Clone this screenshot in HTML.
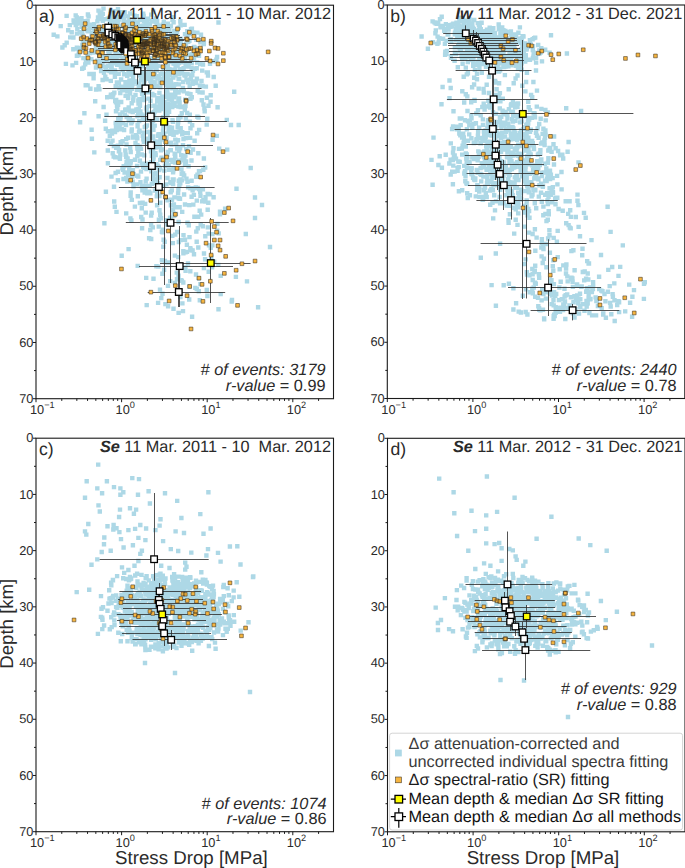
<!DOCTYPE html>
<html><head><meta charset="utf-8"><style>
html,body{margin:0;padding:0;background:#fff;width:685px;height:868px;overflow:hidden}
svg{display:block;font-family:"Liberation Sans",sans-serif;text-rendering:geometricPrecision}
text,tspan{text-rendering:geometricPrecision}
</style></head><body><svg width="685" height="868" viewBox="0 0 685 868" font-family="Liberation Sans, sans-serif" fill="#2a2a2a"><clipPath id="clip-a"><rect x="36.00" y="5.20" width="297.5" height="393.5"/></clipPath>
<g clip-path="url(#clip-a)">
<path d="M243.6 231.8h4.4v4.4h-4.4zM267.8 244.8h4.4v4.4h-4.4zM244.8 279.2h4.4v4.4h-4.4zM229.8 297.8h4.4v4.4h-4.4zM252.8 215.8h4.4v4.4h-4.4zM259.8 202.8h4.4v4.4h-4.4zM228.8 122.8h4.4v4.4h-4.4zM236.5 122.8h4.4v4.4h-4.4zM248.5 165.8h4.4v4.4h-4.4zM252.8 195.3h4.4v4.4h-4.4zM234.3 186.5h4.4v4.4h-4.4zM101.3 6.4h4.4v4.4h-4.4zM115.8 6.9h4.4v4.4h-4.4zM108.6 8.6h4.4v4.4h-4.4zM96.3 8.4h4.4v4.4h-4.4zM111.9 9.0h4.4v4.4h-4.4zM151.1 9.5h4.4v4.4h-4.4zM119.3 10.0h4.4v4.4h-4.4zM99.1 10.2h4.4v4.4h-4.4zM122.5 10.1h4.4v4.4h-4.4zM127.9 11.3h4.4v4.4h-4.4zM100.6 11.7h4.4v4.4h-4.4zM110.5 11.0h4.4v4.4h-4.4zM141.0 11.4h4.4v4.4h-4.4zM85.7 12.3h4.4v4.4h-4.4zM97.6 12.1h4.4v4.4h-4.4zM121.9 11.8h4.4v4.4h-4.4zM149.0 12.4h4.4v4.4h-4.4zM97.7 13.0h4.4v4.4h-4.4zM132.4 13.6h4.4v4.4h-4.4zM73.5 13.2h4.4v4.4h-4.4zM64.4 13.7h4.4v4.4h-4.4zM141.5 13.8h4.4v4.4h-4.4zM109.2 14.2h4.4v4.4h-4.4zM134.7 13.9h4.4v4.4h-4.4zM125.7 14.2h4.4v4.4h-4.4zM99.4 14.7h4.4v4.4h-4.4zM86.4 14.2h4.4v4.4h-4.4zM120.9 14.0h4.4v4.4h-4.4zM170.6 15.1h4.4v4.4h-4.4zM107.5 15.7h4.4v4.4h-4.4zM108.3 15.3h4.4v4.4h-4.4zM95.8 15.2h4.4v4.4h-4.4zM117.0 14.9h4.4v4.4h-4.4zM74.6 15.2h4.4v4.4h-4.4zM112.1 15.3h4.4v4.4h-4.4zM98.0 16.8h4.4v4.4h-4.4zM115.9 16.5h4.4v4.4h-4.4zM105.7 16.5h4.4v4.4h-4.4zM145.9 16.6h4.4v4.4h-4.4zM79.3 16.0h4.4v4.4h-4.4zM153.9 16.3h4.4v4.4h-4.4zM121.6 16.6h4.4v4.4h-4.4zM102.2 17.1h4.4v4.4h-4.4zM113.5 17.0h4.4v4.4h-4.4zM137.5 17.8h4.4v4.4h-4.4zM75.9 16.9h4.4v4.4h-4.4zM127.2 17.0h4.4v4.4h-4.4zM116.5 17.3h4.4v4.4h-4.4zM76.8 17.5h4.4v4.4h-4.4zM170.3 17.6h4.4v4.4h-4.4zM132.2 18.0h4.4v4.4h-4.4zM141.9 18.8h4.4v4.4h-4.4zM85.4 18.7h4.4v4.4h-4.4zM100.6 18.6h4.4v4.4h-4.4zM71.4 18.2h4.4v4.4h-4.4zM149.5 18.7h4.4v4.4h-4.4zM154.9 18.7h4.4v4.4h-4.4zM150.0 18.4h4.4v4.4h-4.4zM121.3 18.0h4.4v4.4h-4.4zM150.1 19.3h4.4v4.4h-4.4zM82.6 19.1h4.4v4.4h-4.4zM161.6 19.4h4.4v4.4h-4.4zM131.8 19.8h4.4v4.4h-4.4zM111.2 19.6h4.4v4.4h-4.4zM107.6 19.4h4.4v4.4h-4.4zM95.2 19.2h4.4v4.4h-4.4zM178.1 19.1h4.4v4.4h-4.4zM125.5 19.4h4.4v4.4h-4.4zM144.8 19.7h4.4v4.4h-4.4zM128.0 20.7h4.4v4.4h-4.4zM71.7 20.3h4.4v4.4h-4.4zM109.2 20.2h4.4v4.4h-4.4zM171.4 20.0h4.4v4.4h-4.4zM154.3 19.9h4.4v4.4h-4.4zM134.6 20.3h4.4v4.4h-4.4zM132.4 20.6h4.4v4.4h-4.4zM75.8 20.7h4.4v4.4h-4.4zM216.3 20.3h4.4v4.4h-4.4zM78.1 20.3h4.4v4.4h-4.4zM153.9 20.0h4.4v4.4h-4.4zM74.2 21.6h4.4v4.4h-4.4zM135.5 21.1h4.4v4.4h-4.4zM129.5 20.8h4.4v4.4h-4.4zM145.5 21.5h4.4v4.4h-4.4zM110.6 21.3h4.4v4.4h-4.4zM115.9 21.1h4.4v4.4h-4.4zM154.8 21.2h4.4v4.4h-4.4zM76.7 21.0h4.4v4.4h-4.4zM115.0 21.1h4.4v4.4h-4.4zM165.7 21.4h4.4v4.4h-4.4zM114.3 20.9h4.4v4.4h-4.4zM143.4 22.7h4.4v4.4h-4.4zM160.6 22.4h4.4v4.4h-4.4zM91.9 21.9h4.4v4.4h-4.4zM111.1 22.5h4.4v4.4h-4.4zM122.6 21.9h4.4v4.4h-4.4zM182.4 22.7h4.4v4.4h-4.4zM84.8 22.6h4.4v4.4h-4.4zM147.7 22.4h4.4v4.4h-4.4zM155.3 22.7h4.4v4.4h-4.4zM88.3 22.5h4.4v4.4h-4.4zM81.7 22.7h4.4v4.4h-4.4zM107.1 23.8h4.4v4.4h-4.4zM67.6 22.9h4.4v4.4h-4.4zM89.0 23.3h4.4v4.4h-4.4zM137.1 23.7h4.4v4.4h-4.4zM125.0 23.7h4.4v4.4h-4.4zM166.3 23.7h4.4v4.4h-4.4zM178.4 23.0h4.4v4.4h-4.4zM73.6 22.8h4.4v4.4h-4.4zM140.8 23.5h4.4v4.4h-4.4zM116.7 23.7h4.4v4.4h-4.4zM89.5 23.6h4.4v4.4h-4.4zM157.1 23.7h4.4v4.4h-4.4zM156.5 24.0h4.4v4.4h-4.4zM58.5 23.9h4.4v4.4h-4.4zM134.3 23.8h4.4v4.4h-4.4zM129.2 24.0h4.4v4.4h-4.4zM127.1 24.5h4.4v4.4h-4.4zM168.7 23.8h4.4v4.4h-4.4zM164.8 24.2h4.4v4.4h-4.4zM99.0 24.6h4.4v4.4h-4.4zM79.6 24.7h4.4v4.4h-4.4zM130.3 24.4h4.4v4.4h-4.4zM121.5 24.1h4.4v4.4h-4.4zM159.2 23.9h4.4v4.4h-4.4zM123.8 25.3h4.4v4.4h-4.4zM144.3 25.4h4.4v4.4h-4.4zM97.8 24.8h4.4v4.4h-4.4zM122.1 25.3h4.4v4.4h-4.4zM90.3 25.8h4.4v4.4h-4.4zM93.4 25.3h4.4v4.4h-4.4zM101.9 25.8h4.4v4.4h-4.4zM109.9 25.1h4.4v4.4h-4.4zM176.6 25.6h4.4v4.4h-4.4zM94.0 25.5h4.4v4.4h-4.4zM92.1 25.0h4.4v4.4h-4.4zM92.5 25.4h4.4v4.4h-4.4zM115.2 25.9h4.4v4.4h-4.4zM75.1 26.7h4.4v4.4h-4.4zM97.4 26.6h4.4v4.4h-4.4zM189.7 26.5h4.4v4.4h-4.4zM175.4 26.3h4.4v4.4h-4.4zM99.2 26.3h4.4v4.4h-4.4zM98.1 26.5h4.4v4.4h-4.4zM116.3 26.6h4.4v4.4h-4.4zM175.7 26.8h4.4v4.4h-4.4zM158.2 26.1h4.4v4.4h-4.4zM88.0 25.8h4.4v4.4h-4.4zM110.8 26.7h4.4v4.4h-4.4zM86.6 27.2h4.4v4.4h-4.4zM94.2 27.7h4.4v4.4h-4.4zM161.4 27.4h4.4v4.4h-4.4zM114.6 27.6h4.4v4.4h-4.4zM188.8 27.1h4.4v4.4h-4.4zM135.7 27.4h4.4v4.4h-4.4zM149.1 27.6h4.4v4.4h-4.4zM81.3 27.0h4.4v4.4h-4.4zM163.3 27.7h4.4v4.4h-4.4zM97.9 27.6h4.4v4.4h-4.4zM158.8 27.4h4.4v4.4h-4.4zM167.1 27.7h4.4v4.4h-4.4zM116.6 28.0h4.4v4.4h-4.4zM86.8 27.8h4.4v4.4h-4.4zM135.9 27.9h4.4v4.4h-4.4zM140.3 28.1h4.4v4.4h-4.4zM164.3 27.9h4.4v4.4h-4.4zM106.9 28.5h4.4v4.4h-4.4zM152.9 28.7h4.4v4.4h-4.4zM102.5 28.1h4.4v4.4h-4.4zM172.1 28.8h4.4v4.4h-4.4zM66.0 28.0h4.4v4.4h-4.4zM123.8 27.9h4.4v4.4h-4.4zM134.1 28.8h4.4v4.4h-4.4zM92.4 28.5h4.4v4.4h-4.4zM185.1 29.1h4.4v4.4h-4.4zM85.4 28.9h4.4v4.4h-4.4zM137.5 29.4h4.4v4.4h-4.4zM104.3 29.5h4.4v4.4h-4.4zM151.6 28.9h4.4v4.4h-4.4zM128.3 29.7h4.4v4.4h-4.4zM142.4 29.7h4.4v4.4h-4.4zM127.2 29.3h4.4v4.4h-4.4zM99.3 29.6h4.4v4.4h-4.4zM85.9 29.0h4.4v4.4h-4.4zM131.0 29.7h4.4v4.4h-4.4zM159.2 29.2h4.4v4.4h-4.4zM86.6 29.1h4.4v4.4h-4.4zM106.0 30.5h4.4v4.4h-4.4zM149.3 30.5h4.4v4.4h-4.4zM120.7 30.0h4.4v4.4h-4.4zM103.5 30.0h4.4v4.4h-4.4zM195.2 30.4h4.4v4.4h-4.4zM191.1 30.3h4.4v4.4h-4.4zM77.5 29.9h4.4v4.4h-4.4zM174.9 30.2h4.4v4.4h-4.4zM156.2 30.5h4.4v4.4h-4.4zM134.4 30.7h4.4v4.4h-4.4zM69.5 30.0h4.4v4.4h-4.4zM89.6 30.7h4.4v4.4h-4.4zM129.6 30.7h4.4v4.4h-4.4zM120.9 31.3h4.4v4.4h-4.4zM116.0 31.5h4.4v4.4h-4.4zM129.8 31.0h4.4v4.4h-4.4zM189.8 31.3h4.4v4.4h-4.4zM163.5 31.3h4.4v4.4h-4.4zM99.1 30.9h4.4v4.4h-4.4zM153.1 31.2h4.4v4.4h-4.4zM93.0 31.0h4.4v4.4h-4.4zM171.6 31.0h4.4v4.4h-4.4zM172.9 31.6h4.4v4.4h-4.4zM79.5 31.0h4.4v4.4h-4.4zM79.7 31.2h4.4v4.4h-4.4zM74.8 31.4h4.4v4.4h-4.4zM150.8 30.9h4.4v4.4h-4.4zM107.8 32.2h4.4v4.4h-4.4zM107.0 32.5h4.4v4.4h-4.4zM108.2 32.5h4.4v4.4h-4.4zM198.8 32.5h4.4v4.4h-4.4zM182.8 31.9h4.4v4.4h-4.4zM169.2 31.9h4.4v4.4h-4.4zM186.0 32.5h4.4v4.4h-4.4zM105.5 32.7h4.4v4.4h-4.4zM151.9 32.1h4.4v4.4h-4.4zM106.9 32.8h4.4v4.4h-4.4zM51.5 32.5h4.4v4.4h-4.4zM152.3 32.4h4.4v4.4h-4.4zM130.3 32.0h4.4v4.4h-4.4zM80.3 32.4h4.4v4.4h-4.4zM95.0 33.7h4.4v4.4h-4.4zM134.5 33.4h4.4v4.4h-4.4zM136.1 33.7h4.4v4.4h-4.4zM162.3 33.3h4.4v4.4h-4.4zM192.1 33.4h4.4v4.4h-4.4zM97.6 33.2h4.4v4.4h-4.4zM162.4 33.3h4.4v4.4h-4.4zM146.2 33.7h4.4v4.4h-4.4zM142.4 32.8h4.4v4.4h-4.4zM120.9 33.4h4.4v4.4h-4.4zM160.2 33.3h4.4v4.4h-4.4zM93.9 33.5h4.4v4.4h-4.4zM110.4 33.3h4.4v4.4h-4.4zM101.5 33.6h4.4v4.4h-4.4zM146.9 34.0h4.4v4.4h-4.4zM175.0 34.8h4.4v4.4h-4.4zM159.1 33.8h4.4v4.4h-4.4zM162.7 33.9h4.4v4.4h-4.4zM127.9 33.9h4.4v4.4h-4.4zM139.6 34.5h4.4v4.4h-4.4zM114.0 34.2h4.4v4.4h-4.4zM173.9 34.8h4.4v4.4h-4.4zM121.2 33.8h4.4v4.4h-4.4zM140.7 33.9h4.4v4.4h-4.4zM98.7 34.6h4.4v4.4h-4.4zM89.3 34.2h4.4v4.4h-4.4zM55.2 34.2h4.4v4.4h-4.4zM154.0 34.2h4.4v4.4h-4.4zM68.0 35.2h4.4v4.4h-4.4zM133.6 34.9h4.4v4.4h-4.4zM98.0 35.6h4.4v4.4h-4.4zM156.4 35.2h4.4v4.4h-4.4zM129.2 35.3h4.4v4.4h-4.4zM114.6 35.1h4.4v4.4h-4.4zM94.7 35.4h4.4v4.4h-4.4zM165.3 35.3h4.4v4.4h-4.4zM93.4 34.8h4.4v4.4h-4.4zM109.2 35.4h4.4v4.4h-4.4zM134.5 35.0h4.4v4.4h-4.4zM142.7 34.9h4.4v4.4h-4.4zM111.7 35.7h4.4v4.4h-4.4zM71.2 35.3h4.4v4.4h-4.4zM148.9 35.9h4.4v4.4h-4.4zM178.2 36.4h4.4v4.4h-4.4zM146.9 35.8h4.4v4.4h-4.4zM155.1 35.8h4.4v4.4h-4.4zM151.1 36.0h4.4v4.4h-4.4zM120.6 36.2h4.4v4.4h-4.4zM169.0 36.7h4.4v4.4h-4.4zM133.1 35.8h4.4v4.4h-4.4zM150.4 36.2h4.4v4.4h-4.4zM167.8 36.1h4.4v4.4h-4.4zM176.1 36.8h4.4v4.4h-4.4zM145.5 36.7h4.4v4.4h-4.4zM173.5 36.7h4.4v4.4h-4.4zM111.1 36.1h4.4v4.4h-4.4zM194.2 37.6h4.4v4.4h-4.4zM115.6 36.8h4.4v4.4h-4.4zM115.2 37.6h4.4v4.4h-4.4zM162.6 37.5h4.4v4.4h-4.4zM117.5 37.3h4.4v4.4h-4.4zM94.2 37.6h4.4v4.4h-4.4zM117.6 37.4h4.4v4.4h-4.4zM86.1 37.0h4.4v4.4h-4.4zM167.7 37.6h4.4v4.4h-4.4zM108.3 37.8h4.4v4.4h-4.4zM178.9 36.9h4.4v4.4h-4.4zM116.7 36.8h4.4v4.4h-4.4zM118.3 37.1h4.4v4.4h-4.4zM158.3 37.6h4.4v4.4h-4.4zM187.2 38.6h4.4v4.4h-4.4zM100.1 38.0h4.4v4.4h-4.4zM117.4 38.8h4.4v4.4h-4.4zM110.8 38.5h4.4v4.4h-4.4zM87.0 38.0h4.4v4.4h-4.4zM170.8 38.4h4.4v4.4h-4.4zM152.1 38.1h4.4v4.4h-4.4zM165.8 38.5h4.4v4.4h-4.4zM97.2 38.3h4.4v4.4h-4.4zM136.0 38.8h4.4v4.4h-4.4zM175.6 37.8h4.4v4.4h-4.4zM85.0 38.2h4.4v4.4h-4.4zM171.9 38.0h4.4v4.4h-4.4zM87.5 38.8h4.4v4.4h-4.4zM96.7 39.6h4.4v4.4h-4.4zM141.0 39.8h4.4v4.4h-4.4zM111.9 39.0h4.4v4.4h-4.4zM186.0 39.6h4.4v4.4h-4.4zM138.0 39.3h4.4v4.4h-4.4zM132.9 38.8h4.4v4.4h-4.4zM103.7 38.8h4.4v4.4h-4.4zM142.7 38.9h4.4v4.4h-4.4zM111.7 39.2h4.4v4.4h-4.4zM167.0 39.0h4.4v4.4h-4.4zM119.6 38.9h4.4v4.4h-4.4zM97.8 38.9h4.4v4.4h-4.4zM118.7 39.8h4.4v4.4h-4.4zM97.8 39.2h4.4v4.4h-4.4zM130.0 39.9h4.4v4.4h-4.4zM118.5 40.1h4.4v4.4h-4.4zM64.5 40.4h4.4v4.4h-4.4zM141.8 39.8h4.4v4.4h-4.4zM80.6 40.1h4.4v4.4h-4.4zM100.0 40.2h4.4v4.4h-4.4zM150.4 40.1h4.4v4.4h-4.4zM130.4 40.5h4.4v4.4h-4.4zM118.7 40.8h4.4v4.4h-4.4zM122.4 40.6h4.4v4.4h-4.4zM161.7 40.7h4.4v4.4h-4.4zM82.0 40.1h4.4v4.4h-4.4zM198.1 40.0h4.4v4.4h-4.4zM120.4 40.8h4.4v4.4h-4.4zM178.7 41.1h4.4v4.4h-4.4zM98.7 41.2h4.4v4.4h-4.4zM171.7 40.9h4.4v4.4h-4.4zM107.2 41.5h4.4v4.4h-4.4zM183.8 41.6h4.4v4.4h-4.4zM154.3 41.7h4.4v4.4h-4.4zM162.6 41.5h4.4v4.4h-4.4zM106.9 41.0h4.4v4.4h-4.4zM111.5 40.9h4.4v4.4h-4.4zM113.0 41.0h4.4v4.4h-4.4zM145.8 41.4h4.4v4.4h-4.4zM201.7 40.9h4.4v4.4h-4.4zM130.7 41.5h4.4v4.4h-4.4zM131.3 41.1h4.4v4.4h-4.4zM143.0 41.8h4.4v4.4h-4.4zM166.1 42.3h4.4v4.4h-4.4zM137.9 42.5h4.4v4.4h-4.4zM114.3 42.0h4.4v4.4h-4.4zM116.5 42.4h4.4v4.4h-4.4zM100.9 42.0h4.4v4.4h-4.4zM122.4 42.7h4.4v4.4h-4.4zM100.9 41.9h4.4v4.4h-4.4zM201.6 41.9h4.4v4.4h-4.4zM143.7 42.3h4.4v4.4h-4.4zM107.8 42.7h4.4v4.4h-4.4zM173.8 41.9h4.4v4.4h-4.4zM95.4 42.1h4.4v4.4h-4.4zM109.2 42.2h4.4v4.4h-4.4zM175.2 43.2h4.4v4.4h-4.4zM99.9 43.7h4.4v4.4h-4.4zM121.0 43.0h4.4v4.4h-4.4zM126.7 43.4h4.4v4.4h-4.4zM80.1 43.1h4.4v4.4h-4.4zM145.0 43.8h4.4v4.4h-4.4zM131.7 43.5h4.4v4.4h-4.4zM62.5 43.1h4.4v4.4h-4.4zM151.3 43.6h4.4v4.4h-4.4zM139.5 43.2h4.4v4.4h-4.4zM142.5 42.8h4.4v4.4h-4.4zM132.0 43.8h4.4v4.4h-4.4zM111.1 43.5h4.4v4.4h-4.4zM130.3 43.4h4.4v4.4h-4.4zM109.4 44.2h4.4v4.4h-4.4zM137.2 43.8h4.4v4.4h-4.4zM173.6 43.9h4.4v4.4h-4.4zM97.4 44.4h4.4v4.4h-4.4zM138.4 44.7h4.4v4.4h-4.4zM158.2 44.5h4.4v4.4h-4.4zM125.6 44.3h4.4v4.4h-4.4zM163.6 44.2h4.4v4.4h-4.4zM113.2 44.3h4.4v4.4h-4.4zM142.5 44.7h4.4v4.4h-4.4zM149.8 44.5h4.4v4.4h-4.4zM103.5 44.8h4.4v4.4h-4.4zM110.8 44.2h4.4v4.4h-4.4zM109.3 44.5h4.4v4.4h-4.4zM183.5 45.1h4.4v4.4h-4.4zM173.0 45.6h4.4v4.4h-4.4zM134.7 45.4h4.4v4.4h-4.4zM191.8 44.8h4.4v4.4h-4.4zM118.2 44.9h4.4v4.4h-4.4zM129.1 45.0h4.4v4.4h-4.4zM121.4 45.1h4.4v4.4h-4.4zM93.7 45.1h4.4v4.4h-4.4zM163.4 45.3h4.4v4.4h-4.4zM192.5 45.5h4.4v4.4h-4.4zM129.8 45.6h4.4v4.4h-4.4zM78.7 45.7h4.4v4.4h-4.4zM60.2 45.3h4.4v4.4h-4.4zM74.7 45.5h4.4v4.4h-4.4zM148.5 46.7h4.4v4.4h-4.4zM81.3 46.0h4.4v4.4h-4.4zM127.8 46.1h4.4v4.4h-4.4zM105.1 46.6h4.4v4.4h-4.4zM74.9 46.4h4.4v4.4h-4.4zM133.6 46.4h4.4v4.4h-4.4zM149.9 46.2h4.4v4.4h-4.4zM195.7 46.1h4.4v4.4h-4.4zM114.8 46.1h4.4v4.4h-4.4zM198.5 46.5h4.4v4.4h-4.4zM174.4 46.8h4.4v4.4h-4.4zM120.7 45.9h4.4v4.4h-4.4zM153.4 46.4h4.4v4.4h-4.4zM99.9 45.9h4.4v4.4h-4.4zM117.2 47.7h4.4v4.4h-4.4zM94.1 47.0h4.4v4.4h-4.4zM157.3 47.2h4.4v4.4h-4.4zM108.1 46.8h4.4v4.4h-4.4zM71.1 47.0h4.4v4.4h-4.4zM146.1 47.7h4.4v4.4h-4.4zM98.3 47.7h4.4v4.4h-4.4zM144.1 47.3h4.4v4.4h-4.4zM153.0 47.6h4.4v4.4h-4.4zM166.1 46.9h4.4v4.4h-4.4zM119.1 47.7h4.4v4.4h-4.4zM93.9 47.1h4.4v4.4h-4.4zM175.8 47.1h4.4v4.4h-4.4zM185.1 47.3h4.4v4.4h-4.4zM80.5 48.1h4.4v4.4h-4.4zM154.1 48.6h4.4v4.4h-4.4zM123.4 47.9h4.4v4.4h-4.4zM91.2 48.7h4.4v4.4h-4.4zM135.9 48.1h4.4v4.4h-4.4zM100.6 48.8h4.4v4.4h-4.4zM152.3 48.2h4.4v4.4h-4.4zM137.9 48.7h4.4v4.4h-4.4zM108.6 48.2h4.4v4.4h-4.4zM106.2 48.7h4.4v4.4h-4.4zM130.7 48.6h4.4v4.4h-4.4zM129.8 48.0h4.4v4.4h-4.4zM115.2 48.4h4.4v4.4h-4.4zM117.0 48.5h4.4v4.4h-4.4zM166.9 49.0h4.4v4.4h-4.4zM118.5 49.1h4.4v4.4h-4.4zM121.7 48.9h4.4v4.4h-4.4zM91.9 49.3h4.4v4.4h-4.4zM96.5 49.8h4.4v4.4h-4.4zM139.9 49.5h4.4v4.4h-4.4zM115.6 49.3h4.4v4.4h-4.4zM138.5 49.3h4.4v4.4h-4.4zM125.0 49.5h4.4v4.4h-4.4zM128.4 49.7h4.4v4.4h-4.4zM90.3 49.1h4.4v4.4h-4.4zM158.2 48.9h4.4v4.4h-4.4zM76.6 49.3h4.4v4.4h-4.4zM153.5 49.2h4.4v4.4h-4.4zM122.2 50.7h4.4v4.4h-4.4zM114.1 50.2h4.4v4.4h-4.4zM143.8 49.8h4.4v4.4h-4.4zM119.2 50.2h4.4v4.4h-4.4zM138.6 50.3h4.4v4.4h-4.4zM92.9 50.1h4.4v4.4h-4.4zM177.4 50.4h4.4v4.4h-4.4zM153.9 50.4h4.4v4.4h-4.4zM106.9 49.9h4.4v4.4h-4.4zM163.8 50.6h4.4v4.4h-4.4zM107.3 49.9h4.4v4.4h-4.4zM137.6 50.8h4.4v4.4h-4.4zM90.2 50.4h4.4v4.4h-4.4zM138.2 50.2h4.4v4.4h-4.4zM113.4 51.7h4.4v4.4h-4.4zM153.9 51.7h4.4v4.4h-4.4zM177.0 51.4h4.4v4.4h-4.4zM183.1 51.0h4.4v4.4h-4.4zM171.6 51.7h4.4v4.4h-4.4zM124.5 51.3h4.4v4.4h-4.4zM127.6 50.9h4.4v4.4h-4.4zM87.8 50.9h4.4v4.4h-4.4zM158.8 51.1h4.4v4.4h-4.4zM173.5 51.5h4.4v4.4h-4.4zM123.4 51.7h4.4v4.4h-4.4zM153.1 51.5h4.4v4.4h-4.4zM131.3 51.0h4.4v4.4h-4.4zM116.2 51.0h4.4v4.4h-4.4zM157.2 52.5h4.4v4.4h-4.4zM136.4 51.8h4.4v4.4h-4.4zM184.5 52.2h4.4v4.4h-4.4zM178.9 51.9h4.4v4.4h-4.4zM124.8 52.6h4.4v4.4h-4.4zM189.6 51.9h4.4v4.4h-4.4zM173.0 52.6h4.4v4.4h-4.4zM139.8 52.8h4.4v4.4h-4.4zM98.1 52.4h4.4v4.4h-4.4zM145.4 51.9h4.4v4.4h-4.4zM128.9 52.7h4.4v4.4h-4.4zM167.7 52.4h4.4v4.4h-4.4zM155.0 52.0h4.4v4.4h-4.4zM185.4 52.7h4.4v4.4h-4.4zM131.7 53.3h4.4v4.4h-4.4zM157.9 53.0h4.4v4.4h-4.4zM76.4 53.1h4.4v4.4h-4.4zM155.1 53.0h4.4v4.4h-4.4zM105.9 53.6h4.4v4.4h-4.4zM139.8 53.4h4.4v4.4h-4.4zM192.2 53.7h4.4v4.4h-4.4zM115.1 53.1h4.4v4.4h-4.4zM74.7 53.6h4.4v4.4h-4.4zM110.9 53.7h4.4v4.4h-4.4zM117.9 53.5h4.4v4.4h-4.4zM196.8 53.6h4.4v4.4h-4.4zM171.6 53.7h4.4v4.4h-4.4zM176.1 54.1h4.4v4.4h-4.4zM164.4 53.8h4.4v4.4h-4.4zM173.2 54.0h4.4v4.4h-4.4zM133.6 54.5h4.4v4.4h-4.4zM176.4 54.5h4.4v4.4h-4.4zM157.0 54.3h4.4v4.4h-4.4zM173.6 54.6h4.4v4.4h-4.4zM167.4 54.0h4.4v4.4h-4.4zM85.2 54.6h4.4v4.4h-4.4zM158.2 53.9h4.4v4.4h-4.4zM169.7 54.1h4.4v4.4h-4.4zM113.6 54.1h4.4v4.4h-4.4zM100.7 54.3h4.4v4.4h-4.4zM117.3 54.0h4.4v4.4h-4.4zM155.6 55.3h4.4v4.4h-4.4zM121.0 55.8h4.4v4.4h-4.4zM108.9 55.3h4.4v4.4h-4.4zM214.9 54.8h4.4v4.4h-4.4zM153.0 55.5h4.4v4.4h-4.4zM171.8 55.0h4.4v4.4h-4.4zM101.5 55.0h4.4v4.4h-4.4zM127.2 54.9h4.4v4.4h-4.4zM169.5 55.1h4.4v4.4h-4.4zM140.5 55.1h4.4v4.4h-4.4zM157.0 55.5h4.4v4.4h-4.4zM114.1 55.4h4.4v4.4h-4.4zM182.8 55.0h4.4v4.4h-4.4zM101.0 56.2h4.4v4.4h-4.4zM161.0 56.3h4.4v4.4h-4.4zM81.2 55.9h4.4v4.4h-4.4zM168.9 56.1h4.4v4.4h-4.4zM114.3 56.0h4.4v4.4h-4.4zM106.1 56.5h4.4v4.4h-4.4zM161.9 56.6h4.4v4.4h-4.4zM149.3 56.1h4.4v4.4h-4.4zM191.8 56.5h4.4v4.4h-4.4zM152.5 56.3h4.4v4.4h-4.4zM142.3 56.4h4.4v4.4h-4.4zM112.4 56.3h4.4v4.4h-4.4zM140.9 56.6h4.4v4.4h-4.4zM172.4 57.4h4.4v4.4h-4.4zM131.5 56.9h4.4v4.4h-4.4zM105.4 57.7h4.4v4.4h-4.4zM123.7 57.1h4.4v4.4h-4.4zM153.8 56.9h4.4v4.4h-4.4zM154.5 57.7h4.4v4.4h-4.4zM214.2 57.6h4.4v4.4h-4.4zM110.9 57.0h4.4v4.4h-4.4zM120.5 57.2h4.4v4.4h-4.4zM141.3 57.1h4.4v4.4h-4.4zM157.9 57.0h4.4v4.4h-4.4zM89.1 56.9h4.4v4.4h-4.4zM155.7 57.4h4.4v4.4h-4.4zM165.5 57.3h4.4v4.4h-4.4zM108.6 57.9h4.4v4.4h-4.4zM188.5 58.4h4.4v4.4h-4.4zM100.9 58.8h4.4v4.4h-4.4zM124.7 58.5h4.4v4.4h-4.4zM109.3 57.9h4.4v4.4h-4.4zM95.8 58.7h4.4v4.4h-4.4zM163.1 58.7h4.4v4.4h-4.4zM140.8 58.7h4.4v4.4h-4.4zM137.5 58.7h4.4v4.4h-4.4zM127.7 58.7h4.4v4.4h-4.4zM159.6 58.2h4.4v4.4h-4.4zM95.1 58.4h4.4v4.4h-4.4zM83.7 58.4h4.4v4.4h-4.4zM169.3 59.5h4.4v4.4h-4.4zM165.5 59.0h4.4v4.4h-4.4zM150.1 59.3h4.4v4.4h-4.4zM149.4 59.3h4.4v4.4h-4.4zM183.1 58.8h4.4v4.4h-4.4zM138.9 58.9h4.4v4.4h-4.4zM101.3 59.1h4.4v4.4h-4.4zM99.8 59.1h4.4v4.4h-4.4zM152.1 59.6h4.4v4.4h-4.4zM171.6 58.9h4.4v4.4h-4.4zM116.2 59.8h4.4v4.4h-4.4zM153.3 59.5h4.4v4.4h-4.4zM212.3 59.1h4.4v4.4h-4.4zM136.3 60.0h4.4v4.4h-4.4zM135.1 60.5h4.4v4.4h-4.4zM179.0 60.0h4.4v4.4h-4.4zM112.2 60.6h4.4v4.4h-4.4zM86.2 60.3h4.4v4.4h-4.4zM189.5 60.5h4.4v4.4h-4.4zM174.4 60.2h4.4v4.4h-4.4zM132.3 60.1h4.4v4.4h-4.4zM138.5 60.2h4.4v4.4h-4.4zM73.9 60.7h4.4v4.4h-4.4zM176.7 60.8h4.4v4.4h-4.4zM174.5 59.8h4.4v4.4h-4.4zM195.0 60.3h4.4v4.4h-4.4zM138.7 61.0h4.4v4.4h-4.4zM63.7 61.7h4.4v4.4h-4.4zM134.4 61.0h4.4v4.4h-4.4zM146.6 61.1h4.4v4.4h-4.4zM185.9 61.4h4.4v4.4h-4.4zM172.6 61.7h4.4v4.4h-4.4zM118.9 60.8h4.4v4.4h-4.4zM114.3 61.4h4.4v4.4h-4.4zM207.8 61.7h4.4v4.4h-4.4zM171.3 61.3h4.4v4.4h-4.4zM108.4 61.2h4.4v4.4h-4.4zM132.2 61.2h4.4v4.4h-4.4zM165.9 61.0h4.4v4.4h-4.4zM120.4 62.7h4.4v4.4h-4.4zM138.1 62.6h4.4v4.4h-4.4zM83.0 62.2h4.4v4.4h-4.4zM200.8 62.3h4.4v4.4h-4.4zM115.0 62.7h4.4v4.4h-4.4zM95.5 62.5h4.4v4.4h-4.4zM123.9 62.3h4.4v4.4h-4.4zM198.0 61.9h4.4v4.4h-4.4zM147.2 62.1h4.4v4.4h-4.4zM153.4 61.8h4.4v4.4h-4.4zM184.1 62.8h4.4v4.4h-4.4zM153.9 62.8h4.4v4.4h-4.4zM108.9 63.1h4.4v4.4h-4.4zM70.3 63.2h4.4v4.4h-4.4zM147.7 63.2h4.4v4.4h-4.4zM130.9 63.7h4.4v4.4h-4.4zM137.4 63.6h4.4v4.4h-4.4zM132.9 63.0h4.4v4.4h-4.4zM165.1 63.0h4.4v4.4h-4.4zM183.4 63.6h4.4v4.4h-4.4zM151.3 63.7h4.4v4.4h-4.4zM175.4 63.2h4.4v4.4h-4.4zM156.3 63.7h4.4v4.4h-4.4zM106.0 63.5h4.4v4.4h-4.4zM100.1 63.3h4.4v4.4h-4.4zM103.3 64.6h4.4v4.4h-4.4zM120.6 64.8h4.4v4.4h-4.4zM118.8 64.8h4.4v4.4h-4.4zM119.4 64.3h4.4v4.4h-4.4zM173.4 63.9h4.4v4.4h-4.4zM135.4 64.2h4.4v4.4h-4.4zM128.0 64.4h4.4v4.4h-4.4zM186.4 64.3h4.4v4.4h-4.4zM140.3 64.2h4.4v4.4h-4.4zM98.7 64.1h4.4v4.4h-4.4zM184.1 64.4h4.4v4.4h-4.4zM165.7 64.5h4.4v4.4h-4.4zM128.8 65.8h4.4v4.4h-4.4zM118.7 65.1h4.4v4.4h-4.4zM153.9 64.9h4.4v4.4h-4.4zM93.8 65.3h4.4v4.4h-4.4zM133.5 65.6h4.4v4.4h-4.4zM189.4 65.4h4.4v4.4h-4.4zM130.1 65.3h4.4v4.4h-4.4zM161.4 65.5h4.4v4.4h-4.4zM151.2 65.4h4.4v4.4h-4.4zM81.5 65.6h4.4v4.4h-4.4zM109.5 64.9h4.4v4.4h-4.4zM145.9 65.1h4.4v4.4h-4.4zM131.4 66.1h4.4v4.4h-4.4zM192.6 66.5h4.4v4.4h-4.4zM181.4 66.1h4.4v4.4h-4.4zM132.7 66.5h4.4v4.4h-4.4zM109.0 66.3h4.4v4.4h-4.4zM147.2 66.1h4.4v4.4h-4.4zM194.5 66.1h4.4v4.4h-4.4zM80.0 66.5h4.4v4.4h-4.4zM123.2 65.9h4.4v4.4h-4.4zM148.2 66.5h4.4v4.4h-4.4zM127.1 66.4h4.4v4.4h-4.4zM169.9 67.6h4.4v4.4h-4.4zM154.0 67.6h4.4v4.4h-4.4zM131.4 66.9h4.4v4.4h-4.4zM179.1 67.1h4.4v4.4h-4.4zM177.9 67.0h4.4v4.4h-4.4zM167.3 67.1h4.4v4.4h-4.4zM172.9 67.8h4.4v4.4h-4.4zM191.0 66.8h4.4v4.4h-4.4zM134.0 67.6h4.4v4.4h-4.4zM126.3 67.1h4.4v4.4h-4.4zM179.3 67.1h4.4v4.4h-4.4zM112.8 68.5h4.4v4.4h-4.4zM120.5 67.9h4.4v4.4h-4.4zM154.5 68.2h4.4v4.4h-4.4zM103.8 68.1h4.4v4.4h-4.4zM166.0 68.6h4.4v4.4h-4.4zM200.0 68.4h4.4v4.4h-4.4zM179.8 68.5h4.4v4.4h-4.4zM167.4 67.9h4.4v4.4h-4.4zM134.4 68.2h4.4v4.4h-4.4zM112.6 68.2h4.4v4.4h-4.4zM190.7 68.5h4.4v4.4h-4.4zM107.3 68.8h4.4v4.4h-4.4zM127.3 69.6h4.4v4.4h-4.4zM109.9 69.4h4.4v4.4h-4.4zM166.1 69.3h4.4v4.4h-4.4zM98.9 68.8h4.4v4.4h-4.4zM135.2 69.6h4.4v4.4h-4.4zM141.0 69.8h4.4v4.4h-4.4zM127.7 69.3h4.4v4.4h-4.4zM126.4 69.5h4.4v4.4h-4.4zM147.0 69.0h4.4v4.4h-4.4zM174.8 69.8h4.4v4.4h-4.4zM205.6 70.2h4.4v4.4h-4.4zM139.7 70.0h4.4v4.4h-4.4zM146.5 70.5h4.4v4.4h-4.4zM127.2 70.2h4.4v4.4h-4.4zM109.0 70.2h4.4v4.4h-4.4zM113.1 70.5h4.4v4.4h-4.4zM178.3 70.1h4.4v4.4h-4.4zM204.6 70.2h4.4v4.4h-4.4zM101.8 70.7h4.4v4.4h-4.4zM167.8 70.2h4.4v4.4h-4.4zM178.1 70.7h4.4v4.4h-4.4zM138.8 70.9h4.4v4.4h-4.4zM130.6 71.0h4.4v4.4h-4.4zM160.0 71.3h4.4v4.4h-4.4zM177.3 71.7h4.4v4.4h-4.4zM158.4 71.7h4.4v4.4h-4.4zM143.2 71.2h4.4v4.4h-4.4zM116.5 71.6h4.4v4.4h-4.4zM163.3 71.4h4.4v4.4h-4.4zM91.5 71.7h4.4v4.4h-4.4zM151.7 71.2h4.4v4.4h-4.4zM148.4 72.3h4.4v4.4h-4.4zM128.4 72.3h4.4v4.4h-4.4zM152.7 72.4h4.4v4.4h-4.4zM87.2 71.8h4.4v4.4h-4.4zM185.4 71.8h4.4v4.4h-4.4zM183.4 72.8h4.4v4.4h-4.4zM121.9 72.0h4.4v4.4h-4.4zM182.6 71.8h4.4v4.4h-4.4zM182.1 72.3h4.4v4.4h-4.4zM146.2 72.3h4.4v4.4h-4.4zM146.8 72.9h4.4v4.4h-4.4zM137.8 73.4h4.4v4.4h-4.4zM205.8 73.4h4.4v4.4h-4.4zM182.6 73.4h4.4v4.4h-4.4zM188.9 73.6h4.4v4.4h-4.4zM190.1 72.8h4.4v4.4h-4.4zM167.5 73.3h4.4v4.4h-4.4zM125.0 73.5h4.4v4.4h-4.4zM173.3 73.0h4.4v4.4h-4.4zM150.7 73.4h4.4v4.4h-4.4zM154.0 74.6h4.4v4.4h-4.4zM103.1 74.5h4.4v4.4h-4.4zM163.1 74.6h4.4v4.4h-4.4zM156.8 74.1h4.4v4.4h-4.4zM150.6 74.7h4.4v4.4h-4.4zM112.7 74.5h4.4v4.4h-4.4zM141.6 74.7h4.4v4.4h-4.4zM146.7 74.5h4.4v4.4h-4.4zM150.2 74.4h4.4v4.4h-4.4zM155.3 74.3h4.4v4.4h-4.4zM162.1 75.0h4.4v4.4h-4.4zM130.9 75.2h4.4v4.4h-4.4zM155.9 75.4h4.4v4.4h-4.4zM165.5 74.9h4.4v4.4h-4.4zM155.1 75.0h4.4v4.4h-4.4zM211.5 74.8h4.4v4.4h-4.4zM142.2 75.5h4.4v4.4h-4.4zM149.0 75.4h4.4v4.4h-4.4zM171.1 75.3h4.4v4.4h-4.4zM140.2 75.7h4.4v4.4h-4.4zM159.2 76.6h4.4v4.4h-4.4zM142.4 76.3h4.4v4.4h-4.4zM91.4 76.0h4.4v4.4h-4.4zM141.5 76.3h4.4v4.4h-4.4zM194.7 76.4h4.4v4.4h-4.4zM188.7 76.5h4.4v4.4h-4.4zM143.6 75.9h4.4v4.4h-4.4zM145.5 76.6h4.4v4.4h-4.4zM155.4 76.2h4.4v4.4h-4.4zM177.0 76.6h4.4v4.4h-4.4zM163.6 77.7h4.4v4.4h-4.4zM164.1 77.1h4.4v4.4h-4.4zM142.3 77.0h4.4v4.4h-4.4zM162.9 77.4h4.4v4.4h-4.4zM104.3 77.1h4.4v4.4h-4.4zM118.9 77.3h4.4v4.4h-4.4zM184.3 77.4h4.4v4.4h-4.4zM141.0 77.0h4.4v4.4h-4.4zM176.4 76.8h4.4v4.4h-4.4zM138.7 77.9h4.4v4.4h-4.4zM142.4 78.1h4.4v4.4h-4.4zM148.2 78.5h4.4v4.4h-4.4zM127.2 78.3h4.4v4.4h-4.4zM108.6 78.7h4.4v4.4h-4.4zM168.7 78.2h4.4v4.4h-4.4zM166.7 78.0h4.4v4.4h-4.4zM161.9 78.8h4.4v4.4h-4.4zM100.4 77.8h4.4v4.4h-4.4zM166.2 79.8h4.4v4.4h-4.4zM128.9 78.9h4.4v4.4h-4.4zM192.0 79.2h4.4v4.4h-4.4zM130.0 79.2h4.4v4.4h-4.4zM199.3 78.8h4.4v4.4h-4.4zM190.6 79.5h4.4v4.4h-4.4zM150.8 79.5h4.4v4.4h-4.4zM132.9 79.2h4.4v4.4h-4.4zM133.7 79.5h4.4v4.4h-4.4zM123.3 80.1h4.4v4.4h-4.4zM157.4 80.4h4.4v4.4h-4.4zM181.0 79.8h4.4v4.4h-4.4zM194.0 80.8h4.4v4.4h-4.4zM152.5 80.3h4.4v4.4h-4.4zM186.0 80.2h4.4v4.4h-4.4zM114.7 80.2h4.4v4.4h-4.4zM149.1 80.7h4.4v4.4h-4.4zM127.8 80.8h4.4v4.4h-4.4zM165.5 81.0h4.4v4.4h-4.4zM137.2 81.4h4.4v4.4h-4.4zM116.7 81.4h4.4v4.4h-4.4zM169.1 81.6h4.4v4.4h-4.4zM135.3 81.6h4.4v4.4h-4.4zM130.5 81.8h4.4v4.4h-4.4zM165.6 81.3h4.4v4.4h-4.4zM190.5 81.7h4.4v4.4h-4.4zM167.1 81.0h4.4v4.4h-4.4zM126.4 82.6h4.4v4.4h-4.4zM176.7 82.2h4.4v4.4h-4.4zM127.7 82.4h4.4v4.4h-4.4zM142.0 82.5h4.4v4.4h-4.4zM127.9 82.6h4.4v4.4h-4.4zM172.1 82.5h4.4v4.4h-4.4zM123.9 82.3h4.4v4.4h-4.4zM173.9 81.9h4.4v4.4h-4.4zM151.8 82.2h4.4v4.4h-4.4zM213.5 83.6h4.4v4.4h-4.4zM166.2 83.2h4.4v4.4h-4.4zM83.5 83.0h4.4v4.4h-4.4zM136.6 83.7h4.4v4.4h-4.4zM85.4 83.2h4.4v4.4h-4.4zM200.4 83.7h4.4v4.4h-4.4zM164.1 82.8h4.4v4.4h-4.4zM197.7 83.4h4.4v4.4h-4.4zM119.5 84.5h4.4v4.4h-4.4zM187.5 84.3h4.4v4.4h-4.4zM96.4 83.9h4.4v4.4h-4.4zM171.7 84.0h4.4v4.4h-4.4zM154.8 84.0h4.4v4.4h-4.4zM113.5 84.1h4.4v4.4h-4.4zM200.0 84.2h4.4v4.4h-4.4zM203.7 84.4h4.4v4.4h-4.4zM151.7 84.9h4.4v4.4h-4.4zM122.1 85.4h4.4v4.4h-4.4zM158.1 85.2h4.4v4.4h-4.4zM118.6 85.4h4.4v4.4h-4.4zM138.9 85.3h4.4v4.4h-4.4zM129.8 85.5h4.4v4.4h-4.4zM165.6 85.1h4.4v4.4h-4.4zM180.7 85.7h4.4v4.4h-4.4zM129.7 86.5h4.4v4.4h-4.4zM122.4 86.3h4.4v4.4h-4.4zM88.2 86.6h4.4v4.4h-4.4zM170.1 86.1h4.4v4.4h-4.4zM147.1 86.8h4.4v4.4h-4.4zM143.3 86.0h4.4v4.4h-4.4zM147.6 86.5h4.4v4.4h-4.4zM117.2 86.1h4.4v4.4h-4.4zM124.6 86.9h4.4v4.4h-4.4zM93.9 87.3h4.4v4.4h-4.4zM141.5 87.3h4.4v4.4h-4.4zM97.2 87.2h4.4v4.4h-4.4zM127.7 87.1h4.4v4.4h-4.4zM119.9 87.7h4.4v4.4h-4.4zM134.8 87.7h4.4v4.4h-4.4zM178.8 88.2h4.4v4.4h-4.4zM173.9 87.9h4.4v4.4h-4.4zM195.5 88.6h4.4v4.4h-4.4zM121.2 88.0h4.4v4.4h-4.4zM173.0 88.6h4.4v4.4h-4.4zM138.8 88.0h4.4v4.4h-4.4zM165.1 88.0h4.4v4.4h-4.4zM164.2 89.1h4.4v4.4h-4.4zM145.3 88.8h4.4v4.4h-4.4zM125.1 89.1h4.4v4.4h-4.4zM175.2 89.7h4.4v4.4h-4.4zM181.6 89.1h4.4v4.4h-4.4zM232.0 89.6h4.4v4.4h-4.4zM146.3 89.3h4.4v4.4h-4.4zM200.4 90.3h4.4v4.4h-4.4zM112.1 90.4h4.4v4.4h-4.4zM197.3 90.2h4.4v4.4h-4.4zM143.0 90.1h4.4v4.4h-4.4zM142.1 89.9h4.4v4.4h-4.4zM176.4 90.4h4.4v4.4h-4.4zM146.6 90.2h4.4v4.4h-4.4zM185.0 91.2h4.4v4.4h-4.4zM165.2 90.8h4.4v4.4h-4.4zM127.9 91.0h4.4v4.4h-4.4zM150.1 91.8h4.4v4.4h-4.4zM186.9 91.7h4.4v4.4h-4.4zM118.1 90.9h4.4v4.4h-4.4zM157.2 90.8h4.4v4.4h-4.4zM164.9 92.0h4.4v4.4h-4.4zM169.6 92.5h4.4v4.4h-4.4zM173.1 92.5h4.4v4.4h-4.4zM188.3 91.9h4.4v4.4h-4.4zM108.7 92.6h4.4v4.4h-4.4zM139.9 91.9h4.4v4.4h-4.4zM111.1 92.0h4.4v4.4h-4.4zM123.4 93.7h4.4v4.4h-4.4zM126.0 93.8h4.4v4.4h-4.4zM169.6 93.4h4.4v4.4h-4.4zM150.4 93.0h4.4v4.4h-4.4zM133.3 92.8h4.4v4.4h-4.4zM152.1 93.0h4.4v4.4h-4.4zM208.5 93.0h4.4v4.4h-4.4zM107.8 94.7h4.4v4.4h-4.4zM110.4 94.8h4.4v4.4h-4.4zM160.1 94.5h4.4v4.4h-4.4zM168.6 93.8h4.4v4.4h-4.4zM162.3 94.6h4.4v4.4h-4.4zM165.1 94.5h4.4v4.4h-4.4zM141.4 94.3h4.4v4.4h-4.4zM171.7 95.1h4.4v4.4h-4.4zM204.7 95.6h4.4v4.4h-4.4zM159.9 95.8h4.4v4.4h-4.4zM105.0 95.1h4.4v4.4h-4.4zM189.6 95.0h4.4v4.4h-4.4zM131.2 95.0h4.4v4.4h-4.4zM168.0 94.8h4.4v4.4h-4.4zM156.5 96.1h4.4v4.4h-4.4zM176.2 96.2h4.4v4.4h-4.4zM176.9 96.2h4.4v4.4h-4.4zM125.9 95.9h4.4v4.4h-4.4zM188.3 96.7h4.4v4.4h-4.4zM166.5 96.7h4.4v4.4h-4.4zM146.3 96.4h4.4v4.4h-4.4zM155.2 97.1h4.4v4.4h-4.4zM159.7 97.2h4.4v4.4h-4.4zM137.2 96.9h4.4v4.4h-4.4zM169.7 97.5h4.4v4.4h-4.4zM114.0 97.7h4.4v4.4h-4.4zM183.0 97.6h4.4v4.4h-4.4zM140.8 97.1h4.4v4.4h-4.4zM199.6 98.1h4.4v4.4h-4.4zM131.0 98.3h4.4v4.4h-4.4zM136.1 98.2h4.4v4.4h-4.4zM148.3 98.6h4.4v4.4h-4.4zM141.9 97.9h4.4v4.4h-4.4zM155.0 98.4h4.4v4.4h-4.4zM155.8 98.6h4.4v4.4h-4.4zM113.0 98.9h4.4v4.4h-4.4zM137.7 99.1h4.4v4.4h-4.4zM162.2 99.8h4.4v4.4h-4.4zM208.3 99.6h4.4v4.4h-4.4zM155.0 99.4h4.4v4.4h-4.4zM93.0 99.1h4.4v4.4h-4.4zM176.3 99.4h4.4v4.4h-4.4zM116.1 99.8h4.4v4.4h-4.4zM119.0 99.8h4.4v4.4h-4.4zM113.8 100.2h4.4v4.4h-4.4zM172.4 100.7h4.4v4.4h-4.4zM177.4 100.3h4.4v4.4h-4.4zM162.0 100.5h4.4v4.4h-4.4zM162.4 101.5h4.4v4.4h-4.4zM136.3 101.4h4.4v4.4h-4.4zM114.9 100.8h4.4v4.4h-4.4zM129.5 101.1h4.4v4.4h-4.4zM157.9 101.6h4.4v4.4h-4.4zM166.0 101.3h4.4v4.4h-4.4zM159.7 102.6h4.4v4.4h-4.4zM166.8 102.6h4.4v4.4h-4.4zM170.6 102.0h4.4v4.4h-4.4zM168.3 102.7h4.4v4.4h-4.4zM201.3 102.3h4.4v4.4h-4.4zM115.9 102.5h4.4v4.4h-4.4zM165.3 102.4h4.4v4.4h-4.4zM152.1 103.6h4.4v4.4h-4.4zM172.1 103.6h4.4v4.4h-4.4zM206.3 103.5h4.4v4.4h-4.4zM137.8 103.6h4.4v4.4h-4.4zM158.6 103.5h4.4v4.4h-4.4zM114.8 103.3h4.4v4.4h-4.4zM154.7 104.2h4.4v4.4h-4.4zM101.4 104.8h4.4v4.4h-4.4zM181.7 104.4h4.4v4.4h-4.4zM147.4 103.8h4.4v4.4h-4.4zM176.2 104.4h4.4v4.4h-4.4zM183.3 103.9h4.4v4.4h-4.4zM178.5 104.8h4.4v4.4h-4.4zM170.1 104.9h4.4v4.4h-4.4zM144.7 105.3h4.4v4.4h-4.4zM156.8 105.3h4.4v4.4h-4.4zM215.4 105.1h4.4v4.4h-4.4zM126.5 105.2h4.4v4.4h-4.4zM144.5 105.0h4.4v4.4h-4.4zM143.9 106.2h4.4v4.4h-4.4zM136.3 106.7h4.4v4.4h-4.4zM166.7 106.2h4.4v4.4h-4.4zM163.5 106.6h4.4v4.4h-4.4zM162.3 106.1h4.4v4.4h-4.4zM202.2 106.2h4.4v4.4h-4.4zM153.3 107.7h4.4v4.4h-4.4zM159.2 106.8h4.4v4.4h-4.4zM115.1 106.8h4.4v4.4h-4.4zM123.0 107.6h4.4v4.4h-4.4zM134.2 107.3h4.4v4.4h-4.4zM123.8 107.3h4.4v4.4h-4.4zM129.7 108.6h4.4v4.4h-4.4zM126.5 108.2h4.4v4.4h-4.4zM136.6 107.9h4.4v4.4h-4.4zM182.6 107.9h4.4v4.4h-4.4zM157.1 108.3h4.4v4.4h-4.4zM134.1 108.6h4.4v4.4h-4.4zM128.2 109.2h4.4v4.4h-4.4zM166.9 109.5h4.4v4.4h-4.4zM152.7 109.2h4.4v4.4h-4.4zM202.5 109.0h4.4v4.4h-4.4zM113.8 109.1h4.4v4.4h-4.4zM138.2 109.3h4.4v4.4h-4.4zM120.3 110.2h4.4v4.4h-4.4zM130.5 109.9h4.4v4.4h-4.4zM148.6 110.7h4.4v4.4h-4.4zM150.4 110.5h4.4v4.4h-4.4zM144.5 110.3h4.4v4.4h-4.4zM152.0 110.0h4.4v4.4h-4.4zM82.2 111.1h4.4v4.4h-4.4zM163.5 111.8h4.4v4.4h-4.4zM179.6 111.0h4.4v4.4h-4.4zM163.1 110.8h4.4v4.4h-4.4zM185.0 110.8h4.4v4.4h-4.4zM136.0 111.7h4.4v4.4h-4.4zM187.6 112.4h4.4v4.4h-4.4zM104.3 112.4h4.4v4.4h-4.4zM139.2 112.2h4.4v4.4h-4.4zM122.8 112.4h4.4v4.4h-4.4zM117.8 112.2h4.4v4.4h-4.4zM141.6 113.5h4.4v4.4h-4.4zM165.3 112.8h4.4v4.4h-4.4zM148.7 113.2h4.4v4.4h-4.4zM148.6 112.9h4.4v4.4h-4.4zM137.7 113.0h4.4v4.4h-4.4zM151.7 113.6h4.4v4.4h-4.4zM177.9 114.4h4.4v4.4h-4.4zM148.1 114.6h4.4v4.4h-4.4zM135.3 114.2h4.4v4.4h-4.4zM195.2 114.5h4.4v4.4h-4.4zM96.4 114.1h4.4v4.4h-4.4zM151.6 114.3h4.4v4.4h-4.4zM118.4 115.4h4.4v4.4h-4.4zM160.9 115.2h4.4v4.4h-4.4zM196.3 115.3h4.4v4.4h-4.4zM150.8 115.6h4.4v4.4h-4.4zM178.3 115.1h4.4v4.4h-4.4zM124.5 114.8h4.4v4.4h-4.4zM127.7 116.0h4.4v4.4h-4.4zM205.1 116.6h4.4v4.4h-4.4zM160.7 116.7h4.4v4.4h-4.4zM183.7 116.3h4.4v4.4h-4.4zM116.0 116.4h4.4v4.4h-4.4zM176.4 116.0h4.4v4.4h-4.4zM176.0 117.6h4.4v4.4h-4.4zM144.1 117.5h4.4v4.4h-4.4zM149.1 117.8h4.4v4.4h-4.4zM224.6 117.7h4.4v4.4h-4.4zM155.0 117.3h4.4v4.4h-4.4zM140.5 117.1h4.4v4.4h-4.4zM150.9 118.7h4.4v4.4h-4.4zM117.1 118.1h4.4v4.4h-4.4zM170.3 118.0h4.4v4.4h-4.4zM130.4 118.2h4.4v4.4h-4.4zM126.5 118.4h4.4v4.4h-4.4zM102.9 118.5h4.4v4.4h-4.4zM163.8 119.0h4.4v4.4h-4.4zM170.7 119.6h4.4v4.4h-4.4zM187.7 119.4h4.4v4.4h-4.4zM129.7 119.6h4.4v4.4h-4.4zM137.0 118.9h4.4v4.4h-4.4zM149.9 120.5h4.4v4.4h-4.4zM118.2 120.3h4.4v4.4h-4.4zM176.0 120.0h4.4v4.4h-4.4zM116.7 120.2h4.4v4.4h-4.4zM77.9 120.1h4.4v4.4h-4.4zM113.5 120.8h4.4v4.4h-4.4zM114.3 121.1h4.4v4.4h-4.4zM175.7 121.1h4.4v4.4h-4.4zM129.1 121.0h4.4v4.4h-4.4zM121.1 121.2h4.4v4.4h-4.4zM162.0 122.2h4.4v4.4h-4.4zM164.8 122.0h4.4v4.4h-4.4zM135.4 122.6h4.4v4.4h-4.4zM117.5 122.1h4.4v4.4h-4.4zM204.5 122.4h4.4v4.4h-4.4zM144.7 123.2h4.4v4.4h-4.4zM152.5 123.4h4.4v4.4h-4.4zM123.8 122.8h4.4v4.4h-4.4zM144.1 123.7h4.4v4.4h-4.4zM190.0 123.0h4.4v4.4h-4.4zM150.3 124.2h4.4v4.4h-4.4zM113.8 124.3h4.4v4.4h-4.4zM143.4 124.5h4.4v4.4h-4.4zM135.4 124.2h4.4v4.4h-4.4zM175.5 124.8h4.4v4.4h-4.4zM142.6 124.9h4.4v4.4h-4.4zM167.2 125.0h4.4v4.4h-4.4zM117.1 125.7h4.4v4.4h-4.4zM169.8 125.6h4.4v4.4h-4.4zM161.2 125.3h4.4v4.4h-4.4zM166.4 126.5h4.4v4.4h-4.4zM150.6 126.6h4.4v4.4h-4.4zM119.7 126.7h4.4v4.4h-4.4zM103.6 126.6h4.4v4.4h-4.4zM188.3 126.1h4.4v4.4h-4.4zM178.5 125.9h4.4v4.4h-4.4zM129.6 127.2h4.4v4.4h-4.4zM151.2 127.5h4.4v4.4h-4.4zM118.3 127.1h4.4v4.4h-4.4zM196.9 127.7h4.4v4.4h-4.4zM89.4 127.5h4.4v4.4h-4.4zM114.5 127.8h4.4v4.4h-4.4zM160.8 128.7h4.4v4.4h-4.4zM110.1 128.5h4.4v4.4h-4.4zM169.5 128.7h4.4v4.4h-4.4zM137.3 128.5h4.4v4.4h-4.4zM121.9 127.9h4.4v4.4h-4.4zM172.4 129.7h4.4v4.4h-4.4zM176.7 129.4h4.4v4.4h-4.4zM112.8 129.8h4.4v4.4h-4.4zM129.4 129.3h4.4v4.4h-4.4zM105.7 129.1h4.4v4.4h-4.4zM166.4 129.4h4.4v4.4h-4.4zM148.2 130.3h4.4v4.4h-4.4zM136.8 129.9h4.4v4.4h-4.4zM141.6 130.6h4.4v4.4h-4.4zM174.2 130.4h4.4v4.4h-4.4zM180.0 130.0h4.4v4.4h-4.4zM145.8 129.8h4.4v4.4h-4.4zM162.0 131.6h4.4v4.4h-4.4zM185.6 130.9h4.4v4.4h-4.4zM184.4 130.9h4.4v4.4h-4.4zM167.7 131.6h4.4v4.4h-4.4zM109.8 131.3h4.4v4.4h-4.4zM195.0 131.1h4.4v4.4h-4.4zM156.4 132.0h4.4v4.4h-4.4zM171.5 132.5h4.4v4.4h-4.4zM159.2 132.1h4.4v4.4h-4.4zM170.9 132.0h4.4v4.4h-4.4zM180.0 132.0h4.4v4.4h-4.4zM214.6 133.7h4.4v4.4h-4.4zM133.9 132.9h4.4v4.4h-4.4zM140.6 133.7h4.4v4.4h-4.4zM107.6 133.7h4.4v4.4h-4.4zM155.9 133.5h4.4v4.4h-4.4zM130.8 134.2h4.4v4.4h-4.4zM148.0 134.7h4.4v4.4h-4.4zM151.1 134.2h4.4v4.4h-4.4zM134.8 134.7h4.4v4.4h-4.4zM158.6 134.7h4.4v4.4h-4.4zM125.9 135.5h4.4v4.4h-4.4zM130.8 135.4h4.4v4.4h-4.4zM187.9 135.7h4.4v4.4h-4.4zM150.9 135.6h4.4v4.4h-4.4zM164.4 135.5h4.4v4.4h-4.4zM183.8 135.9h4.4v4.4h-4.4zM145.9 136.6h4.4v4.4h-4.4zM89.7 136.6h4.4v4.4h-4.4zM159.0 136.3h4.4v4.4h-4.4zM135.1 136.2h4.4v4.4h-4.4zM141.1 137.1h4.4v4.4h-4.4zM173.1 137.4h4.4v4.4h-4.4zM210.4 137.6h4.4v4.4h-4.4zM181.3 136.9h4.4v4.4h-4.4zM124.0 136.9h4.4v4.4h-4.4zM162.5 136.8h4.4v4.4h-4.4zM192.4 138.6h4.4v4.4h-4.4zM175.8 138.0h4.4v4.4h-4.4zM110.3 138.4h4.4v4.4h-4.4zM105.5 138.5h4.4v4.4h-4.4zM158.2 137.9h4.4v4.4h-4.4zM120.4 138.9h4.4v4.4h-4.4zM163.1 139.5h4.4v4.4h-4.4zM146.2 139.5h4.4v4.4h-4.4zM153.1 139.2h4.4v4.4h-4.4zM155.4 139.6h4.4v4.4h-4.4zM155.2 139.9h4.4v4.4h-4.4zM141.7 139.9h4.4v4.4h-4.4zM118.5 140.0h4.4v4.4h-4.4zM168.6 140.6h4.4v4.4h-4.4zM133.3 140.8h4.4v4.4h-4.4zM152.7 139.8h4.4v4.4h-4.4zM166.1 141.7h4.4v4.4h-4.4zM119.2 141.0h4.4v4.4h-4.4zM108.9 141.3h4.4v4.4h-4.4zM157.6 141.8h4.4v4.4h-4.4zM146.2 141.1h4.4v4.4h-4.4zM169.4 142.4h4.4v4.4h-4.4zM174.0 142.2h4.4v4.4h-4.4zM156.9 142.6h4.4v4.4h-4.4zM155.5 141.9h4.4v4.4h-4.4zM124.3 142.3h4.4v4.4h-4.4zM135.3 143.3h4.4v4.4h-4.4zM135.0 143.0h4.4v4.4h-4.4zM152.7 143.3h4.4v4.4h-4.4zM180.8 143.0h4.4v4.4h-4.4zM115.7 143.5h4.4v4.4h-4.4zM111.7 143.9h4.4v4.4h-4.4zM156.1 144.1h4.4v4.4h-4.4zM154.8 144.8h4.4v4.4h-4.4zM137.5 144.5h4.4v4.4h-4.4zM186.8 144.1h4.4v4.4h-4.4zM153.4 145.3h4.4v4.4h-4.4zM152.8 145.3h4.4v4.4h-4.4zM128.0 145.3h4.4v4.4h-4.4zM158.0 144.9h4.4v4.4h-4.4zM114.0 145.7h4.4v4.4h-4.4zM177.9 146.1h4.4v4.4h-4.4zM135.2 146.4h4.4v4.4h-4.4zM217.0 146.4h4.4v4.4h-4.4zM175.0 146.4h4.4v4.4h-4.4zM138.8 146.5h4.4v4.4h-4.4zM116.9 147.8h4.4v4.4h-4.4zM184.0 146.9h4.4v4.4h-4.4zM159.7 147.2h4.4v4.4h-4.4zM190.8 147.3h4.4v4.4h-4.4zM225.0 147.4h4.4v4.4h-4.4zM123.1 148.2h4.4v4.4h-4.4zM105.6 148.3h4.4v4.4h-4.4zM158.7 148.1h4.4v4.4h-4.4zM168.6 148.0h4.4v4.4h-4.4zM168.2 148.1h4.4v4.4h-4.4zM148.8 149.2h4.4v4.4h-4.4zM150.9 149.2h4.4v4.4h-4.4zM176.9 148.8h4.4v4.4h-4.4zM116.7 149.1h4.4v4.4h-4.4zM165.6 149.7h4.4v4.4h-4.4zM92.1 150.2h4.4v4.4h-4.4zM136.1 150.1h4.4v4.4h-4.4zM188.4 150.6h4.4v4.4h-4.4zM188.4 150.1h4.4v4.4h-4.4zM128.5 149.8h4.4v4.4h-4.4zM172.5 151.6h4.4v4.4h-4.4zM196.1 151.0h4.4v4.4h-4.4zM153.2 151.0h4.4v4.4h-4.4zM173.0 151.4h4.4v4.4h-4.4zM110.5 151.1h4.4v4.4h-4.4zM165.1 152.7h4.4v4.4h-4.4zM123.5 152.6h4.4v4.4h-4.4zM153.5 152.8h4.4v4.4h-4.4zM139.4 152.3h4.4v4.4h-4.4zM118.1 152.3h4.4v4.4h-4.4zM179.0 152.9h4.4v4.4h-4.4zM149.7 153.6h4.4v4.4h-4.4zM172.9 153.8h4.4v4.4h-4.4zM183.2 153.4h4.4v4.4h-4.4zM142.2 153.2h4.4v4.4h-4.4zM111.5 154.4h4.4v4.4h-4.4zM173.1 154.5h4.4v4.4h-4.4zM135.1 153.9h4.4v4.4h-4.4zM180.5 153.9h4.4v4.4h-4.4zM151.4 154.7h4.4v4.4h-4.4zM117.3 155.4h4.4v4.4h-4.4zM124.0 154.8h4.4v4.4h-4.4zM113.0 155.0h4.4v4.4h-4.4zM159.3 155.6h4.4v4.4h-4.4zM117.7 156.7h4.4v4.4h-4.4zM151.3 156.4h4.4v4.4h-4.4zM201.7 156.3h4.4v4.4h-4.4zM125.4 156.3h4.4v4.4h-4.4zM132.8 157.6h4.4v4.4h-4.4zM168.7 157.8h4.4v4.4h-4.4zM161.9 157.6h4.4v4.4h-4.4zM158.0 157.7h4.4v4.4h-4.4zM182.2 157.3h4.4v4.4h-4.4zM189.3 158.3h4.4v4.4h-4.4zM176.9 158.4h4.4v4.4h-4.4zM180.2 158.1h4.4v4.4h-4.4zM137.7 158.5h4.4v4.4h-4.4zM183.9 159.2h4.4v4.4h-4.4zM164.7 159.2h4.4v4.4h-4.4zM170.3 159.7h4.4v4.4h-4.4zM128.6 159.1h4.4v4.4h-4.4zM172.2 158.8h4.4v4.4h-4.4zM150.5 160.7h4.4v4.4h-4.4zM148.9 160.0h4.4v4.4h-4.4zM177.5 159.9h4.4v4.4h-4.4zM124.4 160.0h4.4v4.4h-4.4zM172.8 160.3h4.4v4.4h-4.4zM139.7 161.4h4.4v4.4h-4.4zM128.3 161.2h4.4v4.4h-4.4zM105.7 161.0h4.4v4.4h-4.4zM144.0 161.6h4.4v4.4h-4.4zM183.5 161.3h4.4v4.4h-4.4zM152.8 162.5h4.4v4.4h-4.4zM141.2 162.4h4.4v4.4h-4.4zM124.8 162.0h4.4v4.4h-4.4zM182.8 162.6h4.4v4.4h-4.4zM154.1 162.1h4.4v4.4h-4.4zM124.0 163.3h4.4v4.4h-4.4zM162.8 163.6h4.4v4.4h-4.4zM166.5 163.1h4.4v4.4h-4.4zM155.4 163.5h4.4v4.4h-4.4zM186.4 164.0h4.4v4.4h-4.4zM141.0 164.6h4.4v4.4h-4.4zM134.9 163.8h4.4v4.4h-4.4zM121.5 164.0h4.4v4.4h-4.4zM127.0 165.5h4.4v4.4h-4.4zM142.3 165.5h4.4v4.4h-4.4zM156.7 164.9h4.4v4.4h-4.4zM203.0 165.3h4.4v4.4h-4.4zM157.6 166.1h4.4v4.4h-4.4zM171.2 166.5h4.4v4.4h-4.4zM120.3 166.1h4.4v4.4h-4.4zM152.1 166.0h4.4v4.4h-4.4zM166.8 167.7h4.4v4.4h-4.4zM201.1 167.5h4.4v4.4h-4.4zM121.0 167.6h4.4v4.4h-4.4zM179.3 167.2h4.4v4.4h-4.4zM144.2 166.9h4.4v4.4h-4.4zM171.1 168.4h4.4v4.4h-4.4zM162.1 168.4h4.4v4.4h-4.4zM130.7 168.0h4.4v4.4h-4.4zM157.0 167.9h4.4v4.4h-4.4zM138.8 169.4h4.4v4.4h-4.4zM115.8 169.5h4.4v4.4h-4.4zM197.8 168.9h4.4v4.4h-4.4zM149.1 169.2h4.4v4.4h-4.4zM196.8 169.1h4.4v4.4h-4.4zM122.4 170.3h4.4v4.4h-4.4zM126.9 169.8h4.4v4.4h-4.4zM170.9 170.2h4.4v4.4h-4.4zM113.4 170.8h4.4v4.4h-4.4zM153.8 171.1h4.4v4.4h-4.4zM179.5 171.7h4.4v4.4h-4.4zM125.8 171.3h4.4v4.4h-4.4zM180.9 171.3h4.4v4.4h-4.4zM128.9 172.3h4.4v4.4h-4.4zM151.1 172.1h4.4v4.4h-4.4zM131.5 172.1h4.4v4.4h-4.4zM195.3 172.5h4.4v4.4h-4.4zM181.6 173.4h4.4v4.4h-4.4zM126.7 173.0h4.4v4.4h-4.4zM134.9 173.5h4.4v4.4h-4.4zM182.0 173.2h4.4v4.4h-4.4zM109.3 174.4h4.4v4.4h-4.4zM136.1 174.3h4.4v4.4h-4.4zM194.0 174.3h4.4v4.4h-4.4zM194.5 174.7h4.4v4.4h-4.4zM130.0 174.5h4.4v4.4h-4.4zM165.3 175.8h4.4v4.4h-4.4zM157.4 175.0h4.4v4.4h-4.4zM124.0 175.8h4.4v4.4h-4.4zM155.6 175.5h4.4v4.4h-4.4zM184.3 176.4h4.4v4.4h-4.4zM144.4 176.4h4.4v4.4h-4.4zM121.3 176.8h4.4v4.4h-4.4zM150.9 176.3h4.4v4.4h-4.4zM178.2 177.3h4.4v4.4h-4.4zM170.6 177.2h4.4v4.4h-4.4zM171.4 177.3h4.4v4.4h-4.4zM154.2 177.2h4.4v4.4h-4.4zM189.4 178.5h4.4v4.4h-4.4zM176.6 178.6h4.4v4.4h-4.4zM179.7 178.2h4.4v4.4h-4.4zM115.7 178.1h4.4v4.4h-4.4zM125.2 179.3h4.4v4.4h-4.4zM185.3 179.6h4.4v4.4h-4.4zM130.5 179.5h4.4v4.4h-4.4zM143.5 179.3h4.4v4.4h-4.4zM151.2 180.5h4.4v4.4h-4.4zM138.3 180.1h4.4v4.4h-4.4zM155.9 180.7h4.4v4.4h-4.4zM168.2 179.9h4.4v4.4h-4.4zM169.1 180.9h4.4v4.4h-4.4zM178.1 181.0h4.4v4.4h-4.4zM149.6 181.7h4.4v4.4h-4.4zM170.9 181.8h4.4v4.4h-4.4zM134.7 182.2h4.4v4.4h-4.4zM164.2 182.2h4.4v4.4h-4.4zM154.9 182.6h4.4v4.4h-4.4zM161.5 183.5h4.4v4.4h-4.4zM147.4 183.7h4.4v4.4h-4.4zM177.1 183.3h4.4v4.4h-4.4zM140.1 183.7h4.4v4.4h-4.4zM131.3 184.0h4.4v4.4h-4.4zM143.7 183.9h4.4v4.4h-4.4zM139.5 184.2h4.4v4.4h-4.4zM111.8 184.5h4.4v4.4h-4.4zM193.6 185.2h4.4v4.4h-4.4zM195.5 185.8h4.4v4.4h-4.4zM140.6 185.8h4.4v4.4h-4.4zM185.9 185.2h4.4v4.4h-4.4zM143.2 186.7h4.4v4.4h-4.4zM191.8 186.0h4.4v4.4h-4.4zM188.2 186.1h4.4v4.4h-4.4zM140.5 187.8h4.4v4.4h-4.4zM196.9 186.9h4.4v4.4h-4.4zM176.2 187.2h4.4v4.4h-4.4zM200.7 187.2h4.4v4.4h-4.4zM169.6 188.2h4.4v4.4h-4.4zM190.4 188.2h4.4v4.4h-4.4zM140.2 188.0h4.4v4.4h-4.4zM152.7 188.4h4.4v4.4h-4.4zM147.0 189.6h4.4v4.4h-4.4zM146.9 189.5h4.4v4.4h-4.4zM198.0 189.6h4.4v4.4h-4.4zM103.7 189.5h4.4v4.4h-4.4zM142.5 190.3h4.4v4.4h-4.4zM155.0 190.4h4.4v4.4h-4.4zM168.5 190.1h4.4v4.4h-4.4zM128.5 190.2h4.4v4.4h-4.4zM205.5 191.8h4.4v4.4h-4.4zM175.9 191.2h4.4v4.4h-4.4zM148.1 191.2h4.4v4.4h-4.4zM145.1 191.0h4.4v4.4h-4.4zM207.8 192.2h4.4v4.4h-4.4zM191.7 192.7h4.4v4.4h-4.4zM181.9 192.3h4.4v4.4h-4.4zM198.3 193.7h4.4v4.4h-4.4zM128.4 193.6h4.4v4.4h-4.4zM157.2 193.8h4.4v4.4h-4.4zM154.6 194.2h4.4v4.4h-4.4zM189.4 194.5h4.4v4.4h-4.4zM135.6 194.1h4.4v4.4h-4.4zM203.3 195.0h4.4v4.4h-4.4zM172.2 195.2h4.4v4.4h-4.4zM211.4 195.0h4.4v4.4h-4.4zM177.8 196.5h4.4v4.4h-4.4zM176.5 196.1h4.4v4.4h-4.4zM177.5 196.6h4.4v4.4h-4.4zM129.6 197.7h4.4v4.4h-4.4zM169.8 197.6h4.4v4.4h-4.4zM168.6 197.5h4.4v4.4h-4.4zM201.2 198.1h4.4v4.4h-4.4zM165.4 198.0h4.4v4.4h-4.4zM194.6 198.4h4.4v4.4h-4.4zM203.2 199.4h4.4v4.4h-4.4zM112.0 199.3h4.4v4.4h-4.4zM199.9 199.2h4.4v4.4h-4.4zM206.1 200.6h4.4v4.4h-4.4zM140.4 200.6h4.4v4.4h-4.4zM158.1 200.6h4.4v4.4h-4.4zM139.8 201.2h4.4v4.4h-4.4zM137.7 200.8h4.4v4.4h-4.4zM143.0 201.7h4.4v4.4h-4.4zM171.7 202.3h4.4v4.4h-4.4zM182.8 202.3h4.4v4.4h-4.4zM191.1 202.4h4.4v4.4h-4.4zM154.9 203.0h4.4v4.4h-4.4zM168.7 203.0h4.4v4.4h-4.4zM187.1 202.9h4.4v4.4h-4.4zM132.7 204.4h4.4v4.4h-4.4zM112.6 204.6h4.4v4.4h-4.4zM177.4 205.1h4.4v4.4h-4.4zM173.1 205.1h4.4v4.4h-4.4zM222.9 206.5h4.4v4.4h-4.4zM139.6 206.0h4.4v4.4h-4.4zM205.5 207.5h4.4v4.4h-4.4zM170.8 207.7h4.4v4.4h-4.4zM157.3 208.0h4.4v4.4h-4.4zM197.5 208.5h4.4v4.4h-4.4zM217.8 209.5h4.4v4.4h-4.4zM114.3 209.7h4.4v4.4h-4.4zM180.0 209.7h4.4v4.4h-4.4zM149.5 210.5h4.4v4.4h-4.4zM143.5 210.4h4.4v4.4h-4.4zM173.7 211.7h4.4v4.4h-4.4zM171.4 211.2h4.4v4.4h-4.4zM124.0 211.2h4.4v4.4h-4.4zM199.0 212.4h4.4v4.4h-4.4zM158.0 212.5h4.4v4.4h-4.4zM217.8 212.1h4.4v4.4h-4.4zM172.0 213.6h4.4v4.4h-4.4zM148.9 213.4h4.4v4.4h-4.4zM196.0 214.5h4.4v4.4h-4.4zM192.2 214.5h4.4v4.4h-4.4zM168.3 215.5h4.4v4.4h-4.4zM139.0 214.8h4.4v4.4h-4.4zM128.2 216.2h4.4v4.4h-4.4zM167.8 215.8h4.4v4.4h-4.4zM158.8 216.0h4.4v4.4h-4.4zM156.7 217.6h4.4v4.4h-4.4zM140.3 217.3h4.4v4.4h-4.4zM129.2 218.3h4.4v4.4h-4.4zM164.1 217.9h4.4v4.4h-4.4zM168.4 219.4h4.4v4.4h-4.4zM167.3 219.5h4.4v4.4h-4.4zM176.4 219.8h4.4v4.4h-4.4zM185.3 220.5h4.4v4.4h-4.4zM102.2 221.1h4.4v4.4h-4.4zM215.2 221.7h4.4v4.4h-4.4zM165.2 222.3h4.4v4.4h-4.4zM198.5 222.4h4.4v4.4h-4.4zM148.9 222.8h4.4v4.4h-4.4zM186.6 223.1h4.4v4.4h-4.4zM156.6 224.4h4.4v4.4h-4.4zM200.6 224.0h4.4v4.4h-4.4zM150.6 225.2h4.4v4.4h-4.4zM205.6 225.2h4.4v4.4h-4.4zM139.9 226.1h4.4v4.4h-4.4zM195.6 226.1h4.4v4.4h-4.4zM160.8 227.4h4.4v4.4h-4.4zM148.1 227.8h4.4v4.4h-4.4zM215.0 228.5h4.4v4.4h-4.4zM159.7 229.6h4.4v4.4h-4.4zM194.1 229.4h4.4v4.4h-4.4zM160.4 230.0h4.4v4.4h-4.4zM174.9 229.8h4.4v4.4h-4.4zM206.5 231.4h4.4v4.4h-4.4zM216.5 231.2h4.4v4.4h-4.4zM173.0 232.4h4.4v4.4h-4.4zM210.2 231.9h4.4v4.4h-4.4zM181.3 232.9h4.4v4.4h-4.4zM170.1 233.7h4.4v4.4h-4.4zM203.1 234.0h4.4v4.4h-4.4zM187.3 234.9h4.4v4.4h-4.4zM149.0 236.8h4.4v4.4h-4.4zM146.9 236.0h4.4v4.4h-4.4zM161.4 237.5h4.4v4.4h-4.4zM182.8 237.5h4.4v4.4h-4.4zM178.4 237.9h4.4v4.4h-4.4zM162.5 239.5h4.4v4.4h-4.4zM194.5 239.6h4.4v4.4h-4.4zM176.6 239.8h4.4v4.4h-4.4zM170.7 240.9h4.4v4.4h-4.4zM184.7 242.6h4.4v4.4h-4.4zM206.8 243.1h4.4v4.4h-4.4zM210.2 243.2h4.4v4.4h-4.4zM161.1 244.5h4.4v4.4h-4.4zM196.1 245.3h4.4v4.4h-4.4zM208.6 245.6h4.4v4.4h-4.4zM188.1 246.0h4.4v4.4h-4.4zM188.5 247.6h4.4v4.4h-4.4zM126.4 246.9h4.4v4.4h-4.4zM190.4 248.3h4.4v4.4h-4.4zM188.9 248.0h4.4v4.4h-4.4zM181.1 249.0h4.4v4.4h-4.4zM184.8 249.7h4.4v4.4h-4.4zM183.3 250.2h4.4v4.4h-4.4zM201.8 251.3h4.4v4.4h-4.4zM181.2 251.2h4.4v4.4h-4.4zM191.8 252.1h4.4v4.4h-4.4zM172.7 253.4h4.4v4.4h-4.4zM119.5 253.5h4.4v4.4h-4.4zM209.2 254.4h4.4v4.4h-4.4zM176.1 254.9h4.4v4.4h-4.4zM209.0 256.2h4.4v4.4h-4.4zM202.9 257.1h4.4v4.4h-4.4zM162.7 258.8h4.4v4.4h-4.4zM159.7 258.1h4.4v4.4h-4.4zM212.0 259.4h4.4v4.4h-4.4zM165.8 260.3h4.4v4.4h-4.4zM163.6 260.2h4.4v4.4h-4.4zM185.8 261.3h4.4v4.4h-4.4zM216.1 262.7h4.4v4.4h-4.4zM135.5 263.7h4.4v4.4h-4.4zM156.1 264.4h4.4v4.4h-4.4zM154.2 264.1h4.4v4.4h-4.4zM209.9 265.2h4.4v4.4h-4.4zM183.2 265.2h4.4v4.4h-4.4zM201.7 265.9h4.4v4.4h-4.4zM161.9 267.5h4.4v4.4h-4.4zM183.4 268.5h4.4v4.4h-4.4zM206.5 269.6h4.4v4.4h-4.4zM188.1 269.0h4.4v4.4h-4.4zM174.6 270.4h4.4v4.4h-4.4zM160.2 271.5h4.4v4.4h-4.4zM193.8 272.3h4.4v4.4h-4.4zM218.5 273.7h4.4v4.4h-4.4zM176.3 273.5h4.4v4.4h-4.4zM233.7 274.7h4.4v4.4h-4.4zM144.0 275.7h4.4v4.4h-4.4zM151.3 276.6h4.4v4.4h-4.4zM196.7 276.0h4.4v4.4h-4.4zM174.8 277.0h4.4v4.4h-4.4zM179.7 278.7h4.4v4.4h-4.4zM178.9 277.9h4.4v4.4h-4.4zM168.0 278.9h4.4v4.4h-4.4zM181.1 280.3h4.4v4.4h-4.4zM172.8 280.8h4.4v4.4h-4.4zM198.2 281.9h4.4v4.4h-4.4zM165.8 283.7h4.4v4.4h-4.4zM187.2 284.3h4.4v4.4h-4.4zM193.1 285.7h4.4v4.4h-4.4zM194.6 286.8h4.4v4.4h-4.4zM157.8 287.4h4.4v4.4h-4.4zM204.6 287.8h4.4v4.4h-4.4zM196.6 289.0h4.4v4.4h-4.4zM177.4 290.7h4.4v4.4h-4.4zM160.3 291.6h4.4v4.4h-4.4zM218.5 291.9h4.4v4.4h-4.4zM205.2 293.6h4.4v4.4h-4.4zM205.2 293.9h4.4v4.4h-4.4zM178.2 294.9h4.4v4.4h-4.4zM159.1 295.9h4.4v4.4h-4.4zM187.0 297.3h4.4v4.4h-4.4zM197.6 298.0h4.4v4.4h-4.4zM229.5 299.3h4.4v4.4h-4.4zM155.9 300.7h4.4v4.4h-4.4zM180.2 301.2h4.4v4.4h-4.4zM163.2 301.9h4.4v4.4h-4.4zM144.5 302.9h4.4v4.4h-4.4zM165.9 304.0h4.4v4.4h-4.4zM255.9 305.0h4.4v4.4h-4.4zM171.3 306.6h4.4v4.4h-4.4zM216.3 307.1h4.4v4.4h-4.4zM180.8 308.9h4.4v4.4h-4.4zM176.4 310.7h4.4v4.4h-4.4zM189.9 314.5h4.4v4.4h-4.4z" fill="#add8e6"/>
<path d="M92.0 27.5H170.0M108.5 22.0V32.0M93.0 32.5H172.0M108.5 27.0V38.0M95.0 34.5H178.0M112.5 29.0V40.0M95.0 35.5H180.0M115.5 31.0V42.0M96.0 37.5H182.0M118.5 33.0V44.0M97.0 46.5H183.0M119.5 40.0V52.0M98.0 48.5H185.0M123.5 42.0V54.0M98.0 50.5H186.0M126.5 44.0V56.0M97.0 40.5H184.0M121.5 36.0V50.0M99.0 54.5H188.0M130.5 46.0V58.0M101.0 59.5H191.0M131.5 52.0V66.0M102.0 62.5H192.0M135.5 55.0V72.0M102.7 70.5H192.7M137.5 60.0V84.5M102.7 88.5H201.5M145.5 67.0V163.0M104.4 116.5H205.0M150.5 90.0V145.0M107.6 145.5H213.0M151.5 116.0V166.0M109.2 166.5H205.0M151.5 145.0V181.0M118.9 187.5H214.6M158.5 168.0V205.0M125.8 222.5H228.7M170.5 200.0V283.0M139.0 266.5H233.0M179.5 226.0V307.0M147.7 292.5H225.2M178.5 270.0V307.0M95.0 39.5H200.0M137.5 25.0V60.0M110.0 61.5H215.0M144.5 40.0V95.0M114.8 121.5H226.9M164.5 40.0V285.0M160.0 263.5H250.6M210.5 218.0V303.0" stroke="#2a2a2a" stroke-width="0.9" fill="none" opacity="0.9"/>
<path d="M186.9 46.7h3.7v3.7h-3.7zM133.7 52.1h3.7v3.7h-3.7zM142.3 41.5h3.7v3.7h-3.7zM152.7 32.7h3.7v3.7h-3.7zM128.8 35.5h3.7v3.7h-3.7zM207.5 49.2h3.7v3.7h-3.7zM157.7 33.4h3.7v3.7h-3.7zM130.1 43.8h3.7v3.7h-3.7zM173.8 53.2h3.7v3.7h-3.7zM159.8 56.5h3.7v3.7h-3.7zM162.0 32.4h3.7v3.7h-3.7zM154.6 42.7h3.7v3.7h-3.7zM168.7 41.4h3.7v3.7h-3.7zM140.9 32.1h3.7v3.7h-3.7zM121.8 37.6h3.7v3.7h-3.7zM119.1 42.8h3.7v3.7h-3.7zM116.5 36.1h3.7v3.7h-3.7zM161.6 45.5h3.7v3.7h-3.7zM147.8 49.8h3.7v3.7h-3.7zM110.2 31.8h3.7v3.7h-3.7zM147.9 41.8h3.7v3.7h-3.7zM132.4 39.6h3.7v3.7h-3.7zM160.3 41.6h3.7v3.7h-3.7zM158.4 51.0h3.7v3.7h-3.7zM153.6 52.8h3.7v3.7h-3.7zM112.0 28.9h3.7v3.7h-3.7zM114.4 45.0h3.7v3.7h-3.7zM171.3 48.4h3.7v3.7h-3.7zM143.2 40.2h3.7v3.7h-3.7zM173.2 47.1h3.7v3.7h-3.7zM140.9 51.3h3.7v3.7h-3.7zM124.1 52.1h3.7v3.7h-3.7zM155.9 29.3h3.7v3.7h-3.7zM153.1 38.3h3.7v3.7h-3.7zM142.2 42.8h3.7v3.7h-3.7zM95.9 50.2h3.7v3.7h-3.7zM153.2 25.5h3.7v3.7h-3.7zM128.6 34.5h3.7v3.7h-3.7zM168.9 43.4h3.7v3.7h-3.7zM129.1 48.1h3.7v3.7h-3.7zM159.1 44.2h3.7v3.7h-3.7zM130.3 31.0h3.7v3.7h-3.7zM182.0 43.6h3.7v3.7h-3.7zM139.3 45.0h3.7v3.7h-3.7zM137.4 52.0h3.7v3.7h-3.7zM140.7 43.7h3.7v3.7h-3.7zM208.3 59.1h3.7v3.7h-3.7zM96.1 42.7h3.7v3.7h-3.7zM147.5 32.3h3.7v3.7h-3.7zM130.6 21.9h3.7v3.7h-3.7zM93.8 40.5h3.7v3.7h-3.7zM97.8 53.9h3.7v3.7h-3.7zM138.5 42.6h3.7v3.7h-3.7zM160.5 44.4h3.7v3.7h-3.7zM112.8 24.3h3.7v3.7h-3.7zM97.5 53.8h3.7v3.7h-3.7zM194.1 52.6h3.7v3.7h-3.7zM163.0 55.1h3.7v3.7h-3.7zM152.9 40.2h3.7v3.7h-3.7zM209.4 39.3h3.7v3.7h-3.7zM165.3 44.8h3.7v3.7h-3.7zM160.3 42.2h3.7v3.7h-3.7zM152.3 37.5h3.7v3.7h-3.7zM195.2 48.2h3.7v3.7h-3.7zM152.5 41.9h3.7v3.7h-3.7zM142.1 49.3h3.7v3.7h-3.7zM152.5 41.9h3.7v3.7h-3.7zM108.3 44.2h3.7v3.7h-3.7zM96.3 36.1h3.7v3.7h-3.7zM154.1 37.7h3.7v3.7h-3.7zM94.1 41.9h3.7v3.7h-3.7zM118.4 33.5h3.7v3.7h-3.7zM95.7 36.6h3.7v3.7h-3.7zM198.5 46.2h3.7v3.7h-3.7zM154.2 48.7h3.7v3.7h-3.7zM161.4 39.5h3.7v3.7h-3.7zM154.1 51.8h3.7v3.7h-3.7zM192.0 34.5h3.7v3.7h-3.7zM118.2 39.2h3.7v3.7h-3.7zM119.4 41.6h3.7v3.7h-3.7zM111.6 29.8h3.7v3.7h-3.7zM129.1 43.6h3.7v3.7h-3.7zM117.0 36.8h3.7v3.7h-3.7zM181.7 50.9h3.7v3.7h-3.7zM129.0 48.8h3.7v3.7h-3.7zM120.3 34.2h3.7v3.7h-3.7zM96.8 27.4h3.7v3.7h-3.7zM152.7 54.9h3.7v3.7h-3.7zM175.2 38.5h3.7v3.7h-3.7zM123.2 33.1h3.7v3.7h-3.7zM117.5 38.3h3.7v3.7h-3.7zM145.3 50.9h3.7v3.7h-3.7zM167.3 55.1h3.7v3.7h-3.7zM189.0 46.6h3.7v3.7h-3.7zM126.6 36.5h3.7v3.7h-3.7zM142.6 40.2h3.7v3.7h-3.7zM106.4 42.1h3.7v3.7h-3.7zM134.3 26.0h3.7v3.7h-3.7zM146.0 45.3h3.7v3.7h-3.7zM166.4 39.1h3.7v3.7h-3.7zM165.1 47.9h3.7v3.7h-3.7zM164.4 38.8h3.7v3.7h-3.7zM132.9 33.8h3.7v3.7h-3.7zM144.2 41.8h3.7v3.7h-3.7zM135.1 36.8h3.7v3.7h-3.7zM132.3 28.6h3.7v3.7h-3.7zM123.6 32.9h3.7v3.7h-3.7zM101.3 34.6h3.7v3.7h-3.7zM189.3 56.3h3.7v3.7h-3.7zM117.2 32.1h3.7v3.7h-3.7zM166.1 49.2h3.7v3.7h-3.7zM160.7 50.8h3.7v3.7h-3.7zM163.3 50.9h3.7v3.7h-3.7zM103.9 44.8h3.7v3.7h-3.7zM159.2 39.2h3.7v3.7h-3.7zM104.7 56.4h3.7v3.7h-3.7zM141.3 42.8h3.7v3.7h-3.7zM100.5 51.0h3.7v3.7h-3.7zM154.3 35.5h3.7v3.7h-3.7zM120.4 38.0h3.7v3.7h-3.7zM123.7 41.6h3.7v3.7h-3.7zM139.3 48.6h3.7v3.7h-3.7zM180.6 46.1h3.7v3.7h-3.7zM103.0 33.6h3.7v3.7h-3.7zM93.3 40.6h3.7v3.7h-3.7zM157.1 46.1h3.7v3.7h-3.7zM146.6 58.3h3.7v3.7h-3.7zM127.9 39.1h3.7v3.7h-3.7zM139.3 57.3h3.7v3.7h-3.7zM155.3 47.8h3.7v3.7h-3.7zM129.9 37.7h3.7v3.7h-3.7zM155.2 42.6h3.7v3.7h-3.7zM92.8 39.7h3.7v3.7h-3.7zM144.6 42.1h3.7v3.7h-3.7zM101.6 33.4h3.7v3.7h-3.7zM111.8 33.8h3.7v3.7h-3.7zM123.8 25.8h3.7v3.7h-3.7zM108.1 28.5h3.7v3.7h-3.7zM105.2 30.6h3.7v3.7h-3.7zM155.0 47.3h3.7v3.7h-3.7zM125.4 57.1h3.7v3.7h-3.7zM122.7 44.1h3.7v3.7h-3.7zM196.2 51.7h3.7v3.7h-3.7zM113.8 42.5h3.7v3.7h-3.7zM102.2 24.6h3.7v3.7h-3.7zM172.8 39.9h3.7v3.7h-3.7zM121.7 23.1h3.7v3.7h-3.7zM159.8 38.4h3.7v3.7h-3.7zM105.1 38.5h3.7v3.7h-3.7zM148.0 39.2h3.7v3.7h-3.7zM159.6 44.7h3.7v3.7h-3.7zM216.2 46.6h3.7v3.7h-3.7zM149.1 43.2h3.7v3.7h-3.7zM82.2 26.7h3.7v3.7h-3.7zM162.4 43.4h3.7v3.7h-3.7zM83.8 50.6h3.7v3.7h-3.7zM137.9 41.6h3.7v3.7h-3.7zM144.5 31.6h3.7v3.7h-3.7zM142.1 31.6h3.7v3.7h-3.7zM123.4 33.3h3.7v3.7h-3.7zM171.8 35.3h3.7v3.7h-3.7zM120.6 31.4h3.7v3.7h-3.7zM90.7 34.6h3.7v3.7h-3.7zM123.3 28.1h3.7v3.7h-3.7zM133.4 32.5h3.7v3.7h-3.7zM96.7 37.4h3.7v3.7h-3.7zM121.7 34.9h3.7v3.7h-3.7zM162.2 40.5h3.7v3.7h-3.7zM154.8 39.0h3.7v3.7h-3.7zM136.0 33.8h3.7v3.7h-3.7zM136.1 39.0h3.7v3.7h-3.7zM129.8 40.8h3.7v3.7h-3.7zM89.9 48.6h3.7v3.7h-3.7zM82.0 45.6h3.7v3.7h-3.7zM164.5 46.2h3.7v3.7h-3.7zM122.7 34.9h3.7v3.7h-3.7zM153.4 46.0h3.7v3.7h-3.7zM114.4 31.2h3.7v3.7h-3.7zM128.2 45.9h3.7v3.7h-3.7zM103.4 40.0h3.7v3.7h-3.7zM158.1 31.3h3.7v3.7h-3.7zM125.3 37.8h3.7v3.7h-3.7zM155.9 39.0h3.7v3.7h-3.7zM131.6 53.9h3.7v3.7h-3.7zM151.8 46.2h3.7v3.7h-3.7zM83.3 21.8h3.7v3.7h-3.7zM126.8 38.0h3.7v3.7h-3.7zM131.7 35.3h3.7v3.7h-3.7zM147.2 42.5h3.7v3.7h-3.7zM87.4 41.7h3.7v3.7h-3.7zM97.3 39.3h3.7v3.7h-3.7zM137.6 30.4h3.7v3.7h-3.7zM106.2 37.7h3.7v3.7h-3.7zM115.6 38.5h3.7v3.7h-3.7zM171.0 51.1h3.7v3.7h-3.7zM132.3 50.5h3.7v3.7h-3.7zM174.6 35.2h3.7v3.7h-3.7zM153.1 52.6h3.7v3.7h-3.7zM130.9 47.6h3.7v3.7h-3.7zM127.2 33.5h3.7v3.7h-3.7zM118.7 41.8h3.7v3.7h-3.7zM178.9 49.2h3.7v3.7h-3.7zM150.5 48.7h3.7v3.7h-3.7zM135.1 35.8h3.7v3.7h-3.7zM151.9 49.0h3.7v3.7h-3.7zM140.8 42.3h3.7v3.7h-3.7zM169.5 43.3h3.7v3.7h-3.7zM113.5 33.0h3.7v3.7h-3.7zM198.7 49.2h3.7v3.7h-3.7zM116.6 39.1h3.7v3.7h-3.7zM88.1 38.4h3.7v3.7h-3.7zM150.3 29.5h3.7v3.7h-3.7zM159.2 53.3h3.7v3.7h-3.7zM192.0 48.9h3.7v3.7h-3.7zM183.6 52.0h3.7v3.7h-3.7zM84.9 36.7h3.7v3.7h-3.7zM116.5 44.5h3.7v3.7h-3.7zM162.6 47.1h3.7v3.7h-3.7zM157.5 36.6h3.7v3.7h-3.7zM143.3 33.4h3.7v3.7h-3.7zM184.6 47.7h3.7v3.7h-3.7zM163.2 38.1h3.7v3.7h-3.7zM108.9 33.4h3.7v3.7h-3.7zM153.1 33.7h3.7v3.7h-3.7zM185.5 37.7h3.7v3.7h-3.7zM97.2 25.2h3.7v3.7h-3.7zM179.3 47.0h3.7v3.7h-3.7zM136.1 40.1h3.7v3.7h-3.7zM169.7 36.6h3.7v3.7h-3.7zM145.4 41.4h3.7v3.7h-3.7zM142.1 54.5h3.7v3.7h-3.7zM143.3 42.0h3.7v3.7h-3.7zM180.4 56.5h3.7v3.7h-3.7zM178.2 54.1h3.7v3.7h-3.7zM120.4 30.7h3.7v3.7h-3.7zM155.3 53.6h3.7v3.7h-3.7zM143.2 43.5h3.7v3.7h-3.7zM97.5 34.1h3.7v3.7h-3.7zM118.6 33.4h3.7v3.7h-3.7zM145.6 40.9h3.7v3.7h-3.7zM129.3 40.7h3.7v3.7h-3.7zM115.9 41.4h3.7v3.7h-3.7zM140.5 50.0h3.7v3.7h-3.7zM163.5 60.3h3.7v3.7h-3.7zM106.4 44.2h3.7v3.7h-3.7zM113.5 48.0h3.7v3.7h-3.7zM184.6 36.9h3.7v3.7h-3.7zM114.5 27.1h3.7v3.7h-3.7zM140.2 51.1h3.7v3.7h-3.7zM136.6 45.0h3.7v3.7h-3.7zM124.0 42.5h3.7v3.7h-3.7zM84.1 46.4h3.7v3.7h-3.7zM133.3 48.8h3.7v3.7h-3.7zM120.2 47.4h3.7v3.7h-3.7zM163.9 45.6h3.7v3.7h-3.7zM161.8 24.6h3.7v3.7h-3.7zM94.9 30.3h3.7v3.7h-3.7zM103.1 35.9h3.7v3.7h-3.7zM160.0 32.7h3.7v3.7h-3.7zM172.7 37.3h3.7v3.7h-3.7zM137.4 47.5h3.7v3.7h-3.7zM163.7 55.8h3.7v3.7h-3.7zM89.9 38.0h3.7v3.7h-3.7zM138.0 34.6h3.7v3.7h-3.7zM151.3 49.0h3.7v3.7h-3.7zM126.8 34.2h3.7v3.7h-3.7zM196.5 37.9h3.7v3.7h-3.7zM151.2 34.0h3.7v3.7h-3.7zM79.4 36.8h3.7v3.7h-3.7zM167.0 55.1h3.7v3.7h-3.7zM171.6 36.7h3.7v3.7h-3.7zM152.8 35.4h3.7v3.7h-3.7zM165.3 43.6h3.7v3.7h-3.7zM144.1 29.6h3.7v3.7h-3.7zM149.9 27.5h3.7v3.7h-3.7zM149.1 37.9h3.7v3.7h-3.7zM81.8 35.2h3.7v3.7h-3.7zM134.3 40.5h3.7v3.7h-3.7zM115.6 41.1h3.7v3.7h-3.7zM127.5 45.5h3.7v3.7h-3.7zM152.0 43.2h3.7v3.7h-3.7zM140.6 34.3h3.7v3.7h-3.7zM116.5 27.1h3.7v3.7h-3.7zM174.1 44.1h3.7v3.7h-3.7zM175.3 37.5h3.7v3.7h-3.7zM145.6 53.8h3.7v3.7h-3.7zM121.2 31.1h3.7v3.7h-3.7zM94.4 28.8h3.7v3.7h-3.7zM151.0 36.7h3.7v3.7h-3.7zM152.5 40.3h3.7v3.7h-3.7zM138.5 35.4h3.7v3.7h-3.7zM146.0 47.6h3.7v3.7h-3.7zM121.1 45.4h3.7v3.7h-3.7zM139.6 52.7h3.7v3.7h-3.7zM173.6 43.0h3.7v3.7h-3.7zM156.7 41.1h3.7v3.7h-3.7zM135.3 37.2h3.7v3.7h-3.7zM102.4 35.4h3.7v3.7h-3.7zM142.8 33.3h3.7v3.7h-3.7zM114.6 24.6h3.7v3.7h-3.7zM184.3 99.5h3.7v3.7h-3.7zM211.2 133.2h3.7v3.7h-3.7zM221.2 149.8h3.7v3.7h-3.7zM162.5 135.8h3.7v3.7h-3.7zM164.2 140.2h3.7v3.7h-3.7zM164.7 155.2h3.7v3.7h-3.7zM161.2 158.2h3.7v3.7h-3.7zM185.8 149.8h3.7v3.7h-3.7zM176.6 160.8h3.7v3.7h-3.7zM175.2 166.5h3.7v3.7h-3.7zM130.6 171.8h3.7v3.7h-3.7zM128.8 178.3h3.7v3.7h-3.7zM198.8 175.2h3.7v3.7h-3.7zM160.8 190.2h3.7v3.7h-3.7zM163.8 195.3h3.7v3.7h-3.7zM125.2 61.6h3.7v3.7h-3.7zM161.1 64.9h3.7v3.7h-3.7zM151.5 72.2h3.7v3.7h-3.7zM171.6 70.5h3.7v3.7h-3.7zM160.2 81.0h3.7v3.7h-3.7zM149.3 84.8h3.7v3.7h-3.7zM184.3 98.5h3.7v3.7h-3.7zM266.3 50.0h3.7v3.7h-3.7zM221.5 51.4h3.7v3.7h-3.7zM221.5 58.8h3.7v3.7h-3.7zM209.3 41.6h3.7v3.7h-3.7zM205.0 56.5h3.7v3.7h-3.7zM201.5 37.4h3.7v3.7h-3.7zM187.5 30.4h3.7v3.7h-3.7zM175.7 27.2h3.7v3.7h-3.7zM213.2 46.1h3.7v3.7h-3.7zM216.2 62.1h3.7v3.7h-3.7zM78.2 50.1h3.7v3.7h-3.7zM82.2 43.1h3.7v3.7h-3.7zM86.2 56.1h3.7v3.7h-3.7zM90.2 38.1h3.7v3.7h-3.7zM93.2 60.1h3.7v3.7h-3.7zM98.2 64.2h3.7v3.7h-3.7zM149.0 198.5h3.7v3.7h-3.7zM163.8 195.0h3.7v3.7h-3.7zM173.5 212.5h3.7v3.7h-3.7zM222.5 210.7h3.7v3.7h-3.7zM226.8 206.2h3.7v3.7h-3.7zM209.8 219.5h3.7v3.7h-3.7zM231.2 219.0h3.7v3.7h-3.7zM212.5 224.7h3.7v3.7h-3.7zM166.5 229.1h3.7v3.7h-3.7zM214.7 230.3h3.7v3.7h-3.7zM212.5 238.2h3.7v3.7h-3.7zM218.2 238.2h3.7v3.7h-3.7zM204.2 241.3h3.7v3.7h-3.7zM216.3 244.0h3.7v3.7h-3.7zM218.2 248.3h3.7v3.7h-3.7zM223.8 254.5h3.7v3.7h-3.7zM209.3 253.2h3.7v3.7h-3.7zM240.1 261.9h3.7v3.7h-3.7zM253.2 259.2h3.7v3.7h-3.7zM119.6 267.1h3.7v3.7h-3.7zM222.5 271.5h3.7v3.7h-3.7zM234.3 268.4h3.7v3.7h-3.7zM197.1 276.3h3.7v3.7h-3.7zM200.2 282.5h3.7v3.7h-3.7zM208.5 279.4h3.7v3.7h-3.7zM173.5 283.8h3.7v3.7h-3.7zM187.8 284.6h3.7v3.7h-3.7zM149.0 290.3h3.7v3.7h-3.7zM185.2 293.8h3.7v3.7h-3.7zM167.3 299.1h3.7v3.7h-3.7zM201.1 299.5h3.7v3.7h-3.7zM235.7 303.5h3.7v3.7h-3.7zM189.2 327.1h3.7v3.7h-3.7z" fill="#f6b540" stroke="#3a3020" stroke-width="0.55"/>
<rect x="104.9" y="24.3" width="6.6" height="6.6" fill="#ffffff" stroke="#000" stroke-width="1.3"/>
<rect x="105.2" y="29.3" width="6.6" height="6.6" fill="#ffffff" stroke="#000" stroke-width="1.3"/>
<rect x="109.0" y="31.1" width="6.6" height="6.6" fill="#ffffff" stroke="#000" stroke-width="1.3"/>
<rect x="112.0" y="32.5" width="6.6" height="6.6" fill="#ffffff" stroke="#000" stroke-width="1.3"/>
<rect x="115.0" y="34.0" width="6.6" height="6.6" fill="#ffffff" stroke="#000" stroke-width="1.3"/>
<polygon points="115.5,33.8 123.5,34.5 128.5,40.0 129.5,48.0 128.0,53.0 121.0,53.5 116.5,48.0 116.0,40.0" fill="#0a0a0a"/>
<rect x="117.8" y="41.8" width="2.4" height="6.2" fill="#fff"/>
<rect x="124.4" y="48.4" width="2.8" height="5.8" fill="#fff"/>
<rect x="127.6" y="50.9" width="6.6" height="6.6" fill="#ffffff" stroke="#000" stroke-width="1.3"/>
<rect x="128.3" y="55.7" width="6.6" height="6.6" fill="#ffffff" stroke="#000" stroke-width="1.3"/>
<rect x="131.7" y="59.3" width="6.6" height="6.6" fill="#ffffff" stroke="#000" stroke-width="1.3"/>
<rect x="134.2" y="67.6" width="6.6" height="6.6" fill="#ffffff" stroke="#000" stroke-width="1.3"/>
<rect x="142.1" y="85.1" width="6.6" height="6.6" fill="#ffffff" stroke="#000" stroke-width="1.3"/>
<rect x="147.5" y="113.1" width="6.6" height="6.6" fill="#ffffff" stroke="#000" stroke-width="1.3"/>
<rect x="147.9" y="142.0" width="6.6" height="6.6" fill="#ffffff" stroke="#000" stroke-width="1.3"/>
<rect x="148.6" y="162.7" width="6.6" height="6.6" fill="#ffffff" stroke="#000" stroke-width="1.3"/>
<rect x="155.6" y="183.7" width="6.6" height="6.6" fill="#ffffff" stroke="#000" stroke-width="1.3"/>
<rect x="167.2" y="219.5" width="6.6" height="6.6" fill="#ffffff" stroke="#000" stroke-width="1.3"/>
<rect x="176.4" y="262.8" width="6.6" height="6.6" fill="#ffffff" stroke="#000" stroke-width="1.3"/>
<rect x="175.5" y="288.7" width="6.6" height="6.6" fill="#ffffff" stroke="#000" stroke-width="1.3"/>
<rect x="133.8" y="36.6" width="6.6" height="6.6" fill="#ffff00" stroke="#000" stroke-width="1.3"/>
<rect x="141.6" y="58.2" width="6.6" height="6.6" fill="#ffff00" stroke="#000" stroke-width="1.3"/>
<rect x="160.8" y="118.4" width="6.6" height="6.6" fill="#ffff00" stroke="#000" stroke-width="1.3"/>
<rect x="207.5" y="259.8" width="6.6" height="6.6" fill="#ffff00" stroke="#000" stroke-width="1.3"/>
</g>
<clipPath id="clip-b"><rect x="387.30" y="5.00" width="297.5" height="393.5"/></clipPath>
<g clip-path="url(#clip-b)">
<path d="M439.5 14.5h4.4v4.4h-4.4zM457.0 15.4h4.4v4.4h-4.4zM466.7 16.8h4.4v4.4h-4.4zM459.1 16.1h4.4v4.4h-4.4zM460.9 17.6h4.4v4.4h-4.4zM437.8 16.9h4.4v4.4h-4.4zM467.4 17.3h4.4v4.4h-4.4zM464.9 18.6h4.4v4.4h-4.4zM472.0 17.8h4.4v4.4h-4.4zM467.5 18.5h4.4v4.4h-4.4zM457.7 18.8h4.4v4.4h-4.4zM457.3 18.9h4.4v4.4h-4.4zM461.1 19.0h4.4v4.4h-4.4zM430.4 19.2h4.4v4.4h-4.4zM479.4 20.5h4.4v4.4h-4.4zM454.3 20.6h4.4v4.4h-4.4zM432.3 20.2h4.4v4.4h-4.4zM436.0 20.4h4.4v4.4h-4.4zM436.0 21.2h4.4v4.4h-4.4zM470.1 21.6h4.4v4.4h-4.4zM475.6 20.9h4.4v4.4h-4.4zM451.1 21.6h4.4v4.4h-4.4zM434.7 21.5h4.4v4.4h-4.4zM433.4 21.2h4.4v4.4h-4.4zM470.0 22.5h4.4v4.4h-4.4zM443.7 21.9h4.4v4.4h-4.4zM496.5 22.2h4.4v4.4h-4.4zM449.6 22.4h4.4v4.4h-4.4zM456.2 22.1h4.4v4.4h-4.4zM461.5 22.2h4.4v4.4h-4.4zM469.9 23.4h4.4v4.4h-4.4zM439.5 23.7h4.4v4.4h-4.4zM447.2 23.1h4.4v4.4h-4.4zM456.6 23.7h4.4v4.4h-4.4zM466.3 23.0h4.4v4.4h-4.4zM476.7 23.1h4.4v4.4h-4.4zM461.8 22.8h4.4v4.4h-4.4zM449.6 23.6h4.4v4.4h-4.4zM463.6 24.2h4.4v4.4h-4.4zM450.0 24.2h4.4v4.4h-4.4zM455.6 24.3h4.4v4.4h-4.4zM448.3 24.6h4.4v4.4h-4.4zM477.5 23.8h4.4v4.4h-4.4zM460.0 24.3h4.4v4.4h-4.4zM455.4 24.1h4.4v4.4h-4.4zM449.2 23.8h4.4v4.4h-4.4zM454.5 24.3h4.4v4.4h-4.4zM470.4 25.5h4.4v4.4h-4.4zM465.9 25.5h4.4v4.4h-4.4zM517.7 25.2h4.4v4.4h-4.4zM440.6 25.0h4.4v4.4h-4.4zM456.8 25.5h4.4v4.4h-4.4zM438.3 25.1h4.4v4.4h-4.4zM487.5 25.6h4.4v4.4h-4.4zM466.3 25.1h4.4v4.4h-4.4zM500.0 25.2h4.4v4.4h-4.4zM446.0 25.6h4.4v4.4h-4.4zM497.7 26.0h4.4v4.4h-4.4zM477.6 26.0h4.4v4.4h-4.4zM462.7 26.7h4.4v4.4h-4.4zM490.9 26.2h4.4v4.4h-4.4zM471.0 26.3h4.4v4.4h-4.4zM491.1 26.1h4.4v4.4h-4.4zM467.4 25.9h4.4v4.4h-4.4zM469.6 26.2h4.4v4.4h-4.4zM462.9 26.6h4.4v4.4h-4.4zM458.2 26.3h4.4v4.4h-4.4zM443.1 26.8h4.4v4.4h-4.4zM496.7 26.6h4.4v4.4h-4.4zM466.3 27.1h4.4v4.4h-4.4zM484.8 27.4h4.4v4.4h-4.4zM471.6 27.1h4.4v4.4h-4.4zM471.6 27.2h4.4v4.4h-4.4zM478.6 26.9h4.4v4.4h-4.4zM453.5 26.8h4.4v4.4h-4.4zM443.0 27.5h4.4v4.4h-4.4zM446.3 27.3h4.4v4.4h-4.4zM478.4 27.0h4.4v4.4h-4.4zM446.4 26.9h4.4v4.4h-4.4zM487.4 27.1h4.4v4.4h-4.4zM496.7 27.1h4.4v4.4h-4.4zM503.1 28.7h4.4v4.4h-4.4zM501.2 27.9h4.4v4.4h-4.4zM469.5 28.5h4.4v4.4h-4.4zM486.1 28.6h4.4v4.4h-4.4zM442.0 28.5h4.4v4.4h-4.4zM500.0 28.5h4.4v4.4h-4.4zM476.7 27.9h4.4v4.4h-4.4zM433.6 28.2h4.4v4.4h-4.4zM454.1 28.8h4.4v4.4h-4.4zM468.7 28.2h4.4v4.4h-4.4zM462.9 28.7h4.4v4.4h-4.4zM470.3 28.2h4.4v4.4h-4.4zM474.9 28.5h4.4v4.4h-4.4zM458.1 28.9h4.4v4.4h-4.4zM464.8 29.7h4.4v4.4h-4.4zM490.0 28.9h4.4v4.4h-4.4zM502.4 29.1h4.4v4.4h-4.4zM475.3 29.0h4.4v4.4h-4.4zM498.5 29.2h4.4v4.4h-4.4zM464.5 29.5h4.4v4.4h-4.4zM456.9 28.8h4.4v4.4h-4.4zM483.1 29.0h4.4v4.4h-4.4zM459.7 29.4h4.4v4.4h-4.4zM474.2 29.6h4.4v4.4h-4.4zM508.7 29.2h4.4v4.4h-4.4zM465.8 29.3h4.4v4.4h-4.4zM504.7 29.8h4.4v4.4h-4.4zM516.2 30.5h4.4v4.4h-4.4zM468.4 30.3h4.4v4.4h-4.4zM504.5 30.3h4.4v4.4h-4.4zM452.8 30.4h4.4v4.4h-4.4zM475.2 30.5h4.4v4.4h-4.4zM489.4 29.8h4.4v4.4h-4.4zM476.4 30.5h4.4v4.4h-4.4zM483.9 30.0h4.4v4.4h-4.4zM500.5 29.9h4.4v4.4h-4.4zM480.8 30.3h4.4v4.4h-4.4zM502.4 30.1h4.4v4.4h-4.4zM465.5 30.3h4.4v4.4h-4.4zM433.2 31.1h4.4v4.4h-4.4zM469.4 30.8h4.4v4.4h-4.4zM466.0 31.4h4.4v4.4h-4.4zM469.2 31.5h4.4v4.4h-4.4zM459.0 31.5h4.4v4.4h-4.4zM470.7 31.1h4.4v4.4h-4.4zM482.0 31.3h4.4v4.4h-4.4zM502.4 31.4h4.4v4.4h-4.4zM484.9 31.0h4.4v4.4h-4.4zM492.6 30.8h4.4v4.4h-4.4zM465.9 31.7h4.4v4.4h-4.4zM484.7 31.7h4.4v4.4h-4.4zM479.2 31.5h4.4v4.4h-4.4zM472.6 30.9h4.4v4.4h-4.4zM491.8 32.4h4.4v4.4h-4.4zM482.3 32.7h4.4v4.4h-4.4zM500.8 32.1h4.4v4.4h-4.4zM509.1 32.3h4.4v4.4h-4.4zM512.5 32.3h4.4v4.4h-4.4zM473.5 32.7h4.4v4.4h-4.4zM498.2 31.9h4.4v4.4h-4.4zM446.2 32.2h4.4v4.4h-4.4zM476.8 32.1h4.4v4.4h-4.4zM455.2 32.3h4.4v4.4h-4.4zM492.6 32.2h4.4v4.4h-4.4zM445.5 32.4h4.4v4.4h-4.4zM482.3 31.9h4.4v4.4h-4.4zM452.6 32.2h4.4v4.4h-4.4zM477.9 33.5h4.4v4.4h-4.4zM470.6 32.9h4.4v4.4h-4.4zM475.4 33.3h4.4v4.4h-4.4zM474.6 33.3h4.4v4.4h-4.4zM457.8 33.4h4.4v4.4h-4.4zM510.2 33.2h4.4v4.4h-4.4zM513.9 33.7h4.4v4.4h-4.4zM548.8 33.1h4.4v4.4h-4.4zM486.5 33.8h4.4v4.4h-4.4zM511.0 33.6h4.4v4.4h-4.4zM492.7 33.3h4.4v4.4h-4.4zM509.4 33.2h4.4v4.4h-4.4zM458.9 33.6h4.4v4.4h-4.4zM465.3 33.5h4.4v4.4h-4.4zM500.9 33.8h4.4v4.4h-4.4zM419.4 34.3h4.4v4.4h-4.4zM470.3 34.2h4.4v4.4h-4.4zM502.8 34.6h4.4v4.4h-4.4zM492.7 34.0h4.4v4.4h-4.4zM466.0 33.9h4.4v4.4h-4.4zM487.2 34.3h4.4v4.4h-4.4zM435.4 34.4h4.4v4.4h-4.4zM471.2 34.8h4.4v4.4h-4.4zM460.7 33.8h4.4v4.4h-4.4zM520.6 34.1h4.4v4.4h-4.4zM479.8 34.5h4.4v4.4h-4.4zM521.3 34.3h4.4v4.4h-4.4zM455.3 34.8h4.4v4.4h-4.4zM498.3 34.7h4.4v4.4h-4.4zM464.0 34.2h4.4v4.4h-4.4zM456.0 35.3h4.4v4.4h-4.4zM490.0 35.6h4.4v4.4h-4.4zM496.4 35.7h4.4v4.4h-4.4zM510.7 35.5h4.4v4.4h-4.4zM471.0 35.5h4.4v4.4h-4.4zM492.2 35.5h4.4v4.4h-4.4zM465.5 35.2h4.4v4.4h-4.4zM475.5 35.8h4.4v4.4h-4.4zM501.5 35.3h4.4v4.4h-4.4zM519.7 35.7h4.4v4.4h-4.4zM494.0 35.5h4.4v4.4h-4.4zM494.9 35.3h4.4v4.4h-4.4zM533.0 35.4h4.4v4.4h-4.4zM465.5 35.4h4.4v4.4h-4.4zM509.9 35.1h4.4v4.4h-4.4zM501.4 35.3h4.4v4.4h-4.4zM436.9 35.9h4.4v4.4h-4.4zM531.9 35.9h4.4v4.4h-4.4zM491.3 36.4h4.4v4.4h-4.4zM476.7 36.1h4.4v4.4h-4.4zM485.2 36.6h4.4v4.4h-4.4zM440.9 36.5h4.4v4.4h-4.4zM475.2 35.8h4.4v4.4h-4.4zM516.5 36.4h4.4v4.4h-4.4zM458.7 36.0h4.4v4.4h-4.4zM479.0 36.5h4.4v4.4h-4.4zM504.4 36.3h4.4v4.4h-4.4zM437.5 36.2h4.4v4.4h-4.4zM511.6 36.6h4.4v4.4h-4.4zM480.7 35.9h4.4v4.4h-4.4zM455.1 35.9h4.4v4.4h-4.4zM466.0 36.6h4.4v4.4h-4.4zM493.7 37.5h4.4v4.4h-4.4zM516.3 37.8h4.4v4.4h-4.4zM511.4 37.5h4.4v4.4h-4.4zM497.5 37.6h4.4v4.4h-4.4zM513.8 36.8h4.4v4.4h-4.4zM507.4 37.5h4.4v4.4h-4.4zM463.9 37.1h4.4v4.4h-4.4zM530.4 37.0h4.4v4.4h-4.4zM517.0 37.6h4.4v4.4h-4.4zM488.5 37.2h4.4v4.4h-4.4zM502.6 37.1h4.4v4.4h-4.4zM513.5 36.9h4.4v4.4h-4.4zM519.6 36.9h4.4v4.4h-4.4zM514.9 37.2h4.4v4.4h-4.4zM448.5 37.0h4.4v4.4h-4.4zM516.6 37.8h4.4v4.4h-4.4zM488.4 38.5h4.4v4.4h-4.4zM505.8 38.3h4.4v4.4h-4.4zM460.1 38.1h4.4v4.4h-4.4zM444.3 38.7h4.4v4.4h-4.4zM527.7 38.0h4.4v4.4h-4.4zM454.7 38.2h4.4v4.4h-4.4zM453.8 38.1h4.4v4.4h-4.4zM500.8 38.8h4.4v4.4h-4.4zM480.8 38.4h4.4v4.4h-4.4zM480.0 37.9h4.4v4.4h-4.4zM482.4 38.4h4.4v4.4h-4.4zM480.9 38.2h4.4v4.4h-4.4zM496.8 38.0h4.4v4.4h-4.4zM480.2 38.2h4.4v4.4h-4.4zM459.6 38.5h4.4v4.4h-4.4zM468.3 38.6h4.4v4.4h-4.4zM465.3 38.3h4.4v4.4h-4.4zM497.7 39.6h4.4v4.4h-4.4zM513.1 39.0h4.4v4.4h-4.4zM500.4 39.8h4.4v4.4h-4.4zM484.5 39.4h4.4v4.4h-4.4zM487.5 39.8h4.4v4.4h-4.4zM491.3 39.1h4.4v4.4h-4.4zM476.2 39.8h4.4v4.4h-4.4zM449.2 39.2h4.4v4.4h-4.4zM493.2 39.7h4.4v4.4h-4.4zM509.4 39.3h4.4v4.4h-4.4zM466.8 39.6h4.4v4.4h-4.4zM459.6 39.4h4.4v4.4h-4.4zM500.6 39.2h4.4v4.4h-4.4zM457.1 39.0h4.4v4.4h-4.4zM501.5 39.8h4.4v4.4h-4.4zM473.3 39.1h4.4v4.4h-4.4zM505.2 40.2h4.4v4.4h-4.4zM459.5 40.1h4.4v4.4h-4.4zM517.9 39.8h4.4v4.4h-4.4zM518.6 40.8h4.4v4.4h-4.4zM508.8 40.1h4.4v4.4h-4.4zM513.4 40.2h4.4v4.4h-4.4zM481.4 40.5h4.4v4.4h-4.4zM460.4 40.6h4.4v4.4h-4.4zM430.8 40.0h4.4v4.4h-4.4zM508.9 40.2h4.4v4.4h-4.4zM477.9 40.5h4.4v4.4h-4.4zM492.3 40.3h4.4v4.4h-4.4zM479.9 40.0h4.4v4.4h-4.4zM513.9 40.1h4.4v4.4h-4.4zM475.9 40.5h4.4v4.4h-4.4zM436.4 40.3h4.4v4.4h-4.4zM495.7 40.0h4.4v4.4h-4.4zM435.2 41.7h4.4v4.4h-4.4zM498.5 41.6h4.4v4.4h-4.4zM521.9 41.6h4.4v4.4h-4.4zM486.4 40.9h4.4v4.4h-4.4zM460.9 41.5h4.4v4.4h-4.4zM476.9 40.8h4.4v4.4h-4.4zM462.9 41.7h4.4v4.4h-4.4zM503.8 41.1h4.4v4.4h-4.4zM520.0 40.8h4.4v4.4h-4.4zM495.3 41.0h4.4v4.4h-4.4zM442.7 41.6h4.4v4.4h-4.4zM522.7 41.3h4.4v4.4h-4.4zM508.1 41.0h4.4v4.4h-4.4zM500.0 41.2h4.4v4.4h-4.4zM502.5 40.8h4.4v4.4h-4.4zM488.7 41.8h4.4v4.4h-4.4zM506.6 41.8h4.4v4.4h-4.4zM487.5 42.7h4.4v4.4h-4.4zM524.1 42.6h4.4v4.4h-4.4zM509.6 41.9h4.4v4.4h-4.4zM486.9 42.4h4.4v4.4h-4.4zM496.3 41.9h4.4v4.4h-4.4zM498.1 42.6h4.4v4.4h-4.4zM475.3 42.5h4.4v4.4h-4.4zM528.5 42.2h4.4v4.4h-4.4zM492.7 42.2h4.4v4.4h-4.4zM465.9 42.7h4.4v4.4h-4.4zM468.8 42.8h4.4v4.4h-4.4zM499.6 42.4h4.4v4.4h-4.4zM466.8 42.6h4.4v4.4h-4.4zM495.8 42.0h4.4v4.4h-4.4zM475.0 42.2h4.4v4.4h-4.4zM482.6 42.3h4.4v4.4h-4.4zM491.5 41.8h4.4v4.4h-4.4zM471.3 43.4h4.4v4.4h-4.4zM498.0 42.9h4.4v4.4h-4.4zM475.8 43.7h4.4v4.4h-4.4zM457.3 43.7h4.4v4.4h-4.4zM526.1 43.5h4.4v4.4h-4.4zM462.6 43.1h4.4v4.4h-4.4zM484.5 42.9h4.4v4.4h-4.4zM508.7 43.6h4.4v4.4h-4.4zM473.7 43.7h4.4v4.4h-4.4zM472.5 43.1h4.4v4.4h-4.4zM456.0 43.7h4.4v4.4h-4.4zM522.4 43.2h4.4v4.4h-4.4zM492.7 43.4h4.4v4.4h-4.4zM493.4 43.1h4.4v4.4h-4.4zM536.0 42.8h4.4v4.4h-4.4zM491.1 43.0h4.4v4.4h-4.4zM467.7 44.7h4.4v4.4h-4.4zM479.4 44.2h4.4v4.4h-4.4zM482.9 43.9h4.4v4.4h-4.4zM523.4 43.9h4.4v4.4h-4.4zM490.6 44.1h4.4v4.4h-4.4zM463.9 44.2h4.4v4.4h-4.4zM473.3 44.0h4.4v4.4h-4.4zM508.6 43.9h4.4v4.4h-4.4zM467.0 44.4h4.4v4.4h-4.4zM511.7 44.1h4.4v4.4h-4.4zM525.6 44.4h4.4v4.4h-4.4zM475.3 44.7h4.4v4.4h-4.4zM512.1 43.9h4.4v4.4h-4.4zM468.3 44.7h4.4v4.4h-4.4zM466.6 44.1h4.4v4.4h-4.4zM530.8 43.9h4.4v4.4h-4.4zM520.3 45.2h4.4v4.4h-4.4zM511.3 45.2h4.4v4.4h-4.4zM479.4 44.8h4.4v4.4h-4.4zM472.7 45.5h4.4v4.4h-4.4zM452.7 45.0h4.4v4.4h-4.4zM484.2 45.5h4.4v4.4h-4.4zM497.2 45.5h4.4v4.4h-4.4zM476.0 45.5h4.4v4.4h-4.4zM462.2 45.2h4.4v4.4h-4.4zM473.6 45.1h4.4v4.4h-4.4zM455.3 45.0h4.4v4.4h-4.4zM481.0 45.5h4.4v4.4h-4.4zM507.3 45.7h4.4v4.4h-4.4zM501.9 44.9h4.4v4.4h-4.4zM467.1 45.1h4.4v4.4h-4.4zM458.3 44.8h4.4v4.4h-4.4zM482.9 46.3h4.4v4.4h-4.4zM490.4 46.0h4.4v4.4h-4.4zM508.7 46.0h4.4v4.4h-4.4zM488.5 46.6h4.4v4.4h-4.4zM498.5 46.4h4.4v4.4h-4.4zM425.7 46.6h4.4v4.4h-4.4zM539.1 46.0h4.4v4.4h-4.4zM476.0 46.8h4.4v4.4h-4.4zM502.6 46.1h4.4v4.4h-4.4zM472.5 46.2h4.4v4.4h-4.4zM505.3 46.6h4.4v4.4h-4.4zM478.4 46.5h4.4v4.4h-4.4zM472.2 46.3h4.4v4.4h-4.4zM510.9 46.1h4.4v4.4h-4.4zM524.6 46.1h4.4v4.4h-4.4zM481.1 45.9h4.4v4.4h-4.4zM509.3 46.2h4.4v4.4h-4.4zM497.0 47.1h4.4v4.4h-4.4zM499.8 47.7h4.4v4.4h-4.4zM492.0 47.0h4.4v4.4h-4.4zM485.8 47.2h4.4v4.4h-4.4zM519.3 47.0h4.4v4.4h-4.4zM490.3 47.3h4.4v4.4h-4.4zM512.5 47.5h4.4v4.4h-4.4zM524.3 47.4h4.4v4.4h-4.4zM500.9 47.6h4.4v4.4h-4.4zM485.5 47.7h4.4v4.4h-4.4zM479.6 46.9h4.4v4.4h-4.4zM466.6 47.5h4.4v4.4h-4.4zM495.4 47.2h4.4v4.4h-4.4zM464.7 46.9h4.4v4.4h-4.4zM457.5 47.2h4.4v4.4h-4.4zM541.2 47.8h4.4v4.4h-4.4zM543.0 47.5h4.4v4.4h-4.4zM537.1 48.2h4.4v4.4h-4.4zM487.5 48.0h4.4v4.4h-4.4zM483.7 48.4h4.4v4.4h-4.4zM500.5 47.8h4.4v4.4h-4.4zM491.4 48.8h4.4v4.4h-4.4zM498.0 48.5h4.4v4.4h-4.4zM515.2 48.1h4.4v4.4h-4.4zM444.8 48.7h4.4v4.4h-4.4zM519.2 48.7h4.4v4.4h-4.4zM489.7 48.3h4.4v4.4h-4.4zM501.8 48.3h4.4v4.4h-4.4zM479.0 48.4h4.4v4.4h-4.4zM530.6 47.9h4.4v4.4h-4.4zM494.2 47.8h4.4v4.4h-4.4zM514.5 47.9h4.4v4.4h-4.4zM497.9 48.4h4.4v4.4h-4.4zM483.1 48.0h4.4v4.4h-4.4zM474.3 49.4h4.4v4.4h-4.4zM443.1 49.4h4.4v4.4h-4.4zM471.0 49.6h4.4v4.4h-4.4zM458.9 49.2h4.4v4.4h-4.4zM457.7 48.9h4.4v4.4h-4.4zM513.7 49.3h4.4v4.4h-4.4zM515.4 49.0h4.4v4.4h-4.4zM479.6 49.6h4.4v4.4h-4.4zM487.6 49.3h4.4v4.4h-4.4zM518.9 49.8h4.4v4.4h-4.4zM474.9 48.9h4.4v4.4h-4.4zM480.2 49.7h4.4v4.4h-4.4zM490.3 49.3h4.4v4.4h-4.4zM520.3 49.7h4.4v4.4h-4.4zM514.6 49.4h4.4v4.4h-4.4zM479.5 49.4h4.4v4.4h-4.4zM483.2 48.8h4.4v4.4h-4.4zM493.2 49.9h4.4v4.4h-4.4zM531.5 50.5h4.4v4.4h-4.4zM547.4 50.5h4.4v4.4h-4.4zM476.2 50.0h4.4v4.4h-4.4zM493.6 50.6h4.4v4.4h-4.4zM521.7 50.7h4.4v4.4h-4.4zM468.8 50.3h4.4v4.4h-4.4zM481.3 50.6h4.4v4.4h-4.4zM479.4 50.3h4.4v4.4h-4.4zM538.2 50.7h4.4v4.4h-4.4zM443.6 50.3h4.4v4.4h-4.4zM452.7 50.5h4.4v4.4h-4.4zM476.4 50.1h4.4v4.4h-4.4zM491.6 50.8h4.4v4.4h-4.4zM508.4 50.4h4.4v4.4h-4.4zM477.0 50.1h4.4v4.4h-4.4zM509.6 50.8h4.4v4.4h-4.4zM473.7 50.9h4.4v4.4h-4.4zM508.9 51.4h4.4v4.4h-4.4zM497.3 51.3h4.4v4.4h-4.4zM444.1 51.5h4.4v4.4h-4.4zM496.2 50.9h4.4v4.4h-4.4zM564.7 51.3h4.4v4.4h-4.4zM498.2 51.0h4.4v4.4h-4.4zM491.7 51.3h4.4v4.4h-4.4zM507.3 51.7h4.4v4.4h-4.4zM513.3 50.9h4.4v4.4h-4.4zM508.5 51.1h4.4v4.4h-4.4zM537.2 51.4h4.4v4.4h-4.4zM462.8 51.3h4.4v4.4h-4.4zM480.0 51.6h4.4v4.4h-4.4zM452.8 51.5h4.4v4.4h-4.4zM485.1 52.8h4.4v4.4h-4.4zM475.8 52.1h4.4v4.4h-4.4zM454.0 51.9h4.4v4.4h-4.4zM500.9 52.2h4.4v4.4h-4.4zM475.6 52.6h4.4v4.4h-4.4zM508.0 52.7h4.4v4.4h-4.4zM442.9 52.6h4.4v4.4h-4.4zM474.2 51.9h4.4v4.4h-4.4zM476.9 52.4h4.4v4.4h-4.4zM498.4 52.7h4.4v4.4h-4.4zM490.2 52.7h4.4v4.4h-4.4zM477.1 52.8h4.4v4.4h-4.4zM460.4 52.1h4.4v4.4h-4.4zM465.4 51.8h4.4v4.4h-4.4zM514.2 52.4h4.4v4.4h-4.4zM459.6 52.1h4.4v4.4h-4.4zM493.4 52.9h4.4v4.4h-4.4zM512.4 53.2h4.4v4.4h-4.4zM479.1 53.3h4.4v4.4h-4.4zM491.9 53.4h4.4v4.4h-4.4zM479.8 53.6h4.4v4.4h-4.4zM482.8 53.3h4.4v4.4h-4.4zM521.0 53.5h4.4v4.4h-4.4zM497.3 52.9h4.4v4.4h-4.4zM479.0 53.6h4.4v4.4h-4.4zM465.1 53.2h4.4v4.4h-4.4zM520.2 53.8h4.4v4.4h-4.4zM498.8 53.6h4.4v4.4h-4.4zM523.6 53.0h4.4v4.4h-4.4zM491.7 53.0h4.4v4.4h-4.4zM482.0 53.7h4.4v4.4h-4.4zM501.8 53.6h4.4v4.4h-4.4zM503.2 54.7h4.4v4.4h-4.4zM482.5 54.2h4.4v4.4h-4.4zM494.5 54.5h4.4v4.4h-4.4zM465.5 54.1h4.4v4.4h-4.4zM448.7 54.0h4.4v4.4h-4.4zM531.2 54.4h4.4v4.4h-4.4zM494.7 54.0h4.4v4.4h-4.4zM481.4 54.0h4.4v4.4h-4.4zM502.1 54.7h4.4v4.4h-4.4zM518.8 54.6h4.4v4.4h-4.4zM517.8 54.1h4.4v4.4h-4.4zM464.0 53.8h4.4v4.4h-4.4zM505.6 54.0h4.4v4.4h-4.4zM468.2 54.5h4.4v4.4h-4.4zM459.3 54.0h4.4v4.4h-4.4zM533.9 55.7h4.4v4.4h-4.4zM484.2 55.4h4.4v4.4h-4.4zM490.6 55.5h4.4v4.4h-4.4zM463.2 55.6h4.4v4.4h-4.4zM493.5 55.4h4.4v4.4h-4.4zM477.1 55.7h4.4v4.4h-4.4zM448.8 55.6h4.4v4.4h-4.4zM520.3 55.2h4.4v4.4h-4.4zM467.6 54.9h4.4v4.4h-4.4zM503.2 55.1h4.4v4.4h-4.4zM516.8 55.8h4.4v4.4h-4.4zM471.2 54.9h4.4v4.4h-4.4zM509.3 54.9h4.4v4.4h-4.4zM506.4 55.1h4.4v4.4h-4.4zM484.8 56.4h4.4v4.4h-4.4zM470.8 56.0h4.4v4.4h-4.4zM468.7 56.2h4.4v4.4h-4.4zM501.3 56.2h4.4v4.4h-4.4zM480.0 56.5h4.4v4.4h-4.4zM519.3 56.2h4.4v4.4h-4.4zM460.0 56.6h4.4v4.4h-4.4zM492.5 56.3h4.4v4.4h-4.4zM530.7 56.1h4.4v4.4h-4.4zM471.1 56.6h4.4v4.4h-4.4zM504.5 55.9h4.4v4.4h-4.4zM503.2 56.3h4.4v4.4h-4.4zM508.6 56.7h4.4v4.4h-4.4zM480.3 56.8h4.4v4.4h-4.4zM515.0 57.5h4.4v4.4h-4.4zM527.6 57.7h4.4v4.4h-4.4zM523.8 57.6h4.4v4.4h-4.4zM496.0 57.0h4.4v4.4h-4.4zM479.3 57.0h4.4v4.4h-4.4zM478.4 56.9h4.4v4.4h-4.4zM484.0 57.7h4.4v4.4h-4.4zM501.7 57.7h4.4v4.4h-4.4zM502.6 57.5h4.4v4.4h-4.4zM478.8 57.2h4.4v4.4h-4.4zM527.8 57.4h4.4v4.4h-4.4zM484.3 58.4h4.4v4.4h-4.4zM483.8 58.2h4.4v4.4h-4.4zM477.3 58.3h4.4v4.4h-4.4zM452.4 58.5h4.4v4.4h-4.4zM499.0 58.1h4.4v4.4h-4.4zM515.1 58.7h4.4v4.4h-4.4zM489.8 58.6h4.4v4.4h-4.4zM507.6 58.7h4.4v4.4h-4.4zM468.9 57.8h4.4v4.4h-4.4zM519.3 57.9h4.4v4.4h-4.4zM496.6 57.9h4.4v4.4h-4.4zM475.6 59.5h4.4v4.4h-4.4zM494.0 59.0h4.4v4.4h-4.4zM539.8 59.2h4.4v4.4h-4.4zM483.4 59.3h4.4v4.4h-4.4zM485.8 59.3h4.4v4.4h-4.4zM523.0 59.3h4.4v4.4h-4.4zM481.2 59.1h4.4v4.4h-4.4zM505.7 58.8h4.4v4.4h-4.4zM505.9 59.6h4.4v4.4h-4.4zM496.1 59.6h4.4v4.4h-4.4zM488.5 60.3h4.4v4.4h-4.4zM494.6 60.2h4.4v4.4h-4.4zM533.9 60.4h4.4v4.4h-4.4zM502.5 60.2h4.4v4.4h-4.4zM471.0 60.7h4.4v4.4h-4.4zM505.5 60.6h4.4v4.4h-4.4zM465.6 59.9h4.4v4.4h-4.4zM518.6 60.0h4.4v4.4h-4.4zM493.5 60.7h4.4v4.4h-4.4zM495.5 61.0h4.4v4.4h-4.4zM460.4 61.5h4.4v4.4h-4.4zM498.4 61.1h4.4v4.4h-4.4zM507.6 61.7h4.4v4.4h-4.4zM519.5 61.1h4.4v4.4h-4.4zM476.0 61.8h4.4v4.4h-4.4zM496.1 61.4h4.4v4.4h-4.4zM471.7 61.6h4.4v4.4h-4.4zM485.5 62.4h4.4v4.4h-4.4zM475.3 62.3h4.4v4.4h-4.4zM503.8 62.0h4.4v4.4h-4.4zM473.0 62.6h4.4v4.4h-4.4zM517.5 62.1h4.4v4.4h-4.4zM480.3 61.9h4.4v4.4h-4.4zM487.5 62.7h4.4v4.4h-4.4zM471.0 63.5h4.4v4.4h-4.4zM494.4 62.9h4.4v4.4h-4.4zM513.6 63.6h4.4v4.4h-4.4zM509.0 63.1h4.4v4.4h-4.4zM495.4 63.4h4.4v4.4h-4.4zM508.4 63.2h4.4v4.4h-4.4zM503.7 64.3h4.4v4.4h-4.4zM518.9 64.5h4.4v4.4h-4.4zM506.2 64.2h4.4v4.4h-4.4zM483.8 64.6h4.4v4.4h-4.4zM501.3 63.9h4.4v4.4h-4.4zM463.6 65.4h4.4v4.4h-4.4zM455.6 65.0h4.4v4.4h-4.4zM502.0 64.8h4.4v4.4h-4.4zM477.2 65.6h4.4v4.4h-4.4zM488.5 66.6h4.4v4.4h-4.4zM497.3 66.4h4.4v4.4h-4.4zM515.8 66.1h4.4v4.4h-4.4zM519.5 67.5h4.4v4.4h-4.4zM472.7 67.7h4.4v4.4h-4.4zM493.4 67.0h4.4v4.4h-4.4zM497.9 68.1h4.4v4.4h-4.4zM533.8 68.3h4.4v4.4h-4.4zM496.8 69.4h4.4v4.4h-4.4zM496.2 69.3h4.4v4.4h-4.4zM524.7 70.6h4.4v4.4h-4.4zM479.6 70.5h4.4v4.4h-4.4zM465.7 71.0h4.4v4.4h-4.4zM474.8 71.6h4.4v4.4h-4.4zM464.6 72.2h4.4v4.4h-4.4zM515.3 73.3h4.4v4.4h-4.4zM502.7 72.9h4.4v4.4h-4.4zM461.5 74.6h4.4v4.4h-4.4zM486.8 74.5h4.4v4.4h-4.4zM472.0 75.5h4.4v4.4h-4.4zM513.4 76.3h4.4v4.4h-4.4zM474.8 77.1h4.4v4.4h-4.4zM492.9 78.7h4.4v4.4h-4.4zM447.3 78.3h4.4v4.4h-4.4zM523.9 79.8h4.4v4.4h-4.4zM531.2 79.8h4.4v4.4h-4.4zM493.6 80.4h4.4v4.4h-4.4zM511.5 81.1h4.4v4.4h-4.4zM496.9 81.1h4.4v4.4h-4.4zM471.9 82.3h4.4v4.4h-4.4zM484.5 82.6h4.4v4.4h-4.4zM520.1 83.6h4.4v4.4h-4.4zM440.4 84.8h4.4v4.4h-4.4zM469.9 85.0h4.4v4.4h-4.4zM448.5 85.8h4.4v4.4h-4.4zM476.5 86.4h4.4v4.4h-4.4zM481.3 86.7h4.4v4.4h-4.4zM494.4 87.1h4.4v4.4h-4.4zM506.5 87.1h4.4v4.4h-4.4zM534.8 88.4h4.4v4.4h-4.4zM523.2 89.2h4.4v4.4h-4.4zM460.1 89.0h4.4v4.4h-4.4zM481.6 90.4h4.4v4.4h-4.4zM486.7 90.8h4.4v4.4h-4.4zM497.7 90.9h4.4v4.4h-4.4zM463.6 92.0h4.4v4.4h-4.4zM528.9 92.7h4.4v4.4h-4.4zM493.8 92.8h4.4v4.4h-4.4zM496.1 93.6h4.4v4.4h-4.4zM465.1 94.2h4.4v4.4h-4.4zM496.8 94.8h4.4v4.4h-4.4zM495.3 95.1h4.4v4.4h-4.4zM530.0 95.0h4.4v4.4h-4.4zM500.6 96.6h4.4v4.4h-4.4zM447.3 95.9h4.4v4.4h-4.4zM496.0 97.1h4.4v4.4h-4.4zM472.3 97.7h4.4v4.4h-4.4zM486.1 98.6h4.4v4.4h-4.4zM472.4 98.5h4.4v4.4h-4.4zM526.0 99.6h4.4v4.4h-4.4zM493.6 99.2h4.4v4.4h-4.4zM498.2 99.0h4.4v4.4h-4.4zM510.7 99.9h4.4v4.4h-4.4zM469.0 100.0h4.4v4.4h-4.4zM462.0 100.3h4.4v4.4h-4.4zM481.5 101.5h4.4v4.4h-4.4zM511.6 101.6h4.4v4.4h-4.4zM515.9 101.3h4.4v4.4h-4.4zM488.8 101.8h4.4v4.4h-4.4zM509.2 102.1h4.4v4.4h-4.4zM439.3 102.1h4.4v4.4h-4.4zM508.7 103.3h4.4v4.4h-4.4zM514.3 103.4h4.4v4.4h-4.4zM487.2 102.8h4.4v4.4h-4.4zM515.3 104.5h4.4v4.4h-4.4zM483.5 104.3h4.4v4.4h-4.4zM534.6 104.4h4.4v4.4h-4.4zM480.1 104.8h4.4v4.4h-4.4zM526.5 104.9h4.4v4.4h-4.4zM513.0 105.0h4.4v4.4h-4.4zM487.9 105.4h4.4v4.4h-4.4zM497.6 106.2h4.4v4.4h-4.4zM564.0 106.1h4.4v4.4h-4.4zM539.2 106.7h4.4v4.4h-4.4zM543.2 107.7h4.4v4.4h-4.4zM482.4 107.3h4.4v4.4h-4.4zM506.7 106.9h4.4v4.4h-4.4zM578.9 108.7h4.4v4.4h-4.4zM527.8 107.9h4.4v4.4h-4.4zM500.4 108.6h4.4v4.4h-4.4zM475.7 108.0h4.4v4.4h-4.4zM508.9 109.6h4.4v4.4h-4.4zM451.3 109.0h4.4v4.4h-4.4zM510.7 109.7h4.4v4.4h-4.4zM465.3 108.8h4.4v4.4h-4.4zM502.9 109.9h4.4v4.4h-4.4zM545.7 110.2h4.4v4.4h-4.4zM490.8 110.1h4.4v4.4h-4.4zM503.4 109.8h4.4v4.4h-4.4zM474.1 111.3h4.4v4.4h-4.4zM532.4 111.2h4.4v4.4h-4.4zM531.5 111.1h4.4v4.4h-4.4zM493.9 111.7h4.4v4.4h-4.4zM520.7 112.8h4.4v4.4h-4.4zM505.1 112.5h4.4v4.4h-4.4zM512.3 112.7h4.4v4.4h-4.4zM501.5 112.2h4.4v4.4h-4.4zM511.0 113.7h4.4v4.4h-4.4zM478.5 113.2h4.4v4.4h-4.4zM521.0 113.8h4.4v4.4h-4.4zM469.1 113.2h4.4v4.4h-4.4zM516.2 113.4h4.4v4.4h-4.4zM521.8 113.9h4.4v4.4h-4.4zM519.0 114.3h4.4v4.4h-4.4zM521.9 114.2h4.4v4.4h-4.4zM499.0 114.5h4.4v4.4h-4.4zM515.0 113.8h4.4v4.4h-4.4zM529.7 115.7h4.4v4.4h-4.4zM532.8 115.2h4.4v4.4h-4.4zM526.3 115.7h4.4v4.4h-4.4zM515.5 115.2h4.4v4.4h-4.4zM497.7 114.9h4.4v4.4h-4.4zM538.5 116.5h4.4v4.4h-4.4zM457.6 116.3h4.4v4.4h-4.4zM459.3 116.2h4.4v4.4h-4.4zM469.3 116.0h4.4v4.4h-4.4zM505.3 116.3h4.4v4.4h-4.4zM497.7 116.9h4.4v4.4h-4.4zM527.0 117.4h4.4v4.4h-4.4zM510.0 116.9h4.4v4.4h-4.4zM526.1 117.5h4.4v4.4h-4.4zM480.7 117.2h4.4v4.4h-4.4zM467.7 118.4h4.4v4.4h-4.4zM543.5 118.2h4.4v4.4h-4.4zM485.9 118.0h4.4v4.4h-4.4zM462.8 118.0h4.4v4.4h-4.4zM513.1 118.7h4.4v4.4h-4.4zM492.1 119.5h4.4v4.4h-4.4zM465.8 119.0h4.4v4.4h-4.4zM525.7 119.4h4.4v4.4h-4.4zM510.8 119.4h4.4v4.4h-4.4zM519.8 119.2h4.4v4.4h-4.4zM497.8 119.5h4.4v4.4h-4.4zM517.8 120.2h4.4v4.4h-4.4zM502.5 120.7h4.4v4.4h-4.4zM503.1 120.4h4.4v4.4h-4.4zM495.0 119.9h4.4v4.4h-4.4zM485.7 120.6h4.4v4.4h-4.4zM500.7 120.5h4.4v4.4h-4.4zM487.1 121.1h4.4v4.4h-4.4zM526.0 121.3h4.4v4.4h-4.4zM473.7 121.0h4.4v4.4h-4.4zM471.4 121.7h4.4v4.4h-4.4zM486.2 121.7h4.4v4.4h-4.4zM506.1 121.6h4.4v4.4h-4.4zM480.8 122.7h4.4v4.4h-4.4zM499.6 122.1h4.4v4.4h-4.4zM524.8 122.2h4.4v4.4h-4.4zM486.5 122.0h4.4v4.4h-4.4zM504.8 122.0h4.4v4.4h-4.4zM537.0 121.8h4.4v4.4h-4.4zM525.3 123.4h4.4v4.4h-4.4zM494.3 123.0h4.4v4.4h-4.4zM467.1 123.0h4.4v4.4h-4.4zM499.1 123.1h4.4v4.4h-4.4zM502.0 123.3h4.4v4.4h-4.4zM458.5 122.9h4.4v4.4h-4.4zM524.2 123.0h4.4v4.4h-4.4zM487.9 124.5h4.4v4.4h-4.4zM456.0 124.6h4.4v4.4h-4.4zM453.6 124.4h4.4v4.4h-4.4zM499.3 124.0h4.4v4.4h-4.4zM450.9 124.2h4.4v4.4h-4.4zM499.2 124.8h4.4v4.4h-4.4zM510.3 124.7h4.4v4.4h-4.4zM521.8 125.0h4.4v4.4h-4.4zM485.2 125.4h4.4v4.4h-4.4zM493.3 124.8h4.4v4.4h-4.4zM470.1 125.7h4.4v4.4h-4.4zM509.8 125.4h4.4v4.4h-4.4zM488.0 124.8h4.4v4.4h-4.4zM477.0 125.4h4.4v4.4h-4.4zM449.9 126.8h4.4v4.4h-4.4zM535.5 126.2h4.4v4.4h-4.4zM511.2 126.2h4.4v4.4h-4.4zM507.1 126.0h4.4v4.4h-4.4zM456.4 126.7h4.4v4.4h-4.4zM541.2 126.6h4.4v4.4h-4.4zM504.0 126.7h4.4v4.4h-4.4zM505.8 127.0h4.4v4.4h-4.4zM456.5 127.0h4.4v4.4h-4.4zM464.7 127.1h4.4v4.4h-4.4zM528.6 127.5h4.4v4.4h-4.4zM505.2 126.9h4.4v4.4h-4.4zM454.7 127.2h4.4v4.4h-4.4zM520.9 126.9h4.4v4.4h-4.4zM488.1 128.2h4.4v4.4h-4.4zM494.0 128.7h4.4v4.4h-4.4zM506.5 128.0h4.4v4.4h-4.4zM518.8 128.3h4.4v4.4h-4.4zM485.6 128.8h4.4v4.4h-4.4zM543.2 128.2h4.4v4.4h-4.4zM483.3 128.2h4.4v4.4h-4.4zM492.2 128.6h4.4v4.4h-4.4zM512.2 129.0h4.4v4.4h-4.4zM481.7 129.4h4.4v4.4h-4.4zM475.9 129.0h4.4v4.4h-4.4zM488.9 128.9h4.4v4.4h-4.4zM489.1 129.8h4.4v4.4h-4.4zM527.6 129.3h4.4v4.4h-4.4zM527.8 129.5h4.4v4.4h-4.4zM503.7 129.7h4.4v4.4h-4.4zM512.9 130.7h4.4v4.4h-4.4zM492.1 130.1h4.4v4.4h-4.4zM533.8 130.7h4.4v4.4h-4.4zM533.9 130.2h4.4v4.4h-4.4zM494.3 130.7h4.4v4.4h-4.4zM499.9 130.6h4.4v4.4h-4.4zM524.8 129.8h4.4v4.4h-4.4zM457.1 131.4h4.4v4.4h-4.4zM517.7 130.9h4.4v4.4h-4.4zM461.0 131.4h4.4v4.4h-4.4zM508.6 131.2h4.4v4.4h-4.4zM541.5 131.5h4.4v4.4h-4.4zM497.6 131.5h4.4v4.4h-4.4zM540.4 131.7h4.4v4.4h-4.4zM485.4 131.7h4.4v4.4h-4.4zM491.4 132.5h4.4v4.4h-4.4zM467.0 132.2h4.4v4.4h-4.4zM482.5 132.7h4.4v4.4h-4.4zM521.9 131.9h4.4v4.4h-4.4zM543.4 132.4h4.4v4.4h-4.4zM482.0 131.9h4.4v4.4h-4.4zM492.7 132.7h4.4v4.4h-4.4zM491.8 131.9h4.4v4.4h-4.4zM522.9 133.3h4.4v4.4h-4.4zM458.1 133.2h4.4v4.4h-4.4zM515.7 133.0h4.4v4.4h-4.4zM518.9 133.8h4.4v4.4h-4.4zM534.8 133.5h4.4v4.4h-4.4zM486.8 132.9h4.4v4.4h-4.4zM489.3 133.4h4.4v4.4h-4.4zM475.7 133.5h4.4v4.4h-4.4zM500.1 134.8h4.4v4.4h-4.4zM508.8 134.4h4.4v4.4h-4.4zM496.9 133.9h4.4v4.4h-4.4zM551.9 134.3h4.4v4.4h-4.4zM483.5 134.5h4.4v4.4h-4.4zM524.4 134.0h4.4v4.4h-4.4zM502.8 134.3h4.4v4.4h-4.4zM512.4 134.0h4.4v4.4h-4.4zM459.9 135.4h4.4v4.4h-4.4zM461.6 135.3h4.4v4.4h-4.4zM431.3 135.4h4.4v4.4h-4.4zM536.4 135.5h4.4v4.4h-4.4zM542.8 135.5h4.4v4.4h-4.4zM526.2 135.6h4.4v4.4h-4.4zM518.2 135.4h4.4v4.4h-4.4zM498.6 135.9h4.4v4.4h-4.4zM480.4 135.8h4.4v4.4h-4.4zM513.1 136.7h4.4v4.4h-4.4zM523.9 136.3h4.4v4.4h-4.4zM469.2 136.0h4.4v4.4h-4.4zM518.2 136.4h4.4v4.4h-4.4zM478.8 136.0h4.4v4.4h-4.4zM516.5 135.9h4.4v4.4h-4.4zM475.0 137.1h4.4v4.4h-4.4zM493.2 136.9h4.4v4.4h-4.4zM474.2 137.2h4.4v4.4h-4.4zM483.0 137.7h4.4v4.4h-4.4zM524.0 137.1h4.4v4.4h-4.4zM509.1 137.2h4.4v4.4h-4.4zM506.5 137.5h4.4v4.4h-4.4zM514.8 137.5h4.4v4.4h-4.4zM522.5 137.9h4.4v4.4h-4.4zM522.5 138.4h4.4v4.4h-4.4zM529.9 138.8h4.4v4.4h-4.4zM480.2 138.3h4.4v4.4h-4.4zM521.0 138.4h4.4v4.4h-4.4zM465.8 138.5h4.4v4.4h-4.4zM481.7 138.5h4.4v4.4h-4.4zM542.2 138.3h4.4v4.4h-4.4zM485.3 139.4h4.4v4.4h-4.4zM487.3 139.7h4.4v4.4h-4.4zM542.3 139.2h4.4v4.4h-4.4zM524.2 139.3h4.4v4.4h-4.4zM526.3 139.3h4.4v4.4h-4.4zM462.1 139.3h4.4v4.4h-4.4zM488.6 139.7h4.4v4.4h-4.4zM502.4 139.7h4.4v4.4h-4.4zM497.9 140.7h4.4v4.4h-4.4zM473.4 140.6h4.4v4.4h-4.4zM502.0 140.2h4.4v4.4h-4.4zM539.9 140.3h4.4v4.4h-4.4zM502.7 140.2h4.4v4.4h-4.4zM504.5 140.5h4.4v4.4h-4.4zM566.4 139.8h4.4v4.4h-4.4zM461.4 140.6h4.4v4.4h-4.4zM471.6 140.8h4.4v4.4h-4.4zM530.6 141.1h4.4v4.4h-4.4zM527.8 140.8h4.4v4.4h-4.4zM448.6 141.2h4.4v4.4h-4.4zM478.2 141.2h4.4v4.4h-4.4zM478.7 141.1h4.4v4.4h-4.4zM538.9 141.4h4.4v4.4h-4.4zM495.4 140.8h4.4v4.4h-4.4zM501.2 142.4h4.4v4.4h-4.4zM551.3 142.1h4.4v4.4h-4.4zM497.0 142.5h4.4v4.4h-4.4zM490.6 142.2h4.4v4.4h-4.4zM488.5 142.0h4.4v4.4h-4.4zM516.0 142.4h4.4v4.4h-4.4zM499.4 142.8h4.4v4.4h-4.4zM504.6 141.9h4.4v4.4h-4.4zM542.4 142.9h4.4v4.4h-4.4zM460.4 143.6h4.4v4.4h-4.4zM492.1 143.3h4.4v4.4h-4.4zM499.4 143.4h4.4v4.4h-4.4zM484.0 143.7h4.4v4.4h-4.4zM505.2 143.4h4.4v4.4h-4.4zM529.8 143.0h4.4v4.4h-4.4zM502.6 143.2h4.4v4.4h-4.4zM519.8 143.8h4.4v4.4h-4.4zM497.8 144.6h4.4v4.4h-4.4zM508.7 144.5h4.4v4.4h-4.4zM498.3 143.9h4.4v4.4h-4.4zM488.4 144.2h4.4v4.4h-4.4zM505.1 144.0h4.4v4.4h-4.4zM463.6 144.4h4.4v4.4h-4.4zM531.6 144.8h4.4v4.4h-4.4zM515.3 144.9h4.4v4.4h-4.4zM501.1 145.5h4.4v4.4h-4.4zM547.3 145.7h4.4v4.4h-4.4zM514.4 145.2h4.4v4.4h-4.4zM524.8 145.2h4.4v4.4h-4.4zM485.0 145.8h4.4v4.4h-4.4zM514.7 145.4h4.4v4.4h-4.4zM499.8 145.6h4.4v4.4h-4.4zM531.8 146.8h4.4v4.4h-4.4zM459.7 146.3h4.4v4.4h-4.4zM512.6 146.4h4.4v4.4h-4.4zM547.9 146.4h4.4v4.4h-4.4zM456.8 146.7h4.4v4.4h-4.4zM451.3 146.0h4.4v4.4h-4.4zM526.3 146.0h4.4v4.4h-4.4zM553.4 146.1h4.4v4.4h-4.4zM490.6 147.5h4.4v4.4h-4.4zM497.8 147.6h4.4v4.4h-4.4zM522.0 146.9h4.4v4.4h-4.4zM495.0 147.5h4.4v4.4h-4.4zM502.7 147.4h4.4v4.4h-4.4zM494.5 147.6h4.4v4.4h-4.4zM484.3 147.7h4.4v4.4h-4.4zM497.7 147.0h4.4v4.4h-4.4zM493.9 147.9h4.4v4.4h-4.4zM506.2 148.0h4.4v4.4h-4.4zM489.9 148.6h4.4v4.4h-4.4zM546.1 148.3h4.4v4.4h-4.4zM514.4 148.1h4.4v4.4h-4.4zM538.2 147.9h4.4v4.4h-4.4zM555.9 148.8h4.4v4.4h-4.4zM522.0 148.3h4.4v4.4h-4.4zM494.4 149.7h4.4v4.4h-4.4zM549.4 149.7h4.4v4.4h-4.4zM482.2 149.2h4.4v4.4h-4.4zM498.8 149.6h4.4v4.4h-4.4zM485.7 149.8h4.4v4.4h-4.4zM485.3 149.3h4.4v4.4h-4.4zM476.1 149.2h4.4v4.4h-4.4zM491.7 149.2h4.4v4.4h-4.4zM565.4 149.6h4.4v4.4h-4.4zM450.8 150.4h4.4v4.4h-4.4zM526.3 150.0h4.4v4.4h-4.4zM510.9 150.4h4.4v4.4h-4.4zM509.6 150.4h4.4v4.4h-4.4zM477.1 150.3h4.4v4.4h-4.4zM481.9 150.5h4.4v4.4h-4.4zM527.2 150.2h4.4v4.4h-4.4zM506.1 150.2h4.4v4.4h-4.4zM505.2 150.4h4.4v4.4h-4.4zM481.8 151.2h4.4v4.4h-4.4zM488.6 151.7h4.4v4.4h-4.4zM538.1 151.1h4.4v4.4h-4.4zM518.2 151.7h4.4v4.4h-4.4zM463.6 151.2h4.4v4.4h-4.4zM516.4 151.6h4.4v4.4h-4.4zM536.5 151.6h4.4v4.4h-4.4zM487.4 151.3h4.4v4.4h-4.4zM464.6 152.2h4.4v4.4h-4.4zM443.5 152.5h4.4v4.4h-4.4zM487.8 152.0h4.4v4.4h-4.4zM492.3 151.8h4.4v4.4h-4.4zM535.7 152.4h4.4v4.4h-4.4zM460.0 152.4h4.4v4.4h-4.4zM560.1 152.6h4.4v4.4h-4.4zM483.3 152.3h4.4v4.4h-4.4zM528.5 152.2h4.4v4.4h-4.4zM481.1 153.1h4.4v4.4h-4.4zM495.2 153.1h4.4v4.4h-4.4zM557.9 153.1h4.4v4.4h-4.4zM519.7 152.8h4.4v4.4h-4.4zM452.5 153.2h4.4v4.4h-4.4zM514.8 152.8h4.4v4.4h-4.4zM515.8 153.7h4.4v4.4h-4.4zM510.8 153.4h4.4v4.4h-4.4zM493.7 153.2h4.4v4.4h-4.4zM525.6 154.2h4.4v4.4h-4.4zM451.7 154.4h4.4v4.4h-4.4zM526.5 154.5h4.4v4.4h-4.4zM437.5 154.0h4.4v4.4h-4.4zM481.9 154.8h4.4v4.4h-4.4zM508.9 154.2h4.4v4.4h-4.4zM476.4 154.5h4.4v4.4h-4.4zM495.8 154.3h4.4v4.4h-4.4zM524.9 154.3h4.4v4.4h-4.4zM497.2 155.2h4.4v4.4h-4.4zM519.2 154.9h4.4v4.4h-4.4zM504.8 155.2h4.4v4.4h-4.4zM470.6 155.3h4.4v4.4h-4.4zM473.2 155.3h4.4v4.4h-4.4zM483.4 155.3h4.4v4.4h-4.4zM465.2 155.4h4.4v4.4h-4.4zM464.8 155.3h4.4v4.4h-4.4zM470.1 155.4h4.4v4.4h-4.4zM492.8 156.5h4.4v4.4h-4.4zM507.8 156.7h4.4v4.4h-4.4zM492.3 155.8h4.4v4.4h-4.4zM561.0 156.3h4.4v4.4h-4.4zM482.6 156.4h4.4v4.4h-4.4zM453.8 156.4h4.4v4.4h-4.4zM464.1 156.4h4.4v4.4h-4.4zM546.2 156.0h4.4v4.4h-4.4zM491.6 156.1h4.4v4.4h-4.4zM539.1 157.3h4.4v4.4h-4.4zM490.1 156.9h4.4v4.4h-4.4zM472.0 156.9h4.4v4.4h-4.4zM486.1 157.6h4.4v4.4h-4.4zM450.8 157.2h4.4v4.4h-4.4zM448.4 157.5h4.4v4.4h-4.4zM429.3 157.7h4.4v4.4h-4.4zM492.1 157.4h4.4v4.4h-4.4zM524.6 157.8h4.4v4.4h-4.4zM450.6 157.8h4.4v4.4h-4.4zM538.4 158.4h4.4v4.4h-4.4zM517.7 158.0h4.4v4.4h-4.4zM520.9 158.3h4.4v4.4h-4.4zM492.9 158.3h4.4v4.4h-4.4zM518.4 158.3h4.4v4.4h-4.4zM475.5 158.1h4.4v4.4h-4.4zM486.2 158.8h4.4v4.4h-4.4zM490.3 158.0h4.4v4.4h-4.4zM509.3 159.0h4.4v4.4h-4.4zM486.3 159.1h4.4v4.4h-4.4zM535.0 159.1h4.4v4.4h-4.4zM457.5 159.7h4.4v4.4h-4.4zM519.1 159.0h4.4v4.4h-4.4zM499.3 158.9h4.4v4.4h-4.4zM456.1 159.3h4.4v4.4h-4.4zM489.8 159.6h4.4v4.4h-4.4zM507.3 159.6h4.4v4.4h-4.4zM545.7 160.5h4.4v4.4h-4.4zM486.8 160.7h4.4v4.4h-4.4zM522.6 160.8h4.4v4.4h-4.4zM515.0 159.9h4.4v4.4h-4.4zM482.9 160.3h4.4v4.4h-4.4zM576.3 160.2h4.4v4.4h-4.4zM467.4 160.0h4.4v4.4h-4.4zM501.8 160.3h4.4v4.4h-4.4zM525.7 160.1h4.4v4.4h-4.4zM464.5 160.8h4.4v4.4h-4.4zM521.3 160.9h4.4v4.4h-4.4zM512.3 161.5h4.4v4.4h-4.4zM542.5 161.6h4.4v4.4h-4.4zM479.6 161.1h4.4v4.4h-4.4zM492.9 161.8h4.4v4.4h-4.4zM447.2 161.3h4.4v4.4h-4.4zM535.4 161.8h4.4v4.4h-4.4zM486.8 161.0h4.4v4.4h-4.4zM436.2 162.8h4.4v4.4h-4.4zM520.1 162.3h4.4v4.4h-4.4zM537.6 162.8h4.4v4.4h-4.4zM513.6 161.8h4.4v4.4h-4.4zM526.4 162.2h4.4v4.4h-4.4zM551.8 162.3h4.4v4.4h-4.4zM522.0 161.9h4.4v4.4h-4.4zM489.2 162.3h4.4v4.4h-4.4zM500.7 162.4h4.4v4.4h-4.4zM530.3 163.3h4.4v4.4h-4.4zM486.9 163.6h4.4v4.4h-4.4zM451.1 163.4h4.4v4.4h-4.4zM490.4 162.8h4.4v4.4h-4.4zM489.0 163.6h4.4v4.4h-4.4zM533.0 163.4h4.4v4.4h-4.4zM521.7 163.6h4.4v4.4h-4.4zM501.1 163.5h4.4v4.4h-4.4zM462.0 163.7h4.4v4.4h-4.4zM517.2 164.6h4.4v4.4h-4.4zM496.7 164.7h4.4v4.4h-4.4zM509.8 164.4h4.4v4.4h-4.4zM503.6 163.8h4.4v4.4h-4.4zM489.6 164.1h4.4v4.4h-4.4zM499.2 164.0h4.4v4.4h-4.4zM500.3 164.6h4.4v4.4h-4.4zM523.4 164.6h4.4v4.4h-4.4zM481.0 164.2h4.4v4.4h-4.4zM482.1 164.9h4.4v4.4h-4.4zM439.7 165.5h4.4v4.4h-4.4zM510.6 165.1h4.4v4.4h-4.4zM512.7 164.8h4.4v4.4h-4.4zM481.0 165.2h4.4v4.4h-4.4zM511.4 165.4h4.4v4.4h-4.4zM503.3 165.4h4.4v4.4h-4.4zM456.5 164.9h4.4v4.4h-4.4zM464.7 165.6h4.4v4.4h-4.4zM531.8 166.0h4.4v4.4h-4.4zM520.8 166.3h4.4v4.4h-4.4zM544.1 166.2h4.4v4.4h-4.4zM455.4 165.9h4.4v4.4h-4.4zM465.9 165.8h4.4v4.4h-4.4zM469.5 166.0h4.4v4.4h-4.4zM536.1 165.8h4.4v4.4h-4.4zM478.4 165.9h4.4v4.4h-4.4zM507.8 167.5h4.4v4.4h-4.4zM523.2 167.2h4.4v4.4h-4.4zM509.8 166.9h4.4v4.4h-4.4zM535.9 166.9h4.4v4.4h-4.4zM521.2 167.7h4.4v4.4h-4.4zM484.4 167.7h4.4v4.4h-4.4zM474.6 167.7h4.4v4.4h-4.4zM490.4 167.7h4.4v4.4h-4.4zM486.0 166.9h4.4v4.4h-4.4zM506.9 167.9h4.4v4.4h-4.4zM547.8 168.6h4.4v4.4h-4.4zM498.3 167.8h4.4v4.4h-4.4zM494.7 168.6h4.4v4.4h-4.4zM530.9 168.0h4.4v4.4h-4.4zM522.7 168.7h4.4v4.4h-4.4zM493.7 168.3h4.4v4.4h-4.4zM455.4 168.7h4.4v4.4h-4.4zM502.6 169.3h4.4v4.4h-4.4zM462.6 169.5h4.4v4.4h-4.4zM544.6 169.3h4.4v4.4h-4.4zM559.3 169.8h4.4v4.4h-4.4zM450.0 169.5h4.4v4.4h-4.4zM518.5 168.8h4.4v4.4h-4.4zM463.0 168.9h4.4v4.4h-4.4zM452.4 169.4h4.4v4.4h-4.4zM496.8 169.9h4.4v4.4h-4.4zM490.6 170.2h4.4v4.4h-4.4zM521.2 170.0h4.4v4.4h-4.4zM469.0 170.3h4.4v4.4h-4.4zM541.4 170.3h4.4v4.4h-4.4zM539.6 170.7h4.4v4.4h-4.4zM541.4 170.3h4.4v4.4h-4.4zM475.4 170.6h4.4v4.4h-4.4zM523.4 171.3h4.4v4.4h-4.4zM462.1 171.3h4.4v4.4h-4.4zM506.2 171.1h4.4v4.4h-4.4zM497.4 171.1h4.4v4.4h-4.4zM463.0 170.9h4.4v4.4h-4.4zM488.2 171.6h4.4v4.4h-4.4zM527.5 171.5h4.4v4.4h-4.4zM531.3 170.9h4.4v4.4h-4.4zM534.1 172.5h4.4v4.4h-4.4zM479.1 172.6h4.4v4.4h-4.4zM548.7 172.4h4.4v4.4h-4.4zM507.6 172.7h4.4v4.4h-4.4zM470.1 172.1h4.4v4.4h-4.4zM478.2 171.8h4.4v4.4h-4.4zM448.5 172.3h4.4v4.4h-4.4zM469.3 171.8h4.4v4.4h-4.4zM545.4 173.1h4.4v4.4h-4.4zM554.9 173.7h4.4v4.4h-4.4zM514.9 173.7h4.4v4.4h-4.4zM514.2 173.7h4.4v4.4h-4.4zM501.2 173.5h4.4v4.4h-4.4zM506.7 173.3h4.4v4.4h-4.4zM522.3 173.6h4.4v4.4h-4.4zM521.6 173.0h4.4v4.4h-4.4zM519.9 174.2h4.4v4.4h-4.4zM539.7 173.8h4.4v4.4h-4.4zM463.3 174.0h4.4v4.4h-4.4zM532.8 173.9h4.4v4.4h-4.4zM481.2 174.4h4.4v4.4h-4.4zM485.2 173.9h4.4v4.4h-4.4zM490.8 174.7h4.4v4.4h-4.4zM490.1 174.9h4.4v4.4h-4.4zM491.7 175.7h4.4v4.4h-4.4zM522.8 175.5h4.4v4.4h-4.4zM470.9 175.6h4.4v4.4h-4.4zM500.5 174.9h4.4v4.4h-4.4zM512.6 175.2h4.4v4.4h-4.4zM495.1 175.4h4.4v4.4h-4.4zM524.3 175.0h4.4v4.4h-4.4zM550.4 175.9h4.4v4.4h-4.4zM536.0 176.3h4.4v4.4h-4.4zM524.5 176.1h4.4v4.4h-4.4zM473.1 176.2h4.4v4.4h-4.4zM532.1 176.3h4.4v4.4h-4.4zM497.4 176.3h4.4v4.4h-4.4zM485.1 176.5h4.4v4.4h-4.4zM506.1 177.1h4.4v4.4h-4.4zM513.9 177.4h4.4v4.4h-4.4zM499.8 177.0h4.4v4.4h-4.4zM544.9 176.8h4.4v4.4h-4.4zM536.2 177.2h4.4v4.4h-4.4zM471.9 177.3h4.4v4.4h-4.4zM547.9 176.8h4.4v4.4h-4.4zM522.7 178.7h4.4v4.4h-4.4zM516.3 177.8h4.4v4.4h-4.4zM473.0 177.8h4.4v4.4h-4.4zM542.9 178.6h4.4v4.4h-4.4zM500.5 178.0h4.4v4.4h-4.4zM505.8 178.0h4.4v4.4h-4.4zM489.3 178.8h4.4v4.4h-4.4zM522.6 179.0h4.4v4.4h-4.4zM523.5 179.1h4.4v4.4h-4.4zM496.9 179.5h4.4v4.4h-4.4zM479.0 179.2h4.4v4.4h-4.4zM544.4 178.8h4.4v4.4h-4.4zM487.4 179.7h4.4v4.4h-4.4zM463.1 179.1h4.4v4.4h-4.4zM529.1 180.0h4.4v4.4h-4.4zM527.1 180.6h4.4v4.4h-4.4zM511.3 180.2h4.4v4.4h-4.4zM507.1 179.9h4.4v4.4h-4.4zM512.4 180.5h4.4v4.4h-4.4zM500.7 180.6h4.4v4.4h-4.4zM504.5 180.4h4.4v4.4h-4.4zM464.2 181.1h4.4v4.4h-4.4zM484.8 181.0h4.4v4.4h-4.4zM493.1 181.0h4.4v4.4h-4.4zM523.6 181.4h4.4v4.4h-4.4zM485.8 181.3h4.4v4.4h-4.4zM511.8 181.8h4.4v4.4h-4.4zM538.9 181.6h4.4v4.4h-4.4zM464.9 181.5h4.4v4.4h-4.4zM430.4 182.5h4.4v4.4h-4.4zM493.9 182.3h4.4v4.4h-4.4zM555.2 182.2h4.4v4.4h-4.4zM525.7 182.2h4.4v4.4h-4.4zM508.7 182.2h4.4v4.4h-4.4zM490.7 182.1h4.4v4.4h-4.4zM450.7 182.1h4.4v4.4h-4.4zM475.3 183.4h4.4v4.4h-4.4zM498.0 182.9h4.4v4.4h-4.4zM504.4 183.0h4.4v4.4h-4.4zM492.1 183.1h4.4v4.4h-4.4zM475.1 183.0h4.4v4.4h-4.4zM537.2 183.1h4.4v4.4h-4.4zM540.8 183.4h4.4v4.4h-4.4zM540.6 184.5h4.4v4.4h-4.4zM482.8 184.5h4.4v4.4h-4.4zM504.3 184.2h4.4v4.4h-4.4zM525.1 184.0h4.4v4.4h-4.4zM506.4 184.8h4.4v4.4h-4.4zM506.0 184.5h4.4v4.4h-4.4zM514.3 185.6h4.4v4.4h-4.4zM514.7 185.6h4.4v4.4h-4.4zM504.6 185.6h4.4v4.4h-4.4zM477.1 185.1h4.4v4.4h-4.4zM512.8 185.7h4.4v4.4h-4.4zM476.4 185.7h4.4v4.4h-4.4zM550.6 185.1h4.4v4.4h-4.4zM489.1 186.8h4.4v4.4h-4.4zM497.8 186.7h4.4v4.4h-4.4zM482.5 185.9h4.4v4.4h-4.4zM506.5 185.9h4.4v4.4h-4.4zM547.4 186.1h4.4v4.4h-4.4zM548.0 186.0h4.4v4.4h-4.4zM519.1 187.5h4.4v4.4h-4.4zM498.0 187.6h4.4v4.4h-4.4zM559.4 187.2h4.4v4.4h-4.4zM532.4 187.5h4.4v4.4h-4.4zM531.2 187.5h4.4v4.4h-4.4zM526.3 187.3h4.4v4.4h-4.4zM474.9 187.7h4.4v4.4h-4.4zM487.7 188.4h4.4v4.4h-4.4zM533.1 188.1h4.4v4.4h-4.4zM481.7 188.1h4.4v4.4h-4.4zM505.3 188.2h4.4v4.4h-4.4zM460.0 188.1h4.4v4.4h-4.4zM490.7 188.0h4.4v4.4h-4.4zM456.7 189.1h4.4v4.4h-4.4zM506.1 189.7h4.4v4.4h-4.4zM549.4 189.0h4.4v4.4h-4.4zM523.2 188.9h4.4v4.4h-4.4zM509.7 189.1h4.4v4.4h-4.4zM477.0 189.4h4.4v4.4h-4.4zM526.6 190.2h4.4v4.4h-4.4zM550.7 190.0h4.4v4.4h-4.4zM550.8 190.5h4.4v4.4h-4.4zM516.0 190.6h4.4v4.4h-4.4zM538.8 190.5h4.4v4.4h-4.4zM506.9 191.3h4.4v4.4h-4.4zM518.8 191.3h4.4v4.4h-4.4zM545.0 191.0h4.4v4.4h-4.4zM483.6 191.1h4.4v4.4h-4.4zM465.0 191.1h4.4v4.4h-4.4zM546.8 192.6h4.4v4.4h-4.4zM530.3 192.3h4.4v4.4h-4.4zM543.0 192.6h4.4v4.4h-4.4zM575.3 192.4h4.4v4.4h-4.4zM548.7 192.6h4.4v4.4h-4.4zM467.7 193.1h4.4v4.4h-4.4zM492.0 193.1h4.4v4.4h-4.4zM510.4 193.0h4.4v4.4h-4.4zM504.2 193.0h4.4v4.4h-4.4zM516.7 193.3h4.4v4.4h-4.4zM546.3 194.5h4.4v4.4h-4.4zM473.6 194.2h4.4v4.4h-4.4zM536.6 194.4h4.4v4.4h-4.4zM477.2 194.7h4.4v4.4h-4.4zM529.4 194.2h4.4v4.4h-4.4zM497.4 194.7h4.4v4.4h-4.4zM465.6 195.8h4.4v4.4h-4.4zM481.1 194.8h4.4v4.4h-4.4zM555.1 195.5h4.4v4.4h-4.4zM484.5 194.8h4.4v4.4h-4.4zM553.4 195.6h4.4v4.4h-4.4zM518.3 196.6h4.4v4.4h-4.4zM512.5 196.3h4.4v4.4h-4.4zM517.4 195.9h4.4v4.4h-4.4zM518.8 196.5h4.4v4.4h-4.4zM517.8 196.0h4.4v4.4h-4.4zM519.0 197.3h4.4v4.4h-4.4zM517.2 196.9h4.4v4.4h-4.4zM480.5 197.6h4.4v4.4h-4.4zM481.0 196.9h4.4v4.4h-4.4zM553.0 196.9h4.4v4.4h-4.4zM506.9 198.4h4.4v4.4h-4.4zM575.3 198.6h4.4v4.4h-4.4zM545.3 198.3h4.4v4.4h-4.4zM524.5 198.3h4.4v4.4h-4.4zM567.4 199.0h4.4v4.4h-4.4zM563.5 199.1h4.4v4.4h-4.4zM539.6 199.6h4.4v4.4h-4.4zM493.8 199.2h4.4v4.4h-4.4zM513.5 200.6h4.4v4.4h-4.4zM550.0 200.0h4.4v4.4h-4.4zM490.3 200.5h4.4v4.4h-4.4zM515.5 200.1h4.4v4.4h-4.4zM501.4 201.1h4.4v4.4h-4.4zM497.9 201.1h4.4v4.4h-4.4zM545.7 201.8h4.4v4.4h-4.4zM532.6 201.0h4.4v4.4h-4.4zM516.2 202.6h4.4v4.4h-4.4zM553.3 202.1h4.4v4.4h-4.4zM524.4 202.7h4.4v4.4h-4.4zM488.0 202.5h4.4v4.4h-4.4zM576.2 202.9h4.4v4.4h-4.4zM504.5 203.3h4.4v4.4h-4.4zM506.8 203.7h4.4v4.4h-4.4zM605.4 204.6h4.4v4.4h-4.4zM522.5 203.8h4.4v4.4h-4.4zM541.2 204.4h4.4v4.4h-4.4zM514.8 204.9h4.4v4.4h-4.4zM512.1 205.5h4.4v4.4h-4.4zM515.9 205.0h4.4v4.4h-4.4zM523.3 206.2h4.4v4.4h-4.4zM534.0 206.0h4.4v4.4h-4.4zM526.1 206.7h4.4v4.4h-4.4zM556.4 206.8h4.4v4.4h-4.4zM522.7 207.8h4.4v4.4h-4.4zM513.5 207.0h4.4v4.4h-4.4zM492.8 208.2h4.4v4.4h-4.4zM560.5 208.6h4.4v4.4h-4.4zM568.0 208.0h4.4v4.4h-4.4zM546.5 209.0h4.4v4.4h-4.4zM526.9 208.9h4.4v4.4h-4.4zM522.1 210.4h4.4v4.4h-4.4zM581.8 210.7h4.4v4.4h-4.4zM566.0 211.7h4.4v4.4h-4.4zM543.2 211.7h4.4v4.4h-4.4zM516.0 211.2h4.4v4.4h-4.4zM546.6 212.0h4.4v4.4h-4.4zM507.7 212.1h4.4v4.4h-4.4zM541.1 213.0h4.4v4.4h-4.4zM525.4 213.2h4.4v4.4h-4.4zM568.7 214.7h4.4v4.4h-4.4zM573.6 214.8h4.4v4.4h-4.4zM527.3 215.6h4.4v4.4h-4.4zM583.5 215.5h4.4v4.4h-4.4zM491.0 216.2h4.4v4.4h-4.4zM513.5 217.5h4.4v4.4h-4.4zM545.6 217.6h4.4v4.4h-4.4zM506.3 218.0h4.4v4.4h-4.4zM544.3 218.9h4.4v4.4h-4.4zM506.4 220.7h4.4v4.4h-4.4zM564.0 221.0h4.4v4.4h-4.4zM515.3 222.7h4.4v4.4h-4.4zM566.4 222.9h4.4v4.4h-4.4zM522.6 224.4h4.4v4.4h-4.4zM576.4 224.7h4.4v4.4h-4.4zM567.6 225.4h4.4v4.4h-4.4zM568.5 226.2h4.4v4.4h-4.4zM532.7 227.0h4.4v4.4h-4.4zM555.5 228.7h4.4v4.4h-4.4zM547.2 228.0h4.4v4.4h-4.4zM608.4 229.7h4.4v4.4h-4.4zM526.9 230.4h4.4v4.4h-4.4zM512.0 231.4h4.4v4.4h-4.4zM530.4 231.8h4.4v4.4h-4.4zM547.3 233.1h4.4v4.4h-4.4zM577.8 234.0h4.4v4.4h-4.4zM534.4 235.4h4.4v4.4h-4.4zM551.5 235.7h4.4v4.4h-4.4zM545.9 236.3h4.4v4.4h-4.4zM539.7 237.0h4.4v4.4h-4.4zM589.3 237.9h4.4v4.4h-4.4zM554.7 239.5h4.4v4.4h-4.4zM539.6 240.6h4.4v4.4h-4.4zM497.9 241.5h4.4v4.4h-4.4zM543.9 241.8h4.4v4.4h-4.4zM620.6 243.2h4.4v4.4h-4.4zM541.1 244.3h4.4v4.4h-4.4zM539.1 245.3h4.4v4.4h-4.4zM580.3 246.6h4.4v4.4h-4.4zM541.3 246.9h4.4v4.4h-4.4zM571.2 248.0h4.4v4.4h-4.4zM533.1 248.5h4.4v4.4h-4.4zM569.2 248.9h4.4v4.4h-4.4zM547.7 250.5h4.4v4.4h-4.4zM493.6 251.3h4.4v4.4h-4.4zM598.8 252.8h4.4v4.4h-4.4zM580.0 253.0h4.4v4.4h-4.4zM539.4 254.2h4.4v4.4h-4.4zM478.6 255.5h4.4v4.4h-4.4zM555.5 254.9h4.4v4.4h-4.4zM541.7 256.5h4.4v4.4h-4.4zM523.5 257.2h4.4v4.4h-4.4zM551.1 258.0h4.4v4.4h-4.4zM585.0 258.9h4.4v4.4h-4.4zM540.5 260.8h4.4v4.4h-4.4zM586.4 261.3h4.4v4.4h-4.4zM586.8 261.3h4.4v4.4h-4.4zM522.1 261.9h4.4v4.4h-4.4zM564.2 262.3h4.4v4.4h-4.4zM561.1 263.2h4.4v4.4h-4.4zM533.0 263.6h4.4v4.4h-4.4zM618.0 264.7h4.4v4.4h-4.4zM550.6 263.9h4.4v4.4h-4.4zM610.0 264.8h4.4v4.4h-4.4zM544.2 265.1h4.4v4.4h-4.4zM530.1 266.8h4.4v4.4h-4.4zM563.9 266.3h4.4v4.4h-4.4zM557.5 267.1h4.4v4.4h-4.4zM606.1 267.7h4.4v4.4h-4.4zM551.1 268.6h4.4v4.4h-4.4zM532.6 268.5h4.4v4.4h-4.4zM572.4 268.1h4.4v4.4h-4.4zM580.6 269.8h4.4v4.4h-4.4zM582.5 269.3h4.4v4.4h-4.4zM524.6 270.1h4.4v4.4h-4.4zM532.2 269.9h4.4v4.4h-4.4zM563.8 271.3h4.4v4.4h-4.4zM585.5 271.3h4.4v4.4h-4.4zM524.8 272.3h4.4v4.4h-4.4zM536.7 272.0h4.4v4.4h-4.4zM530.4 272.0h4.4v4.4h-4.4zM616.3 273.7h4.4v4.4h-4.4zM527.2 273.0h4.4v4.4h-4.4zM596.9 274.5h4.4v4.4h-4.4zM565.1 274.2h4.4v4.4h-4.4zM569.3 275.4h4.4v4.4h-4.4zM537.0 275.6h4.4v4.4h-4.4zM570.2 276.3h4.4v4.4h-4.4zM583.9 276.4h4.4v4.4h-4.4zM568.7 276.4h4.4v4.4h-4.4zM586.1 277.3h4.4v4.4h-4.4zM569.6 277.0h4.4v4.4h-4.4zM530.5 277.8h4.4v4.4h-4.4zM549.3 277.9h4.4v4.4h-4.4zM582.0 278.2h4.4v4.4h-4.4zM548.2 278.6h4.4v4.4h-4.4zM570.4 279.5h4.4v4.4h-4.4zM558.5 279.5h4.4v4.4h-4.4zM565.5 279.2h4.4v4.4h-4.4zM548.7 279.4h4.4v4.4h-4.4zM590.9 279.9h4.4v4.4h-4.4zM642.6 280.1h4.4v4.4h-4.4zM532.8 280.5h4.4v4.4h-4.4zM533.6 281.5h4.4v4.4h-4.4zM641.8 281.7h4.4v4.4h-4.4zM506.7 281.6h4.4v4.4h-4.4zM612.1 281.2h4.4v4.4h-4.4zM627.0 282.4h4.4v4.4h-4.4zM574.9 282.2h4.4v4.4h-4.4zM551.7 281.9h4.4v4.4h-4.4zM489.4 282.9h4.4v4.4h-4.4zM501.5 283.0h4.4v4.4h-4.4zM574.7 283.5h4.4v4.4h-4.4zM591.0 283.4h4.4v4.4h-4.4zM607.5 283.9h4.4v4.4h-4.4zM570.7 284.7h4.4v4.4h-4.4zM579.1 284.6h4.4v4.4h-4.4zM579.5 284.2h4.4v4.4h-4.4zM531.5 285.3h4.4v4.4h-4.4zM531.6 285.3h4.4v4.4h-4.4zM557.2 285.3h4.4v4.4h-4.4zM587.9 285.2h4.4v4.4h-4.4zM562.3 286.6h4.4v4.4h-4.4zM530.1 286.5h4.4v4.4h-4.4zM584.6 286.1h4.4v4.4h-4.4zM511.2 286.1h4.4v4.4h-4.4zM523.7 287.2h4.4v4.4h-4.4zM597.0 286.9h4.4v4.4h-4.4zM590.7 286.8h4.4v4.4h-4.4zM540.0 287.1h4.4v4.4h-4.4zM545.2 288.0h4.4v4.4h-4.4zM599.1 288.4h4.4v4.4h-4.4zM542.6 288.5h4.4v4.4h-4.4zM631.8 287.9h4.4v4.4h-4.4zM584.0 289.6h4.4v4.4h-4.4zM586.4 289.7h4.4v4.4h-4.4zM605.7 289.6h4.4v4.4h-4.4zM600.3 289.0h4.4v4.4h-4.4zM545.4 289.8h4.4v4.4h-4.4zM546.4 290.1h4.4v4.4h-4.4zM551.9 290.1h4.4v4.4h-4.4zM589.7 289.9h4.4v4.4h-4.4zM527.5 290.1h4.4v4.4h-4.4zM554.0 291.7h4.4v4.4h-4.4zM530.6 291.0h4.4v4.4h-4.4zM577.8 291.5h4.4v4.4h-4.4zM586.5 291.3h4.4v4.4h-4.4zM547.9 291.6h4.4v4.4h-4.4zM541.2 291.9h4.4v4.4h-4.4zM610.4 291.9h4.4v4.4h-4.4zM602.3 291.8h4.4v4.4h-4.4zM565.0 292.3h4.4v4.4h-4.4zM575.0 293.2h4.4v4.4h-4.4zM553.1 293.7h4.4v4.4h-4.4zM563.5 293.1h4.4v4.4h-4.4zM549.7 293.3h4.4v4.4h-4.4zM520.7 293.5h4.4v4.4h-4.4zM610.7 294.5h4.4v4.4h-4.4zM533.0 294.5h4.4v4.4h-4.4zM630.2 294.6h4.4v4.4h-4.4zM572.2 294.0h4.4v4.4h-4.4zM562.4 294.3h4.4v4.4h-4.4zM573.4 295.4h4.4v4.4h-4.4zM593.4 295.2h4.4v4.4h-4.4zM568.7 295.0h4.4v4.4h-4.4zM535.8 295.7h4.4v4.4h-4.4zM576.5 296.4h4.4v4.4h-4.4zM586.4 295.8h4.4v4.4h-4.4zM543.7 296.4h4.4v4.4h-4.4zM588.3 296.8h4.4v4.4h-4.4zM641.7 296.7h4.4v4.4h-4.4zM559.6 296.9h4.4v4.4h-4.4zM560.4 297.0h4.4v4.4h-4.4zM573.8 297.6h4.4v4.4h-4.4zM587.5 297.0h4.4v4.4h-4.4zM578.1 297.0h4.4v4.4h-4.4zM551.3 298.1h4.4v4.4h-4.4zM594.6 298.2h4.4v4.4h-4.4zM539.4 298.2h4.4v4.4h-4.4zM612.3 298.0h4.4v4.4h-4.4zM556.8 297.9h4.4v4.4h-4.4zM584.3 298.8h4.4v4.4h-4.4zM562.8 299.3h4.4v4.4h-4.4zM603.2 299.0h4.4v4.4h-4.4zM616.3 298.9h4.4v4.4h-4.4zM594.2 298.8h4.4v4.4h-4.4zM571.3 300.0h4.4v4.4h-4.4zM607.9 300.7h4.4v4.4h-4.4zM571.3 299.9h4.4v4.4h-4.4zM627.9 300.5h4.4v4.4h-4.4zM616.9 300.1h4.4v4.4h-4.4zM585.0 301.4h4.4v4.4h-4.4zM513.9 301.0h4.4v4.4h-4.4zM575.9 301.0h4.4v4.4h-4.4zM585.5 301.2h4.4v4.4h-4.4zM561.1 302.2h4.4v4.4h-4.4zM580.6 301.9h4.4v4.4h-4.4zM549.5 301.9h4.4v4.4h-4.4zM615.0 302.8h4.4v4.4h-4.4zM561.6 302.6h4.4v4.4h-4.4zM567.3 303.2h4.4v4.4h-4.4zM493.7 303.6h4.4v4.4h-4.4zM562.1 303.8h4.4v4.4h-4.4zM551.5 303.2h4.4v4.4h-4.4zM595.7 303.8h4.4v4.4h-4.4zM536.1 304.0h4.4v4.4h-4.4zM577.8 304.0h4.4v4.4h-4.4zM608.5 304.3h4.4v4.4h-4.4zM584.5 304.3h4.4v4.4h-4.4zM558.4 305.4h4.4v4.4h-4.4zM578.1 305.1h4.4v4.4h-4.4zM553.5 305.1h4.4v4.4h-4.4zM555.5 305.7h4.4v4.4h-4.4zM536.9 306.0h4.4v4.4h-4.4zM565.4 305.9h4.4v4.4h-4.4zM599.5 305.9h4.4v4.4h-4.4zM558.9 305.9h4.4v4.4h-4.4zM511.2 307.3h4.4v4.4h-4.4zM560.9 307.8h4.4v4.4h-4.4zM537.1 307.5h4.4v4.4h-4.4zM540.8 307.5h4.4v4.4h-4.4zM573.2 306.9h4.4v4.4h-4.4zM538.2 308.2h4.4v4.4h-4.4zM582.3 308.6h4.4v4.4h-4.4zM570.2 308.1h4.4v4.4h-4.4zM553.8 308.3h4.4v4.4h-4.4zM623.0 309.2h4.4v4.4h-4.4zM557.8 309.6h4.4v4.4h-4.4zM523.5 309.8h4.4v4.4h-4.4zM516.5 309.4h4.4v4.4h-4.4zM573.6 309.8h4.4v4.4h-4.4zM553.4 310.7h4.4v4.4h-4.4zM616.9 309.9h4.4v4.4h-4.4zM518.7 310.3h4.4v4.4h-4.4zM570.7 311.0h4.4v4.4h-4.4zM601.1 311.2h4.4v4.4h-4.4zM576.8 311.4h4.4v4.4h-4.4zM587.2 310.8h4.4v4.4h-4.4zM609.1 312.0h4.4v4.4h-4.4zM601.0 312.3h4.4v4.4h-4.4zM525.2 312.3h4.4v4.4h-4.4zM551.9 312.4h4.4v4.4h-4.4zM593.9 313.2h4.4v4.4h-4.4zM589.9 313.2h4.4v4.4h-4.4zM552.5 313.8h4.4v4.4h-4.4zM629.9 314.5h4.4v4.4h-4.4zM551.5 314.0h4.4v4.4h-4.4zM572.3 315.3h4.4v4.4h-4.4zM603.7 315.6h4.4v4.4h-4.4zM551.4 316.6h4.4v4.4h-4.4zM541.9 316.2h4.4v4.4h-4.4zM542.0 317.2h4.4v4.4h-4.4zM563.1 316.8h4.4v4.4h-4.4zM612.5 318.8h4.4v4.4h-4.4z" fill="#add8e6"/>
<path d="M455.6 70.5H531.5M492.5 62.0V130.0M446.9 99.5H537.4M493.5 72.0V130.0M454.5 129.5H538.5M492.5 100.0V160.0M466.6 144.5H538.5M495.5 120.0V170.0M464.7 155.5H542.1M495.5 130.0V180.0M466.6 164.5H544.0M497.5 140.0V190.0M466.6 173.5H543.2M499.5 150.0V200.0M468.0 185.5H544.7M503.5 160.0V210.0M476.4 200.5H557.8M511.5 186.6V219.5M480.6 243.5H586.5M526.5 205.0V298.5M508.0 287.5H601.0M548.5 239.4V316.0M530.6 310.5H619.3M572.5 304.0V320.4M470.2 113.5H633.4M522.5 40.0V299.0" stroke="#2a2a2a" stroke-width="0.9" fill="none" opacity="0.9"/>
<path d="M428.9 41.1h3.7v3.7h-3.7zM503.9 33.9h3.7v3.7h-3.7zM510.6 37.6h3.7v3.7h-3.7zM506.3 39.6h3.7v3.7h-3.7zM499.0 44.0h3.7v3.7h-3.7zM501.3 46.9h3.7v3.7h-3.7zM513.6 48.4h3.7v3.7h-3.7zM526.8 43.4h3.7v3.7h-3.7zM529.6 44.0h3.7v3.7h-3.7zM536.4 51.4h3.7v3.7h-3.7zM539.9 49.2h3.7v3.7h-3.7zM549.2 52.8h3.7v3.7h-3.7zM550.9 57.8h3.7v3.7h-3.7zM556.9 52.1h3.7v3.7h-3.7zM581.4 47.9h3.7v3.7h-3.7zM510.1 60.9h3.7v3.7h-3.7zM514.4 59.1h3.7v3.7h-3.7zM499.0 55.1h3.7v3.7h-3.7zM501.9 58.6h3.7v3.7h-3.7zM493.1 60.6h3.7v3.7h-3.7zM466.3 37.6h3.7v3.7h-3.7zM468.9 41.1h3.7v3.7h-3.7zM488.8 117.1h3.7v3.7h-3.7zM623.6 56.6h3.7v3.7h-3.7zM636.1 53.1h3.7v3.7h-3.7zM653.6 54.1h3.7v3.7h-3.7zM544.6 112.6h3.7v3.7h-3.7zM489.1 118.4h3.7v3.7h-3.7zM525.6 126.3h3.7v3.7h-3.7zM548.6 134.5h3.7v3.7h-3.7zM506.3 140.0h3.7v3.7h-3.7zM520.9 140.2h3.7v3.7h-3.7zM524.5 144.0h3.7v3.7h-3.7zM481.5 152.3h3.7v3.7h-3.7zM484.4 155.6h3.7v3.7h-3.7zM519.1 156.7h3.7v3.7h-3.7zM529.6 158.6h3.7v3.7h-3.7zM551.9 156.7h3.7v3.7h-3.7zM534.8 170.6h3.7v3.7h-3.7zM578.5 163.7h3.7v3.7h-3.7zM573.9 167.7h3.7v3.7h-3.7zM530.4 183.3h3.7v3.7h-3.7zM521.2 206.0h3.7v3.7h-3.7zM527.1 250.0h3.7v3.7h-3.7zM552.9 257.6h3.7v3.7h-3.7zM548.4 273.3h3.7v3.7h-3.7zM537.9 291.1h3.7v3.7h-3.7zM598.1 296.6h3.7v3.7h-3.7zM598.1 303.1h3.7v3.7h-3.7zM622.9 295.9h3.7v3.7h-3.7zM638.6 277.3h3.7v3.7h-3.7zM632.4 311.1h3.7v3.7h-3.7z" fill="#f6b540" stroke="#3a3020" stroke-width="0.55"/>
<path d="M443.2 33.5H492.3M465.5 25.4V40.0" stroke="#2a2a2a" stroke-width="0.9" fill="none" opacity="0.9"/>
<rect x="462.5" y="30.0" width="6.6" height="6.6" fill="#ffffff" stroke="#000" stroke-width="1.3"/>
<path d="M447.9 38.5H516.8M473.5 30.0V46.0" stroke="#2a2a2a" stroke-width="0.9" fill="none" opacity="0.9"/>
<rect x="470.4" y="35.3" width="6.6" height="6.6" fill="#ffffff" stroke="#000" stroke-width="1.3"/>
<polygon points="473.0,36.0 478.0,36.5 486.0,47.0 489.0,56.0 486.0,58.0 481.0,52.0 476.0,44.0" fill="#0a0a0a"/>
<path d="M448.0 40.5H517.0M476.5 32.0V48.0" stroke="#2a2a2a" stroke-width="0.9" fill="none" opacity="0.9"/>
<rect x="472.7" y="37.3" width="6.6" height="6.6" fill="#ffffff" stroke="#000" stroke-width="1.3"/>
<path d="M448.0 43.5H518.0M478.5 34.0V50.0" stroke="#2a2a2a" stroke-width="0.9" fill="none" opacity="0.9"/>
<rect x="474.8" y="39.7" width="6.6" height="6.6" fill="#ffffff" stroke="#000" stroke-width="1.3"/>
<path d="M448.0 45.5H519.0M479.5 37.0V53.0" stroke="#2a2a2a" stroke-width="0.9" fill="none" opacity="0.9"/>
<rect x="476.5" y="42.6" width="6.6" height="6.6" fill="#ffffff" stroke="#000" stroke-width="1.3"/>
<path d="M449.0 48.5H520.0M481.5 40.0V56.0" stroke="#2a2a2a" stroke-width="0.9" fill="none" opacity="0.9"/>
<rect x="478.6" y="45.5" width="6.6" height="6.6" fill="#ffffff" stroke="#000" stroke-width="1.3"/>
<path d="M449.0 51.5H521.0M483.5 43.0V59.0" stroke="#2a2a2a" stroke-width="0.9" fill="none" opacity="0.9"/>
<rect x="480.1" y="48.4" width="6.6" height="6.6" fill="#ffffff" stroke="#000" stroke-width="1.3"/>
<path d="M450.0 54.5H522.0M484.5 46.0V62.0" stroke="#2a2a2a" stroke-width="0.9" fill="none" opacity="0.9"/>
<rect x="481.5" y="51.3" width="6.6" height="6.6" fill="#ffffff" stroke="#000" stroke-width="1.3"/>
<path d="M450.0 57.5H523.0M486.5 49.0V65.0" stroke="#2a2a2a" stroke-width="0.9" fill="none" opacity="0.9"/>
<rect x="483.0" y="54.3" width="6.6" height="6.6" fill="#ffffff" stroke="#000" stroke-width="1.3"/>
<path d="M451.0 60.5H524.0M489.5 52.0V68.0" stroke="#2a2a2a" stroke-width="0.9" fill="none" opacity="0.9"/>
<rect x="485.9" y="57.2" width="6.6" height="6.6" fill="#ffffff" stroke="#000" stroke-width="1.3"/>
<rect x="488.8" y="67.4" width="6.6" height="6.6" fill="#ffffff" stroke="#000" stroke-width="1.3"/>
<rect x="490.3" y="96.0" width="6.6" height="6.6" fill="#ffffff" stroke="#000" stroke-width="1.3"/>
<rect x="489.5" y="125.7" width="6.6" height="6.6" fill="#ffffff" stroke="#000" stroke-width="1.3"/>
<rect x="492.5" y="141.4" width="6.6" height="6.6" fill="#ffffff" stroke="#000" stroke-width="1.3"/>
<rect x="492.1" y="152.3" width="6.6" height="6.6" fill="#ffffff" stroke="#000" stroke-width="1.3"/>
<rect x="494.3" y="161.4" width="6.6" height="6.6" fill="#ffffff" stroke="#000" stroke-width="1.3"/>
<rect x="496.5" y="170.6" width="6.6" height="6.6" fill="#ffffff" stroke="#000" stroke-width="1.3"/>
<rect x="500.5" y="181.9" width="6.6" height="6.6" fill="#ffffff" stroke="#000" stroke-width="1.3"/>
<rect x="507.8" y="196.8" width="6.6" height="6.6" fill="#ffffff" stroke="#000" stroke-width="1.3"/>
<rect x="523.3" y="240.5" width="6.6" height="6.6" fill="#ffffff" stroke="#000" stroke-width="1.3"/>
<rect x="544.8" y="284.3" width="6.6" height="6.6" fill="#ffffff" stroke="#000" stroke-width="1.3"/>
<rect x="569.3" y="306.9" width="6.6" height="6.6" fill="#ffffff" stroke="#000" stroke-width="1.3"/>
<rect x="519.5" y="110.6" width="6.6" height="6.6" fill="#ffff00" stroke="#000" stroke-width="1.3"/>
</g>
<clipPath id="clip-c"><rect x="36.00" y="438.20" width="297.5" height="393.5"/></clipPath>
<g clip-path="url(#clip-c)">
<path d="M96.0 462.4h4.4v4.4h-4.4zM84.5 479.1h4.4v4.4h-4.4zM104.7 479.1h4.4v4.4h-4.4zM130.1 475.9h4.4v4.4h-4.4zM136.8 476.9h4.4v4.4h-4.4zM95.1 486.2h4.4v4.4h-4.4zM99.9 491.0h4.4v4.4h-4.4zM111.8 484.9h4.4v4.4h-4.4zM118.2 486.2h4.4v4.4h-4.4zM121.1 490.1h4.4v4.4h-4.4zM118.2 492.6h4.4v4.4h-4.4zM135.8 492.6h4.4v4.4h-4.4zM146.4 489.1h4.4v4.4h-4.4zM162.8 491.0h4.4v4.4h-4.4zM206.2 490.1h4.4v4.4h-4.4zM82.8 495.5h4.4v4.4h-4.4zM96.3 503.2h4.4v4.4h-4.4zM97.6 509.3h4.4v4.4h-4.4zM117.8 507.4h4.4v4.4h-4.4zM127.8 506.1h4.4v4.4h-4.4zM133.9 507.4h4.4v4.4h-4.4zM131.7 511.6h4.4v4.4h-4.4zM147.7 501.3h4.4v4.4h-4.4zM175.0 498.7h4.4v4.4h-4.4zM116.9 514.8h4.4v4.4h-4.4zM158.3 517.0h4.4v4.4h-4.4zM179.2 515.8h4.4v4.4h-4.4zM198.1 511.9h4.4v4.4h-4.4zM86.1 521.8h4.4v4.4h-4.4zM105.3 524.1h4.4v4.4h-4.4zM111.4 522.8h4.4v4.4h-4.4zM114.3 526.0h4.4v4.4h-4.4zM111.1 527.3h4.4v4.4h-4.4zM117.2 529.9h4.4v4.4h-4.4zM126.2 527.9h4.4v4.4h-4.4zM132.9 526.7h4.4v4.4h-4.4zM138.1 522.8h4.4v4.4h-4.4zM143.9 526.3h4.4v4.4h-4.4zM153.2 527.9h4.4v4.4h-4.4zM157.4 523.4h4.4v4.4h-4.4zM173.4 529.2h4.4v4.4h-4.4zM181.8 530.8h4.4v4.4h-4.4zM201.3 531.5h4.4v4.4h-4.4zM208.4 526.3h4.4v4.4h-4.4zM82.8 529.2h4.4v4.4h-4.4zM84.1 532.4h4.4v4.4h-4.4zM102.1 535.3h4.4v4.4h-4.4zM118.8 536.9h4.4v4.4h-4.4zM136.2 535.7h4.4v4.4h-4.4zM143.2 537.9h4.4v4.4h-4.4zM160.9 538.9h4.4v4.4h-4.4zM101.8 542.1h4.4v4.4h-4.4zM121.4 545.3h4.4v4.4h-4.4zM130.7 543.0h4.4v4.4h-4.4zM139.7 548.5h4.4v4.4h-4.4zM99.5 549.8h4.4v4.4h-4.4zM108.5 548.5h4.4v4.4h-4.4zM138.1 551.7h4.4v4.4h-4.4zM168.6 546.9h4.4v4.4h-4.4zM176.0 548.8h4.4v4.4h-4.4zM189.1 550.4h4.4v4.4h-4.4zM205.8 546.9h4.4v4.4h-4.4zM204.2 553.3h4.4v4.4h-4.4zM215.8 550.7h4.4v4.4h-4.4zM227.7 544.3h4.4v4.4h-4.4zM235.1 544.0h4.4v4.4h-4.4zM95.1 557.2h4.4v4.4h-4.4zM89.3 562.6h4.4v4.4h-4.4zM119.8 565.2h4.4v4.4h-4.4zM126.2 567.8h4.4v4.4h-4.4zM132.3 563.6h4.4v4.4h-4.4zM136.2 558.8h4.4v4.4h-4.4zM159.0 563.6h4.4v4.4h-4.4zM167.3 565.8h4.4v4.4h-4.4zM183.0 560.4h4.4v4.4h-4.4zM184.3 564.6h4.4v4.4h-4.4zM183.0 567.4h4.4v4.4h-4.4zM218.4 559.4h4.4v4.4h-4.4zM238.3 562.3h4.4v4.4h-4.4zM251.1 574.2h4.4v4.4h-4.4zM199.1 570.0h4.4v4.4h-4.4zM188.2 575.5h4.4v4.4h-4.4zM158.3 571.6h4.4v4.4h-4.4zM134.9 571.6h4.4v4.4h-4.4zM122.0 570.7h4.4v4.4h-4.4zM127.8 574.8h4.4v4.4h-4.4zM110.8 578.0h4.4v4.4h-4.4zM142.8 660.8h4.4v4.4h-4.4zM172.8 670.8h4.4v4.4h-4.4zM247.8 689.8h4.4v4.4h-4.4zM250.8 574.8h4.4v4.4h-4.4zM157.3 572.5h4.4v4.4h-4.4zM171.9 572.0h4.4v4.4h-4.4zM139.3 572.7h4.4v4.4h-4.4zM133.0 573.3h4.4v4.4h-4.4zM154.0 572.9h4.4v4.4h-4.4zM160.6 573.4h4.4v4.4h-4.4zM176.3 574.4h4.4v4.4h-4.4zM114.9 573.9h4.4v4.4h-4.4zM144.4 574.1h4.4v4.4h-4.4zM179.9 574.7h4.4v4.4h-4.4zM150.9 574.0h4.4v4.4h-4.4zM151.9 575.0h4.4v4.4h-4.4zM184.3 575.6h4.4v4.4h-4.4zM170.0 574.8h4.4v4.4h-4.4zM159.1 575.7h4.4v4.4h-4.4zM187.9 575.0h4.4v4.4h-4.4zM143.5 575.9h4.4v4.4h-4.4zM163.3 576.3h4.4v4.4h-4.4zM121.0 576.1h4.4v4.4h-4.4zM172.9 576.2h4.4v4.4h-4.4zM128.9 576.3h4.4v4.4h-4.4zM124.0 576.8h4.4v4.4h-4.4zM128.3 576.8h4.4v4.4h-4.4zM203.2 577.8h4.4v4.4h-4.4zM158.4 577.1h4.4v4.4h-4.4zM156.0 577.4h4.4v4.4h-4.4zM159.8 577.4h4.4v4.4h-4.4zM127.0 577.5h4.4v4.4h-4.4zM200.6 577.5h4.4v4.4h-4.4zM146.5 578.2h4.4v4.4h-4.4zM110.7 577.8h4.4v4.4h-4.4zM193.8 578.5h4.4v4.4h-4.4zM180.4 578.5h4.4v4.4h-4.4zM170.2 578.3h4.4v4.4h-4.4zM126.7 578.0h4.4v4.4h-4.4zM152.0 578.6h4.4v4.4h-4.4zM202.4 579.5h4.4v4.4h-4.4zM197.9 579.7h4.4v4.4h-4.4zM184.0 579.4h4.4v4.4h-4.4zM185.7 579.7h4.4v4.4h-4.4zM171.1 579.7h4.4v4.4h-4.4zM182.0 579.0h4.4v4.4h-4.4zM135.3 579.2h4.4v4.4h-4.4zM162.5 578.9h4.4v4.4h-4.4zM203.8 580.3h4.4v4.4h-4.4zM108.9 580.4h4.4v4.4h-4.4zM175.6 580.1h4.4v4.4h-4.4zM157.5 579.9h4.4v4.4h-4.4zM152.7 580.0h4.4v4.4h-4.4zM204.7 580.5h4.4v4.4h-4.4zM234.5 580.1h4.4v4.4h-4.4zM141.4 580.7h4.4v4.4h-4.4zM194.4 580.0h4.4v4.4h-4.4zM192.0 581.3h4.4v4.4h-4.4zM152.1 581.3h4.4v4.4h-4.4zM149.0 581.4h4.4v4.4h-4.4zM150.4 581.1h4.4v4.4h-4.4zM201.0 581.3h4.4v4.4h-4.4zM184.4 581.3h4.4v4.4h-4.4zM162.8 581.5h4.4v4.4h-4.4zM155.9 581.0h4.4v4.4h-4.4zM175.3 581.2h4.4v4.4h-4.4zM178.7 582.0h4.4v4.4h-4.4zM141.9 582.6h4.4v4.4h-4.4zM143.3 582.1h4.4v4.4h-4.4zM204.7 582.3h4.4v4.4h-4.4zM135.5 581.9h4.4v4.4h-4.4zM140.0 582.5h4.4v4.4h-4.4zM221.6 582.7h4.4v4.4h-4.4zM141.5 581.8h4.4v4.4h-4.4zM183.0 581.9h4.4v4.4h-4.4zM176.6 582.8h4.4v4.4h-4.4zM189.5 582.0h4.4v4.4h-4.4zM125.3 583.6h4.4v4.4h-4.4zM182.6 583.7h4.4v4.4h-4.4zM137.8 583.2h4.4v4.4h-4.4zM158.8 583.0h4.4v4.4h-4.4zM189.1 583.5h4.4v4.4h-4.4zM171.3 583.4h4.4v4.4h-4.4zM109.1 583.0h4.4v4.4h-4.4zM187.4 583.7h4.4v4.4h-4.4zM210.8 583.4h4.4v4.4h-4.4zM152.8 583.3h4.4v4.4h-4.4zM182.3 583.1h4.4v4.4h-4.4zM150.8 584.0h4.4v4.4h-4.4zM131.3 584.7h4.4v4.4h-4.4zM192.0 584.0h4.4v4.4h-4.4zM171.2 584.3h4.4v4.4h-4.4zM221.1 584.8h4.4v4.4h-4.4zM147.8 584.4h4.4v4.4h-4.4zM208.3 584.6h4.4v4.4h-4.4zM160.3 584.0h4.4v4.4h-4.4zM172.9 583.9h4.4v4.4h-4.4zM207.1 583.9h4.4v4.4h-4.4zM173.1 583.9h4.4v4.4h-4.4zM139.3 584.5h4.4v4.4h-4.4zM156.4 585.2h4.4v4.4h-4.4zM181.6 585.1h4.4v4.4h-4.4zM125.4 585.6h4.4v4.4h-4.4zM170.8 585.2h4.4v4.4h-4.4zM144.7 585.3h4.4v4.4h-4.4zM184.0 585.3h4.4v4.4h-4.4zM148.4 585.8h4.4v4.4h-4.4zM148.5 585.6h4.4v4.4h-4.4zM180.4 585.7h4.4v4.4h-4.4zM170.4 585.3h4.4v4.4h-4.4zM167.4 585.3h4.4v4.4h-4.4zM225.4 586.1h4.4v4.4h-4.4zM176.8 586.8h4.4v4.4h-4.4zM181.2 586.7h4.4v4.4h-4.4zM194.0 586.1h4.4v4.4h-4.4zM128.7 586.3h4.4v4.4h-4.4zM151.5 586.1h4.4v4.4h-4.4zM154.7 586.2h4.4v4.4h-4.4zM181.6 586.5h4.4v4.4h-4.4zM145.1 585.9h4.4v4.4h-4.4zM187.9 585.8h4.4v4.4h-4.4zM134.2 585.8h4.4v4.4h-4.4zM160.6 586.0h4.4v4.4h-4.4zM173.9 587.4h4.4v4.4h-4.4zM139.5 587.6h4.4v4.4h-4.4zM209.8 586.8h4.4v4.4h-4.4zM177.5 587.0h4.4v4.4h-4.4zM140.6 587.2h4.4v4.4h-4.4zM87.0 587.5h4.4v4.4h-4.4zM158.9 587.5h4.4v4.4h-4.4zM126.9 587.6h4.4v4.4h-4.4zM145.1 587.7h4.4v4.4h-4.4zM173.2 587.7h4.4v4.4h-4.4zM128.9 587.8h4.4v4.4h-4.4zM169.9 587.6h4.4v4.4h-4.4zM173.2 588.4h4.4v4.4h-4.4zM198.3 588.0h4.4v4.4h-4.4zM127.2 588.6h4.4v4.4h-4.4zM151.6 588.7h4.4v4.4h-4.4zM124.5 588.6h4.4v4.4h-4.4zM147.5 588.8h4.4v4.4h-4.4zM128.7 588.7h4.4v4.4h-4.4zM199.6 588.6h4.4v4.4h-4.4zM107.0 588.1h4.4v4.4h-4.4zM163.5 588.0h4.4v4.4h-4.4zM211.4 588.7h4.4v4.4h-4.4zM231.5 588.4h4.4v4.4h-4.4zM175.8 589.0h4.4v4.4h-4.4zM142.5 589.1h4.4v4.4h-4.4zM127.5 589.6h4.4v4.4h-4.4zM166.1 589.5h4.4v4.4h-4.4zM154.4 589.0h4.4v4.4h-4.4zM152.5 589.8h4.4v4.4h-4.4zM156.1 589.2h4.4v4.4h-4.4zM167.2 589.5h4.4v4.4h-4.4zM153.8 589.0h4.4v4.4h-4.4zM193.5 589.4h4.4v4.4h-4.4zM150.5 589.5h4.4v4.4h-4.4zM144.6 589.5h4.4v4.4h-4.4zM125.2 589.8h4.4v4.4h-4.4zM156.3 590.8h4.4v4.4h-4.4zM204.8 589.9h4.4v4.4h-4.4zM155.7 590.4h4.4v4.4h-4.4zM164.1 590.3h4.4v4.4h-4.4zM145.4 589.9h4.4v4.4h-4.4zM152.9 590.3h4.4v4.4h-4.4zM149.4 590.7h4.4v4.4h-4.4zM161.8 590.8h4.4v4.4h-4.4zM147.2 590.2h4.4v4.4h-4.4zM185.7 590.3h4.4v4.4h-4.4zM155.8 590.5h4.4v4.4h-4.4zM172.8 590.3h4.4v4.4h-4.4zM137.5 590.3h4.4v4.4h-4.4zM74.5 589.9h4.4v4.4h-4.4zM135.7 591.7h4.4v4.4h-4.4zM123.7 591.5h4.4v4.4h-4.4zM183.9 591.0h4.4v4.4h-4.4zM206.1 591.2h4.4v4.4h-4.4zM174.3 591.4h4.4v4.4h-4.4zM122.3 591.7h4.4v4.4h-4.4zM146.2 591.0h4.4v4.4h-4.4zM175.7 590.9h4.4v4.4h-4.4zM150.1 591.6h4.4v4.4h-4.4zM152.4 590.9h4.4v4.4h-4.4zM195.9 591.1h4.4v4.4h-4.4zM185.6 591.2h4.4v4.4h-4.4zM135.9 591.2h4.4v4.4h-4.4zM174.7 591.7h4.4v4.4h-4.4zM173.9 592.2h4.4v4.4h-4.4zM128.1 592.8h4.4v4.4h-4.4zM186.5 592.4h4.4v4.4h-4.4zM194.0 592.0h4.4v4.4h-4.4zM170.8 592.6h4.4v4.4h-4.4zM207.9 592.4h4.4v4.4h-4.4zM203.2 592.1h4.4v4.4h-4.4zM167.1 591.9h4.4v4.4h-4.4zM205.7 592.4h4.4v4.4h-4.4zM124.8 592.6h4.4v4.4h-4.4zM189.7 592.4h4.4v4.4h-4.4zM143.2 592.4h4.4v4.4h-4.4zM168.9 591.9h4.4v4.4h-4.4zM211.7 592.1h4.4v4.4h-4.4zM161.2 592.8h4.4v4.4h-4.4zM185.4 593.2h4.4v4.4h-4.4zM138.2 593.4h4.4v4.4h-4.4zM129.9 592.9h4.4v4.4h-4.4zM226.6 593.0h4.4v4.4h-4.4zM178.5 593.7h4.4v4.4h-4.4zM119.3 592.8h4.4v4.4h-4.4zM126.5 593.1h4.4v4.4h-4.4zM124.7 593.6h4.4v4.4h-4.4zM134.8 592.9h4.4v4.4h-4.4zM114.0 593.2h4.4v4.4h-4.4zM120.7 593.5h4.4v4.4h-4.4zM148.2 592.8h4.4v4.4h-4.4zM172.7 592.8h4.4v4.4h-4.4zM174.1 593.2h4.4v4.4h-4.4zM138.6 594.0h4.4v4.4h-4.4zM98.8 593.9h4.4v4.4h-4.4zM146.6 594.5h4.4v4.4h-4.4zM187.2 594.4h4.4v4.4h-4.4zM111.0 593.8h4.4v4.4h-4.4zM123.0 593.9h4.4v4.4h-4.4zM151.0 594.3h4.4v4.4h-4.4zM174.6 594.4h4.4v4.4h-4.4zM174.5 594.7h4.4v4.4h-4.4zM133.2 594.3h4.4v4.4h-4.4zM188.0 594.2h4.4v4.4h-4.4zM221.6 593.9h4.4v4.4h-4.4zM185.6 593.8h4.4v4.4h-4.4zM237.1 594.6h4.4v4.4h-4.4zM189.8 593.8h4.4v4.4h-4.4zM110.5 595.3h4.4v4.4h-4.4zM211.4 595.2h4.4v4.4h-4.4zM183.1 595.0h4.4v4.4h-4.4zM187.2 595.4h4.4v4.4h-4.4zM150.9 595.3h4.4v4.4h-4.4zM155.7 594.9h4.4v4.4h-4.4zM183.9 594.9h4.4v4.4h-4.4zM175.4 594.9h4.4v4.4h-4.4zM184.8 595.7h4.4v4.4h-4.4zM166.0 595.3h4.4v4.4h-4.4zM165.6 594.8h4.4v4.4h-4.4zM199.0 595.0h4.4v4.4h-4.4zM162.0 595.1h4.4v4.4h-4.4zM175.8 595.0h4.4v4.4h-4.4zM231.4 595.2h4.4v4.4h-4.4zM107.3 596.4h4.4v4.4h-4.4zM108.5 596.0h4.4v4.4h-4.4zM209.7 596.4h4.4v4.4h-4.4zM198.5 596.4h4.4v4.4h-4.4zM201.0 596.5h4.4v4.4h-4.4zM203.2 596.1h4.4v4.4h-4.4zM117.8 596.6h4.4v4.4h-4.4zM191.9 596.7h4.4v4.4h-4.4zM194.7 596.0h4.4v4.4h-4.4zM181.1 595.9h4.4v4.4h-4.4zM146.4 596.3h4.4v4.4h-4.4zM123.4 596.1h4.4v4.4h-4.4zM173.9 596.2h4.4v4.4h-4.4zM120.9 595.8h4.4v4.4h-4.4zM173.8 596.1h4.4v4.4h-4.4zM163.4 596.9h4.4v4.4h-4.4zM131.5 597.8h4.4v4.4h-4.4zM141.5 597.3h4.4v4.4h-4.4zM217.9 596.8h4.4v4.4h-4.4zM162.9 597.5h4.4v4.4h-4.4zM134.8 597.8h4.4v4.4h-4.4zM132.2 597.0h4.4v4.4h-4.4zM147.1 597.4h4.4v4.4h-4.4zM210.1 596.9h4.4v4.4h-4.4zM181.7 597.5h4.4v4.4h-4.4zM159.2 597.4h4.4v4.4h-4.4zM190.1 596.8h4.4v4.4h-4.4zM116.0 597.3h4.4v4.4h-4.4zM153.4 597.3h4.4v4.4h-4.4zM170.2 597.8h4.4v4.4h-4.4zM197.7 598.5h4.4v4.4h-4.4zM172.5 597.9h4.4v4.4h-4.4zM134.4 598.8h4.4v4.4h-4.4zM163.7 598.1h4.4v4.4h-4.4zM166.7 597.8h4.4v4.4h-4.4zM178.4 598.7h4.4v4.4h-4.4zM194.6 598.1h4.4v4.4h-4.4zM142.9 598.1h4.4v4.4h-4.4zM208.7 598.3h4.4v4.4h-4.4zM161.0 598.0h4.4v4.4h-4.4zM187.7 598.3h4.4v4.4h-4.4zM125.6 598.6h4.4v4.4h-4.4zM187.4 598.8h4.4v4.4h-4.4zM152.9 598.6h4.4v4.4h-4.4zM113.6 598.6h4.4v4.4h-4.4zM220.6 598.0h4.4v4.4h-4.4zM118.6 599.4h4.4v4.4h-4.4zM178.1 599.2h4.4v4.4h-4.4zM148.9 598.8h4.4v4.4h-4.4zM201.4 599.6h4.4v4.4h-4.4zM149.6 599.3h4.4v4.4h-4.4zM229.6 598.9h4.4v4.4h-4.4zM206.1 599.2h4.4v4.4h-4.4zM140.7 599.6h4.4v4.4h-4.4zM173.2 599.5h4.4v4.4h-4.4zM205.2 599.1h4.4v4.4h-4.4zM135.4 599.5h4.4v4.4h-4.4zM148.8 599.8h4.4v4.4h-4.4zM204.3 599.7h4.4v4.4h-4.4zM191.2 599.3h4.4v4.4h-4.4zM133.1 598.8h4.4v4.4h-4.4zM142.6 598.9h4.4v4.4h-4.4zM150.8 599.0h4.4v4.4h-4.4zM128.8 599.9h4.4v4.4h-4.4zM158.8 600.2h4.4v4.4h-4.4zM184.9 600.4h4.4v4.4h-4.4zM151.8 599.9h4.4v4.4h-4.4zM139.3 600.8h4.4v4.4h-4.4zM218.2 600.0h4.4v4.4h-4.4zM210.8 600.4h4.4v4.4h-4.4zM209.2 600.2h4.4v4.4h-4.4zM181.5 600.7h4.4v4.4h-4.4zM170.0 600.2h4.4v4.4h-4.4zM201.7 599.9h4.4v4.4h-4.4zM120.5 600.6h4.4v4.4h-4.4zM188.1 600.1h4.4v4.4h-4.4zM128.6 600.6h4.4v4.4h-4.4zM134.3 600.4h4.4v4.4h-4.4zM174.7 599.9h4.4v4.4h-4.4zM179.7 601.6h4.4v4.4h-4.4zM106.3 601.3h4.4v4.4h-4.4zM215.6 601.4h4.4v4.4h-4.4zM128.7 600.8h4.4v4.4h-4.4zM127.0 601.3h4.4v4.4h-4.4zM164.4 601.7h4.4v4.4h-4.4zM200.1 601.1h4.4v4.4h-4.4zM156.7 600.8h4.4v4.4h-4.4zM204.9 600.9h4.4v4.4h-4.4zM150.1 600.8h4.4v4.4h-4.4zM156.2 601.4h4.4v4.4h-4.4zM152.0 601.2h4.4v4.4h-4.4zM151.0 601.2h4.4v4.4h-4.4zM109.3 600.8h4.4v4.4h-4.4zM168.2 600.9h4.4v4.4h-4.4zM174.1 601.7h4.4v4.4h-4.4zM224.8 601.8h4.4v4.4h-4.4zM184.4 602.6h4.4v4.4h-4.4zM181.2 602.7h4.4v4.4h-4.4zM147.8 601.9h4.4v4.4h-4.4zM138.7 602.2h4.4v4.4h-4.4zM183.7 602.0h4.4v4.4h-4.4zM162.6 602.2h4.4v4.4h-4.4zM153.9 602.6h4.4v4.4h-4.4zM116.7 602.6h4.4v4.4h-4.4zM182.6 602.4h4.4v4.4h-4.4zM140.7 601.9h4.4v4.4h-4.4zM184.7 602.5h4.4v4.4h-4.4zM149.6 602.1h4.4v4.4h-4.4zM216.6 601.8h4.4v4.4h-4.4zM195.0 601.8h4.4v4.4h-4.4zM129.6 601.9h4.4v4.4h-4.4zM123.1 602.5h4.4v4.4h-4.4zM160.5 603.4h4.4v4.4h-4.4zM158.7 603.3h4.4v4.4h-4.4zM127.9 603.0h4.4v4.4h-4.4zM193.2 603.2h4.4v4.4h-4.4zM177.3 603.1h4.4v4.4h-4.4zM116.4 603.5h4.4v4.4h-4.4zM148.0 603.0h4.4v4.4h-4.4zM177.3 603.7h4.4v4.4h-4.4zM194.9 603.2h4.4v4.4h-4.4zM186.7 603.3h4.4v4.4h-4.4zM200.0 603.0h4.4v4.4h-4.4zM120.6 603.2h4.4v4.4h-4.4zM207.3 603.8h4.4v4.4h-4.4zM177.2 603.7h4.4v4.4h-4.4zM214.1 603.7h4.4v4.4h-4.4zM190.4 603.3h4.4v4.4h-4.4zM153.3 604.0h4.4v4.4h-4.4zM134.2 604.1h4.4v4.4h-4.4zM123.6 604.0h4.4v4.4h-4.4zM184.1 604.5h4.4v4.4h-4.4zM133.7 604.6h4.4v4.4h-4.4zM207.8 604.2h4.4v4.4h-4.4zM155.6 604.3h4.4v4.4h-4.4zM226.0 604.1h4.4v4.4h-4.4zM144.6 603.9h4.4v4.4h-4.4zM137.3 604.3h4.4v4.4h-4.4zM172.8 604.1h4.4v4.4h-4.4zM184.3 604.6h4.4v4.4h-4.4zM200.5 604.4h4.4v4.4h-4.4zM140.9 604.2h4.4v4.4h-4.4zM198.7 603.9h4.4v4.4h-4.4zM203.5 603.9h4.4v4.4h-4.4zM136.7 603.9h4.4v4.4h-4.4zM154.1 605.4h4.4v4.4h-4.4zM150.0 605.7h4.4v4.4h-4.4zM150.1 604.9h4.4v4.4h-4.4zM113.9 604.9h4.4v4.4h-4.4zM122.1 605.6h4.4v4.4h-4.4zM135.5 605.2h4.4v4.4h-4.4zM143.4 605.4h4.4v4.4h-4.4zM167.3 605.4h4.4v4.4h-4.4zM120.4 605.3h4.4v4.4h-4.4zM204.0 605.4h4.4v4.4h-4.4zM177.8 605.0h4.4v4.4h-4.4zM100.8 605.0h4.4v4.4h-4.4zM161.9 605.2h4.4v4.4h-4.4zM181.2 605.8h4.4v4.4h-4.4zM115.2 605.7h4.4v4.4h-4.4zM180.8 605.5h4.4v4.4h-4.4zM177.4 606.6h4.4v4.4h-4.4zM169.2 606.0h4.4v4.4h-4.4zM145.8 606.5h4.4v4.4h-4.4zM164.8 606.2h4.4v4.4h-4.4zM127.2 606.7h4.4v4.4h-4.4zM167.3 605.9h4.4v4.4h-4.4zM136.5 606.7h4.4v4.4h-4.4zM220.8 606.7h4.4v4.4h-4.4zM99.3 606.5h4.4v4.4h-4.4zM215.0 606.6h4.4v4.4h-4.4zM140.3 606.0h4.4v4.4h-4.4zM185.5 605.8h4.4v4.4h-4.4zM126.8 606.5h4.4v4.4h-4.4zM148.6 606.3h4.4v4.4h-4.4zM155.0 605.9h4.4v4.4h-4.4zM190.0 606.3h4.4v4.4h-4.4zM202.6 606.6h4.4v4.4h-4.4zM189.4 607.7h4.4v4.4h-4.4zM196.6 607.6h4.4v4.4h-4.4zM137.1 607.2h4.4v4.4h-4.4zM167.0 607.3h4.4v4.4h-4.4zM181.5 606.9h4.4v4.4h-4.4zM135.8 607.2h4.4v4.4h-4.4zM153.0 606.9h4.4v4.4h-4.4zM206.7 607.7h4.4v4.4h-4.4zM140.7 606.8h4.4v4.4h-4.4zM180.1 606.9h4.4v4.4h-4.4zM165.3 607.6h4.4v4.4h-4.4zM186.6 607.4h4.4v4.4h-4.4zM171.2 607.6h4.4v4.4h-4.4zM161.0 607.4h4.4v4.4h-4.4zM158.3 607.3h4.4v4.4h-4.4zM197.7 607.4h4.4v4.4h-4.4zM153.7 606.9h4.4v4.4h-4.4zM174.9 608.0h4.4v4.4h-4.4zM206.3 607.9h4.4v4.4h-4.4zM183.7 607.9h4.4v4.4h-4.4zM169.6 608.3h4.4v4.4h-4.4zM190.2 608.3h4.4v4.4h-4.4zM207.9 608.7h4.4v4.4h-4.4zM191.9 608.8h4.4v4.4h-4.4zM105.3 608.5h4.4v4.4h-4.4zM215.6 608.4h4.4v4.4h-4.4zM156.7 608.6h4.4v4.4h-4.4zM189.7 608.8h4.4v4.4h-4.4zM138.2 608.2h4.4v4.4h-4.4zM155.2 608.3h4.4v4.4h-4.4zM185.5 608.3h4.4v4.4h-4.4zM188.4 608.4h4.4v4.4h-4.4zM124.3 607.9h4.4v4.4h-4.4zM169.0 608.1h4.4v4.4h-4.4zM142.5 609.8h4.4v4.4h-4.4zM177.3 609.1h4.4v4.4h-4.4zM135.6 609.6h4.4v4.4h-4.4zM122.7 609.3h4.4v4.4h-4.4zM149.1 609.4h4.4v4.4h-4.4zM156.6 609.4h4.4v4.4h-4.4zM181.9 608.9h4.4v4.4h-4.4zM191.1 609.4h4.4v4.4h-4.4zM145.2 609.4h4.4v4.4h-4.4zM159.2 609.8h4.4v4.4h-4.4zM209.4 609.8h4.4v4.4h-4.4zM172.3 609.3h4.4v4.4h-4.4zM147.0 609.5h4.4v4.4h-4.4zM162.2 608.9h4.4v4.4h-4.4zM127.4 609.1h4.4v4.4h-4.4zM213.1 609.0h4.4v4.4h-4.4zM112.0 610.2h4.4v4.4h-4.4zM129.5 609.8h4.4v4.4h-4.4zM210.3 610.1h4.4v4.4h-4.4zM189.5 610.8h4.4v4.4h-4.4zM125.2 610.2h4.4v4.4h-4.4zM190.1 610.3h4.4v4.4h-4.4zM188.5 610.1h4.4v4.4h-4.4zM201.8 610.6h4.4v4.4h-4.4zM146.6 610.5h4.4v4.4h-4.4zM151.9 610.6h4.4v4.4h-4.4zM138.2 610.6h4.4v4.4h-4.4zM181.8 609.9h4.4v4.4h-4.4zM193.7 610.6h4.4v4.4h-4.4zM144.2 610.6h4.4v4.4h-4.4zM200.5 610.2h4.4v4.4h-4.4zM222.6 610.0h4.4v4.4h-4.4zM137.0 610.5h4.4v4.4h-4.4zM213.2 611.2h4.4v4.4h-4.4zM182.4 611.5h4.4v4.4h-4.4zM147.6 611.6h4.4v4.4h-4.4zM145.5 611.2h4.4v4.4h-4.4zM213.1 611.6h4.4v4.4h-4.4zM184.5 611.6h4.4v4.4h-4.4zM145.9 610.8h4.4v4.4h-4.4zM124.8 611.5h4.4v4.4h-4.4zM172.6 611.3h4.4v4.4h-4.4zM180.3 611.0h4.4v4.4h-4.4zM163.3 610.9h4.4v4.4h-4.4zM127.9 611.8h4.4v4.4h-4.4zM188.3 611.8h4.4v4.4h-4.4zM147.7 611.4h4.4v4.4h-4.4zM140.9 611.4h4.4v4.4h-4.4zM166.6 611.7h4.4v4.4h-4.4zM179.1 611.2h4.4v4.4h-4.4zM194.7 612.3h4.4v4.4h-4.4zM216.6 612.0h4.4v4.4h-4.4zM180.4 612.5h4.4v4.4h-4.4zM176.2 612.4h4.4v4.4h-4.4zM215.5 611.9h4.4v4.4h-4.4zM149.5 612.3h4.4v4.4h-4.4zM206.4 611.8h4.4v4.4h-4.4zM148.4 612.5h4.4v4.4h-4.4zM172.9 612.1h4.4v4.4h-4.4zM177.7 612.0h4.4v4.4h-4.4zM116.2 612.1h4.4v4.4h-4.4zM206.2 612.7h4.4v4.4h-4.4zM182.8 612.7h4.4v4.4h-4.4zM153.8 612.2h4.4v4.4h-4.4zM151.7 612.8h4.4v4.4h-4.4zM193.3 611.8h4.4v4.4h-4.4zM201.7 612.5h4.4v4.4h-4.4zM138.8 613.1h4.4v4.4h-4.4zM118.0 612.9h4.4v4.4h-4.4zM130.8 613.4h4.4v4.4h-4.4zM231.6 612.9h4.4v4.4h-4.4zM226.5 613.2h4.4v4.4h-4.4zM188.7 613.4h4.4v4.4h-4.4zM174.3 613.1h4.4v4.4h-4.4zM180.9 613.5h4.4v4.4h-4.4zM187.4 613.4h4.4v4.4h-4.4zM111.4 612.8h4.4v4.4h-4.4zM144.4 613.6h4.4v4.4h-4.4zM158.3 613.3h4.4v4.4h-4.4zM149.5 613.1h4.4v4.4h-4.4zM162.8 613.2h4.4v4.4h-4.4zM127.6 613.4h4.4v4.4h-4.4zM152.5 613.6h4.4v4.4h-4.4zM183.4 613.4h4.4v4.4h-4.4zM177.7 614.5h4.4v4.4h-4.4zM148.7 614.4h4.4v4.4h-4.4zM187.9 614.6h4.4v4.4h-4.4zM98.7 614.7h4.4v4.4h-4.4zM182.9 614.3h4.4v4.4h-4.4zM157.0 613.8h4.4v4.4h-4.4zM201.9 614.2h4.4v4.4h-4.4zM173.6 614.6h4.4v4.4h-4.4zM178.8 614.0h4.4v4.4h-4.4zM145.7 614.6h4.4v4.4h-4.4zM161.9 614.7h4.4v4.4h-4.4zM162.2 614.1h4.4v4.4h-4.4zM139.1 614.1h4.4v4.4h-4.4zM201.5 614.7h4.4v4.4h-4.4zM215.2 614.3h4.4v4.4h-4.4zM193.3 614.2h4.4v4.4h-4.4zM184.6 614.0h4.4v4.4h-4.4zM109.0 615.1h4.4v4.4h-4.4zM120.9 614.9h4.4v4.4h-4.4zM194.9 615.6h4.4v4.4h-4.4zM118.6 615.5h4.4v4.4h-4.4zM185.9 615.0h4.4v4.4h-4.4zM100.0 615.5h4.4v4.4h-4.4zM125.0 614.8h4.4v4.4h-4.4zM161.8 615.6h4.4v4.4h-4.4zM137.0 615.7h4.4v4.4h-4.4zM201.7 615.0h4.4v4.4h-4.4zM226.6 615.3h4.4v4.4h-4.4zM200.2 615.2h4.4v4.4h-4.4zM148.0 615.5h4.4v4.4h-4.4zM211.5 615.2h4.4v4.4h-4.4zM164.5 615.4h4.4v4.4h-4.4zM199.7 615.0h4.4v4.4h-4.4zM145.1 615.4h4.4v4.4h-4.4zM118.4 616.1h4.4v4.4h-4.4zM177.4 616.3h4.4v4.4h-4.4zM144.4 616.0h4.4v4.4h-4.4zM205.5 615.9h4.4v4.4h-4.4zM174.5 616.1h4.4v4.4h-4.4zM219.8 616.3h4.4v4.4h-4.4zM153.0 616.8h4.4v4.4h-4.4zM131.7 616.3h4.4v4.4h-4.4zM172.6 616.3h4.4v4.4h-4.4zM202.2 616.5h4.4v4.4h-4.4zM132.8 615.9h4.4v4.4h-4.4zM136.0 616.8h4.4v4.4h-4.4zM149.4 616.6h4.4v4.4h-4.4zM144.9 616.6h4.4v4.4h-4.4zM154.4 616.0h4.4v4.4h-4.4zM125.2 616.6h4.4v4.4h-4.4zM122.2 616.2h4.4v4.4h-4.4zM100.3 617.6h4.4v4.4h-4.4zM207.4 617.5h4.4v4.4h-4.4zM143.9 617.3h4.4v4.4h-4.4zM184.9 617.2h4.4v4.4h-4.4zM192.3 617.1h4.4v4.4h-4.4zM138.3 617.1h4.4v4.4h-4.4zM139.9 617.1h4.4v4.4h-4.4zM177.7 617.3h4.4v4.4h-4.4zM119.7 617.1h4.4v4.4h-4.4zM196.7 617.5h4.4v4.4h-4.4zM161.1 617.6h4.4v4.4h-4.4zM152.6 617.6h4.4v4.4h-4.4zM140.1 616.9h4.4v4.4h-4.4zM175.7 617.7h4.4v4.4h-4.4zM204.0 616.8h4.4v4.4h-4.4zM141.3 617.1h4.4v4.4h-4.4zM209.4 618.4h4.4v4.4h-4.4zM174.1 618.2h4.4v4.4h-4.4zM139.0 618.3h4.4v4.4h-4.4zM141.8 618.4h4.4v4.4h-4.4zM131.2 618.3h4.4v4.4h-4.4zM212.3 618.0h4.4v4.4h-4.4zM159.9 618.1h4.4v4.4h-4.4zM217.9 617.9h4.4v4.4h-4.4zM123.6 618.8h4.4v4.4h-4.4zM227.8 618.0h4.4v4.4h-4.4zM112.1 618.3h4.4v4.4h-4.4zM153.2 618.7h4.4v4.4h-4.4zM155.4 618.0h4.4v4.4h-4.4zM130.8 618.2h4.4v4.4h-4.4zM197.3 617.8h4.4v4.4h-4.4zM217.5 618.1h4.4v4.4h-4.4zM159.7 619.3h4.4v4.4h-4.4zM227.0 619.2h4.4v4.4h-4.4zM200.8 619.0h4.4v4.4h-4.4zM165.7 618.8h4.4v4.4h-4.4zM167.8 619.5h4.4v4.4h-4.4zM221.6 619.5h4.4v4.4h-4.4zM209.9 618.9h4.4v4.4h-4.4zM137.5 619.2h4.4v4.4h-4.4zM145.3 619.5h4.4v4.4h-4.4zM228.7 619.6h4.4v4.4h-4.4zM120.6 619.8h4.4v4.4h-4.4zM164.5 619.6h4.4v4.4h-4.4zM232.0 619.6h4.4v4.4h-4.4zM151.9 619.1h4.4v4.4h-4.4zM202.5 619.7h4.4v4.4h-4.4zM175.1 620.4h4.4v4.4h-4.4zM132.6 620.6h4.4v4.4h-4.4zM206.9 620.2h4.4v4.4h-4.4zM173.8 620.1h4.4v4.4h-4.4zM134.2 620.7h4.4v4.4h-4.4zM119.0 620.0h4.4v4.4h-4.4zM220.6 620.2h4.4v4.4h-4.4zM143.9 620.4h4.4v4.4h-4.4zM142.2 620.4h4.4v4.4h-4.4zM198.8 620.5h4.4v4.4h-4.4zM145.7 620.8h4.4v4.4h-4.4zM207.8 620.8h4.4v4.4h-4.4zM142.6 620.2h4.4v4.4h-4.4zM246.3 620.0h4.4v4.4h-4.4zM139.7 620.4h4.4v4.4h-4.4zM123.7 621.3h4.4v4.4h-4.4zM185.0 621.5h4.4v4.4h-4.4zM155.5 620.8h4.4v4.4h-4.4zM158.2 621.4h4.4v4.4h-4.4zM151.7 621.4h4.4v4.4h-4.4zM177.0 621.2h4.4v4.4h-4.4zM151.3 621.6h4.4v4.4h-4.4zM147.9 621.2h4.4v4.4h-4.4zM223.4 621.1h4.4v4.4h-4.4zM151.5 621.7h4.4v4.4h-4.4zM222.6 621.0h4.4v4.4h-4.4zM149.4 621.6h4.4v4.4h-4.4zM198.7 621.7h4.4v4.4h-4.4zM224.4 621.1h4.4v4.4h-4.4zM199.1 620.9h4.4v4.4h-4.4zM181.5 622.3h4.4v4.4h-4.4zM218.0 622.4h4.4v4.4h-4.4zM159.8 621.8h4.4v4.4h-4.4zM186.6 622.2h4.4v4.4h-4.4zM123.6 622.2h4.4v4.4h-4.4zM195.7 622.6h4.4v4.4h-4.4zM177.9 622.3h4.4v4.4h-4.4zM120.1 622.1h4.4v4.4h-4.4zM212.8 622.8h4.4v4.4h-4.4zM174.1 622.4h4.4v4.4h-4.4zM214.0 621.9h4.4v4.4h-4.4zM138.6 622.0h4.4v4.4h-4.4zM149.5 622.7h4.4v4.4h-4.4zM164.2 622.5h4.4v4.4h-4.4zM176.4 622.2h4.4v4.4h-4.4zM163.1 623.4h4.4v4.4h-4.4zM197.8 623.2h4.4v4.4h-4.4zM176.5 623.7h4.4v4.4h-4.4zM145.9 623.3h4.4v4.4h-4.4zM178.7 623.8h4.4v4.4h-4.4zM152.9 623.0h4.4v4.4h-4.4zM158.9 623.2h4.4v4.4h-4.4zM101.9 623.3h4.4v4.4h-4.4zM141.4 623.3h4.4v4.4h-4.4zM228.3 623.6h4.4v4.4h-4.4zM209.0 622.8h4.4v4.4h-4.4zM112.3 622.9h4.4v4.4h-4.4zM159.8 623.1h4.4v4.4h-4.4zM172.9 623.8h4.4v4.4h-4.4zM148.5 623.6h4.4v4.4h-4.4zM200.8 624.5h4.4v4.4h-4.4zM126.7 624.2h4.4v4.4h-4.4zM194.6 623.9h4.4v4.4h-4.4zM190.7 624.2h4.4v4.4h-4.4zM206.0 624.7h4.4v4.4h-4.4zM193.1 624.1h4.4v4.4h-4.4zM157.1 624.6h4.4v4.4h-4.4zM187.5 624.6h4.4v4.4h-4.4zM162.3 624.1h4.4v4.4h-4.4zM151.6 624.0h4.4v4.4h-4.4zM149.8 624.2h4.4v4.4h-4.4zM196.7 624.2h4.4v4.4h-4.4zM120.5 624.0h4.4v4.4h-4.4zM199.0 624.0h4.4v4.4h-4.4zM195.7 624.5h4.4v4.4h-4.4zM164.1 625.3h4.4v4.4h-4.4zM172.9 625.3h4.4v4.4h-4.4zM201.0 625.6h4.4v4.4h-4.4zM168.7 625.4h4.4v4.4h-4.4zM201.1 624.9h4.4v4.4h-4.4zM207.9 624.9h4.4v4.4h-4.4zM190.3 625.2h4.4v4.4h-4.4zM152.1 625.3h4.4v4.4h-4.4zM146.6 625.7h4.4v4.4h-4.4zM149.5 624.9h4.4v4.4h-4.4zM195.2 625.7h4.4v4.4h-4.4zM148.7 624.8h4.4v4.4h-4.4zM180.8 625.8h4.4v4.4h-4.4zM109.5 624.9h4.4v4.4h-4.4zM149.9 626.1h4.4v4.4h-4.4zM150.0 626.1h4.4v4.4h-4.4zM223.3 626.6h4.4v4.4h-4.4zM193.3 626.6h4.4v4.4h-4.4zM134.7 626.1h4.4v4.4h-4.4zM157.1 626.0h4.4v4.4h-4.4zM181.4 626.5h4.4v4.4h-4.4zM225.6 626.6h4.4v4.4h-4.4zM174.9 626.1h4.4v4.4h-4.4zM173.1 625.9h4.4v4.4h-4.4zM208.1 625.9h4.4v4.4h-4.4zM141.5 625.9h4.4v4.4h-4.4zM216.3 626.4h4.4v4.4h-4.4zM161.9 626.1h4.4v4.4h-4.4zM192.2 626.6h4.4v4.4h-4.4zM136.4 626.9h4.4v4.4h-4.4zM214.8 627.5h4.4v4.4h-4.4zM170.6 627.0h4.4v4.4h-4.4zM107.6 627.0h4.4v4.4h-4.4zM157.1 627.1h4.4v4.4h-4.4zM100.1 626.9h4.4v4.4h-4.4zM167.1 626.9h4.4v4.4h-4.4zM138.4 627.6h4.4v4.4h-4.4zM195.8 627.0h4.4v4.4h-4.4zM162.9 627.5h4.4v4.4h-4.4zM188.3 627.7h4.4v4.4h-4.4zM206.9 627.5h4.4v4.4h-4.4zM141.5 627.3h4.4v4.4h-4.4zM124.5 627.5h4.4v4.4h-4.4zM146.4 627.0h4.4v4.4h-4.4zM176.6 628.2h4.4v4.4h-4.4zM187.3 628.7h4.4v4.4h-4.4zM127.3 628.4h4.4v4.4h-4.4zM141.6 628.7h4.4v4.4h-4.4zM173.4 627.8h4.4v4.4h-4.4zM238.5 628.4h4.4v4.4h-4.4zM141.3 628.3h4.4v4.4h-4.4zM151.2 628.7h4.4v4.4h-4.4zM134.4 628.3h4.4v4.4h-4.4zM166.5 628.0h4.4v4.4h-4.4zM143.7 628.4h4.4v4.4h-4.4zM188.0 628.2h4.4v4.4h-4.4zM174.2 628.0h4.4v4.4h-4.4zM177.5 628.0h4.4v4.4h-4.4zM215.9 629.3h4.4v4.4h-4.4zM155.8 629.8h4.4v4.4h-4.4zM203.2 629.0h4.4v4.4h-4.4zM190.7 629.6h4.4v4.4h-4.4zM185.9 629.0h4.4v4.4h-4.4zM162.7 629.2h4.4v4.4h-4.4zM127.2 628.8h4.4v4.4h-4.4zM190.1 629.2h4.4v4.4h-4.4zM147.8 629.3h4.4v4.4h-4.4zM178.9 629.4h4.4v4.4h-4.4zM145.7 629.4h4.4v4.4h-4.4zM193.8 629.6h4.4v4.4h-4.4zM224.5 629.6h4.4v4.4h-4.4zM166.4 629.1h4.4v4.4h-4.4zM130.2 630.5h4.4v4.4h-4.4zM162.8 630.5h4.4v4.4h-4.4zM125.7 630.6h4.4v4.4h-4.4zM167.9 630.7h4.4v4.4h-4.4zM162.4 630.2h4.4v4.4h-4.4zM177.7 630.4h4.4v4.4h-4.4zM155.8 630.1h4.4v4.4h-4.4zM158.7 630.2h4.4v4.4h-4.4zM180.9 630.7h4.4v4.4h-4.4zM164.0 630.1h4.4v4.4h-4.4zM194.0 630.5h4.4v4.4h-4.4zM211.8 630.3h4.4v4.4h-4.4zM116.1 630.6h4.4v4.4h-4.4zM151.1 630.9h4.4v4.4h-4.4zM147.8 631.7h4.4v4.4h-4.4zM136.7 631.6h4.4v4.4h-4.4zM204.9 631.2h4.4v4.4h-4.4zM192.1 631.8h4.4v4.4h-4.4zM154.1 631.4h4.4v4.4h-4.4zM120.0 631.8h4.4v4.4h-4.4zM146.3 630.8h4.4v4.4h-4.4zM95.7 631.7h4.4v4.4h-4.4zM198.5 631.4h4.4v4.4h-4.4zM173.6 631.5h4.4v4.4h-4.4zM129.7 631.4h4.4v4.4h-4.4zM177.3 632.5h4.4v4.4h-4.4zM135.2 631.9h4.4v4.4h-4.4zM152.0 632.6h4.4v4.4h-4.4zM178.5 632.0h4.4v4.4h-4.4zM156.4 631.9h4.4v4.4h-4.4zM168.4 632.2h4.4v4.4h-4.4zM161.4 632.5h4.4v4.4h-4.4zM192.9 632.6h4.4v4.4h-4.4zM138.4 632.6h4.4v4.4h-4.4zM193.7 632.3h4.4v4.4h-4.4zM180.6 632.5h4.4v4.4h-4.4zM159.7 632.5h4.4v4.4h-4.4zM158.1 633.1h4.4v4.4h-4.4zM160.9 632.9h4.4v4.4h-4.4zM165.6 633.8h4.4v4.4h-4.4zM198.7 633.1h4.4v4.4h-4.4zM220.8 632.9h4.4v4.4h-4.4zM151.4 633.6h4.4v4.4h-4.4zM199.8 633.8h4.4v4.4h-4.4zM139.8 633.2h4.4v4.4h-4.4zM191.8 633.7h4.4v4.4h-4.4zM170.8 633.1h4.4v4.4h-4.4zM143.4 632.9h4.4v4.4h-4.4zM154.0 634.2h4.4v4.4h-4.4zM186.2 634.4h4.4v4.4h-4.4zM169.0 634.4h4.4v4.4h-4.4zM204.4 634.2h4.4v4.4h-4.4zM201.4 634.2h4.4v4.4h-4.4zM166.6 634.0h4.4v4.4h-4.4zM185.5 634.1h4.4v4.4h-4.4zM181.4 634.8h4.4v4.4h-4.4zM157.3 634.1h4.4v4.4h-4.4zM151.6 634.8h4.4v4.4h-4.4zM180.3 633.9h4.4v4.4h-4.4zM147.4 634.8h4.4v4.4h-4.4zM186.1 635.7h4.4v4.4h-4.4zM190.8 635.6h4.4v4.4h-4.4zM175.0 635.1h4.4v4.4h-4.4zM129.6 635.8h4.4v4.4h-4.4zM209.0 635.3h4.4v4.4h-4.4zM183.0 635.0h4.4v4.4h-4.4zM158.9 635.5h4.4v4.4h-4.4zM209.3 635.0h4.4v4.4h-4.4zM204.9 635.4h4.4v4.4h-4.4zM141.5 636.4h4.4v4.4h-4.4zM195.1 636.5h4.4v4.4h-4.4zM151.9 636.2h4.4v4.4h-4.4zM181.3 636.4h4.4v4.4h-4.4zM141.5 636.3h4.4v4.4h-4.4zM200.5 636.3h4.4v4.4h-4.4zM167.1 636.4h4.4v4.4h-4.4zM170.6 635.9h4.4v4.4h-4.4zM200.3 636.1h4.4v4.4h-4.4zM170.6 637.5h4.4v4.4h-4.4zM210.0 636.9h4.4v4.4h-4.4zM149.0 637.5h4.4v4.4h-4.4zM143.3 637.0h4.4v4.4h-4.4zM153.6 637.2h4.4v4.4h-4.4zM176.8 637.3h4.4v4.4h-4.4zM134.3 637.1h4.4v4.4h-4.4zM130.4 636.9h4.4v4.4h-4.4zM192.1 638.2h4.4v4.4h-4.4zM198.7 638.6h4.4v4.4h-4.4zM162.7 638.6h4.4v4.4h-4.4zM194.5 638.7h4.4v4.4h-4.4zM141.6 638.1h4.4v4.4h-4.4zM137.5 638.6h4.4v4.4h-4.4zM179.7 638.2h4.4v4.4h-4.4zM187.7 638.0h4.4v4.4h-4.4zM182.3 639.5h4.4v4.4h-4.4zM159.5 639.6h4.4v4.4h-4.4zM188.2 638.8h4.4v4.4h-4.4zM189.6 639.8h4.4v4.4h-4.4zM118.6 639.0h4.4v4.4h-4.4zM125.3 639.1h4.4v4.4h-4.4zM130.4 639.3h4.4v4.4h-4.4zM141.8 638.8h4.4v4.4h-4.4zM162.3 640.5h4.4v4.4h-4.4zM212.8 640.4h4.4v4.4h-4.4zM170.6 639.9h4.4v4.4h-4.4zM137.0 640.1h4.4v4.4h-4.4zM176.6 640.1h4.4v4.4h-4.4zM156.6 640.7h4.4v4.4h-4.4zM177.2 640.3h4.4v4.4h-4.4zM180.9 641.0h4.4v4.4h-4.4zM185.4 641.2h4.4v4.4h-4.4zM186.6 641.5h4.4v4.4h-4.4zM164.4 641.1h4.4v4.4h-4.4zM196.4 641.2h4.4v4.4h-4.4zM185.2 641.1h4.4v4.4h-4.4zM182.1 641.0h4.4v4.4h-4.4zM153.2 642.2h4.4v4.4h-4.4zM142.9 642.4h4.4v4.4h-4.4zM133.0 642.2h4.4v4.4h-4.4zM187.0 642.6h4.4v4.4h-4.4zM133.4 642.1h4.4v4.4h-4.4zM139.2 642.2h4.4v4.4h-4.4zM172.0 643.6h4.4v4.4h-4.4zM170.6 643.3h4.4v4.4h-4.4zM164.2 643.0h4.4v4.4h-4.4zM155.6 643.8h4.4v4.4h-4.4zM179.3 643.5h4.4v4.4h-4.4zM148.8 644.6h4.4v4.4h-4.4zM206.7 643.8h4.4v4.4h-4.4zM159.9 644.3h4.4v4.4h-4.4zM171.5 644.5h4.4v4.4h-4.4zM143.1 645.2h4.4v4.4h-4.4zM154.6 644.9h4.4v4.4h-4.4zM174.3 645.8h4.4v4.4h-4.4zM165.9 645.2h4.4v4.4h-4.4zM213.4 646.5h4.4v4.4h-4.4zM164.3 646.4h4.4v4.4h-4.4zM153.1 646.2h4.4v4.4h-4.4zM163.3 646.4h4.4v4.4h-4.4zM145.0 647.4h4.4v4.4h-4.4zM156.4 647.2h4.4v4.4h-4.4zM147.3 647.7h4.4v4.4h-4.4zM143.2 647.9h4.4v4.4h-4.4zM190.0 648.5h4.4v4.4h-4.4zM160.7 649.0h4.4v4.4h-4.4z" fill="#add8e6"/>
<path d="M99.7 559.5H208.7M154.5 493.0V580.7M119.4 591.5H200.9M159.5 583.0V600.0M118.0 599.5H203.0M158.5 590.0V608.0M122.0 603.5H203.0M159.5 595.0V612.0M123.0 608.5H206.0M160.5 600.0V617.0M117.0 620.5H206.0M163.5 610.0V630.0M119.0 626.5H209.0M162.5 616.0V636.0M122.0 633.5H211.0M164.5 624.0V646.0M132.5 639.5H227.0M171.5 630.0V650.0M116.8 614.5H221.9M162.5 600.0V630.0" stroke="#2a2a2a" stroke-width="0.9" fill="none" opacity="0.9"/>
<path d="M202.9 601.3h3.7v3.7h-3.7zM189.8 607.4h3.7v3.7h-3.7zM181.1 592.1h3.7v3.7h-3.7zM186.3 621.2h3.7v3.7h-3.7zM211.8 607.0h3.7v3.7h-3.7zM120.0 596.9h3.7v3.7h-3.7zM150.9 611.6h3.7v3.7h-3.7zM193.3 612.3h3.7v3.7h-3.7zM191.1 591.8h3.7v3.7h-3.7zM161.9 585.7h3.7v3.7h-3.7zM175.5 599.2h3.7v3.7h-3.7zM148.1 609.6h3.7v3.7h-3.7zM136.6 614.8h3.7v3.7h-3.7zM161.2 636.9h3.7v3.7h-3.7zM228.1 581.0h3.7v3.7h-3.7zM187.6 611.3h3.7v3.7h-3.7zM239.6 634.0h3.7v3.7h-3.7zM223.6 610.1h3.7v3.7h-3.7zM169.2 621.1h3.7v3.7h-3.7zM130.8 584.9h3.7v3.7h-3.7zM205.6 611.6h3.7v3.7h-3.7zM154.3 599.1h3.7v3.7h-3.7zM237.4 605.7h3.7v3.7h-3.7zM211.1 600.1h3.7v3.7h-3.7zM178.9 596.7h3.7v3.7h-3.7zM128.9 594.5h3.7v3.7h-3.7zM129.3 620.1h3.7v3.7h-3.7zM170.6 610.4h3.7v3.7h-3.7zM212.0 623.1h3.7v3.7h-3.7zM194.6 599.4h3.7v3.7h-3.7zM133.3 613.2h3.7v3.7h-3.7zM193.9 609.7h3.7v3.7h-3.7zM159.0 617.6h3.7v3.7h-3.7zM159.7 627.7h3.7v3.7h-3.7zM157.4 621.4h3.7v3.7h-3.7zM178.0 615.2h3.7v3.7h-3.7zM170.9 605.2h3.7v3.7h-3.7zM185.4 598.7h3.7v3.7h-3.7zM167.9 604.8h3.7v3.7h-3.7zM183.4 592.4h3.7v3.7h-3.7zM223.2 602.8h3.7v3.7h-3.7zM193.9 585.1h3.7v3.7h-3.7zM159.9 598.3h3.7v3.7h-3.7zM120.1 619.4h3.7v3.7h-3.7zM119.0 600.7h3.7v3.7h-3.7zM72.2 618.1h3.7v3.7h-3.7zM243.7 626.1h3.7v3.7h-3.7z" fill="#f6b540" stroke="#3a3020" stroke-width="0.55"/>
<rect x="150.8" y="555.9" width="6.6" height="6.6" fill="#ffffff" stroke="#000" stroke-width="1.3"/>
<rect x="156.3" y="587.9" width="6.6" height="6.6" fill="#ffffff" stroke="#000" stroke-width="1.3"/>
<rect x="155.5" y="596.6" width="6.6" height="6.6" fill="#ffffff" stroke="#000" stroke-width="1.3"/>
<rect x="156.3" y="600.5" width="6.6" height="6.6" fill="#ffffff" stroke="#000" stroke-width="1.3"/>
<rect x="157.4" y="605.5" width="6.6" height="6.6" fill="#ffffff" stroke="#000" stroke-width="1.3"/>
<rect x="160.3" y="616.8" width="6.6" height="6.6" fill="#ffffff" stroke="#000" stroke-width="1.3"/>
<rect x="158.9" y="622.9" width="6.6" height="6.6" fill="#ffffff" stroke="#000" stroke-width="1.3"/>
<rect x="160.8" y="630.0" width="6.6" height="6.6" fill="#ffffff" stroke="#000" stroke-width="1.3"/>
<rect x="167.9" y="636.5" width="6.6" height="6.6" fill="#ffffff" stroke="#000" stroke-width="1.3"/>
<rect x="158.9" y="611.1" width="6.6" height="6.6" fill="#ffff00" stroke="#000" stroke-width="1.3"/>
</g>
<clipPath id="clip-d"><rect x="387.50" y="438.30" width="297.5" height="393.5"/></clipPath>
<g clip-path="url(#clip-d)">
<path d="M437.0 476.4h4.4v4.4h-4.4zM484.7 474.3h4.4v4.4h-4.4zM451.4 490.0h4.4v4.4h-4.4zM512.4 495.6h4.4v4.4h-4.4zM452.1 511.1h4.4v4.4h-4.4zM469.3 508.6h4.4v4.4h-4.4zM484.0 513.2h4.4v4.4h-4.4zM494.9 509.7h4.4v4.4h-4.4zM549.2 514.6h4.4v4.4h-4.4zM454.9 533.8h4.4v4.4h-4.4zM472.8 528.9h4.4v4.4h-4.4zM484.0 526.5h4.4v4.4h-4.4zM534.4 536.6h4.4v4.4h-4.4zM576.5 536.3h4.4v4.4h-4.4zM588.1 542.9h4.4v4.4h-4.4zM604.5 548.6h4.4v4.4h-4.4zM466.1 548.6h4.4v4.4h-4.4zM484.0 541.2h4.4v4.4h-4.4zM492.4 541.9h4.4v4.4h-4.4zM497.0 540.8h4.4v4.4h-4.4zM499.4 546.1h4.4v4.4h-4.4zM507.1 546.8h4.4v4.4h-4.4zM510.6 548.2h4.4v4.4h-4.4zM513.4 554.2h4.4v4.4h-4.4zM514.5 557.7h4.4v4.4h-4.4zM523.2 559.4h4.4v4.4h-4.4zM521.1 563.6h4.4v4.4h-4.4zM481.9 561.2h4.4v4.4h-4.4zM488.2 563.6h4.4v4.4h-4.4zM499.4 558.7h4.4v4.4h-4.4zM473.1 566.8h4.4v4.4h-4.4zM483.6 571.7h4.4v4.4h-4.4zM495.9 569.2h4.4v4.4h-4.4zM504.0 572.0h4.4v4.4h-4.4zM510.6 571.7h4.4v4.4h-4.4zM464.4 578.3h4.4v4.4h-4.4zM475.6 579.4h4.4v4.4h-4.4zM480.8 579.4h4.4v4.4h-4.4zM518.7 578.7h4.4v4.4h-4.4zM530.2 577.6h4.4v4.4h-4.4zM536.2 579.4h4.4v4.4h-4.4zM435.8 627.8h4.4v4.4h-4.4zM435.7 620.8h4.4v4.4h-4.4zM438.8 617.8h4.4v4.4h-4.4zM649.8 643.3h4.4v4.4h-4.4zM565.8 714.8h4.4v4.4h-4.4zM498.3 677.8h4.4v4.4h-4.4zM521.8 678.3h4.4v4.4h-4.4zM501.8 574.1h4.4v4.4h-4.4zM489.1 574.2h4.4v4.4h-4.4zM520.3 574.7h4.4v4.4h-4.4zM486.4 575.0h4.4v4.4h-4.4zM530.0 575.6h4.4v4.4h-4.4zM492.8 575.7h4.4v4.4h-4.4zM464.4 576.0h4.4v4.4h-4.4zM488.3 575.8h4.4v4.4h-4.4zM511.1 575.8h4.4v4.4h-4.4zM522.8 575.9h4.4v4.4h-4.4zM495.7 577.4h4.4v4.4h-4.4zM516.6 577.8h4.4v4.4h-4.4zM481.2 577.0h4.4v4.4h-4.4zM525.3 577.7h4.4v4.4h-4.4zM517.8 577.8h4.4v4.4h-4.4zM498.8 578.5h4.4v4.4h-4.4zM477.4 577.9h4.4v4.4h-4.4zM517.7 578.1h4.4v4.4h-4.4zM532.8 578.4h4.4v4.4h-4.4zM497.9 578.4h4.4v4.4h-4.4zM496.9 578.8h4.4v4.4h-4.4zM493.4 579.1h4.4v4.4h-4.4zM501.7 579.5h4.4v4.4h-4.4zM482.3 579.4h4.4v4.4h-4.4zM470.7 578.9h4.4v4.4h-4.4zM526.8 579.2h4.4v4.4h-4.4zM520.4 580.5h4.4v4.4h-4.4zM492.1 580.7h4.4v4.4h-4.4zM500.8 580.3h4.4v4.4h-4.4zM554.2 580.2h4.4v4.4h-4.4zM516.1 580.8h4.4v4.4h-4.4zM489.8 580.5h4.4v4.4h-4.4zM483.1 580.2h4.4v4.4h-4.4zM530.8 581.0h4.4v4.4h-4.4zM533.4 581.5h4.4v4.4h-4.4zM558.0 581.3h4.4v4.4h-4.4zM505.8 581.0h4.4v4.4h-4.4zM532.2 580.9h4.4v4.4h-4.4zM546.2 580.9h4.4v4.4h-4.4zM509.3 581.1h4.4v4.4h-4.4zM551.6 581.3h4.4v4.4h-4.4zM540.2 581.9h4.4v4.4h-4.4zM484.3 582.4h4.4v4.4h-4.4zM530.2 582.2h4.4v4.4h-4.4zM557.8 582.1h4.4v4.4h-4.4zM572.2 582.7h4.4v4.4h-4.4zM480.4 582.4h4.4v4.4h-4.4zM490.5 581.9h4.4v4.4h-4.4zM469.6 582.6h4.4v4.4h-4.4zM493.2 582.4h4.4v4.4h-4.4zM486.0 583.8h4.4v4.4h-4.4zM510.2 583.6h4.4v4.4h-4.4zM483.5 583.4h4.4v4.4h-4.4zM487.7 583.2h4.4v4.4h-4.4zM491.9 582.8h4.4v4.4h-4.4zM482.9 582.9h4.4v4.4h-4.4zM567.2 583.7h4.4v4.4h-4.4zM545.8 583.6h4.4v4.4h-4.4zM459.0 583.4h4.4v4.4h-4.4zM480.1 584.0h4.4v4.4h-4.4zM525.5 584.8h4.4v4.4h-4.4zM565.6 584.2h4.4v4.4h-4.4zM518.7 584.5h4.4v4.4h-4.4zM533.3 583.9h4.4v4.4h-4.4zM545.9 584.7h4.4v4.4h-4.4zM529.8 584.4h4.4v4.4h-4.4zM490.1 584.5h4.4v4.4h-4.4zM503.3 584.7h4.4v4.4h-4.4zM504.0 584.4h4.4v4.4h-4.4zM534.1 585.7h4.4v4.4h-4.4zM489.2 585.1h4.4v4.4h-4.4zM461.9 585.8h4.4v4.4h-4.4zM540.4 585.2h4.4v4.4h-4.4zM526.2 585.5h4.4v4.4h-4.4zM496.1 585.0h4.4v4.4h-4.4zM524.1 585.4h4.4v4.4h-4.4zM509.1 585.7h4.4v4.4h-4.4zM510.5 585.1h4.4v4.4h-4.4zM519.0 585.7h4.4v4.4h-4.4zM486.6 585.8h4.4v4.4h-4.4zM510.4 586.2h4.4v4.4h-4.4zM529.3 585.9h4.4v4.4h-4.4zM507.8 586.6h4.4v4.4h-4.4zM512.5 586.2h4.4v4.4h-4.4zM558.1 586.7h4.4v4.4h-4.4zM483.2 586.4h4.4v4.4h-4.4zM540.5 585.8h4.4v4.4h-4.4zM550.6 586.3h4.4v4.4h-4.4zM516.2 586.0h4.4v4.4h-4.4zM473.2 587.3h4.4v4.4h-4.4zM485.4 587.6h4.4v4.4h-4.4zM475.7 587.6h4.4v4.4h-4.4zM532.0 587.0h4.4v4.4h-4.4zM483.7 587.1h4.4v4.4h-4.4zM561.5 587.5h4.4v4.4h-4.4zM505.9 587.0h4.4v4.4h-4.4zM470.7 586.8h4.4v4.4h-4.4zM495.3 587.5h4.4v4.4h-4.4zM482.7 586.8h4.4v4.4h-4.4zM529.6 588.7h4.4v4.4h-4.4zM529.5 588.6h4.4v4.4h-4.4zM454.7 587.9h4.4v4.4h-4.4zM496.5 588.0h4.4v4.4h-4.4zM528.4 588.5h4.4v4.4h-4.4zM513.1 587.9h4.4v4.4h-4.4zM542.7 588.7h4.4v4.4h-4.4zM564.9 588.2h4.4v4.4h-4.4zM501.5 588.0h4.4v4.4h-4.4zM555.9 588.4h4.4v4.4h-4.4zM538.1 588.7h4.4v4.4h-4.4zM524.7 589.7h4.4v4.4h-4.4zM552.0 589.4h4.4v4.4h-4.4zM546.9 588.9h4.4v4.4h-4.4zM518.2 588.9h4.4v4.4h-4.4zM497.1 588.9h4.4v4.4h-4.4zM514.9 589.8h4.4v4.4h-4.4zM509.3 589.6h4.4v4.4h-4.4zM495.6 589.4h4.4v4.4h-4.4zM518.8 589.0h4.4v4.4h-4.4zM517.6 589.4h4.4v4.4h-4.4zM528.8 589.3h4.4v4.4h-4.4zM533.1 590.1h4.4v4.4h-4.4zM522.0 590.2h4.4v4.4h-4.4zM536.0 590.0h4.4v4.4h-4.4zM526.5 590.2h4.4v4.4h-4.4zM516.5 590.7h4.4v4.4h-4.4zM476.0 589.9h4.4v4.4h-4.4zM490.7 590.0h4.4v4.4h-4.4zM519.7 590.0h4.4v4.4h-4.4zM508.1 590.0h4.4v4.4h-4.4zM492.0 589.9h4.4v4.4h-4.4zM553.5 589.8h4.4v4.4h-4.4zM541.2 591.4h4.4v4.4h-4.4zM477.4 591.3h4.4v4.4h-4.4zM489.6 591.1h4.4v4.4h-4.4zM573.2 591.2h4.4v4.4h-4.4zM491.5 591.0h4.4v4.4h-4.4zM569.5 591.2h4.4v4.4h-4.4zM548.3 591.1h4.4v4.4h-4.4zM530.4 591.4h4.4v4.4h-4.4zM502.3 591.7h4.4v4.4h-4.4zM585.4 591.6h4.4v4.4h-4.4zM500.5 591.7h4.4v4.4h-4.4zM506.9 591.9h4.4v4.4h-4.4zM539.1 592.6h4.4v4.4h-4.4zM550.8 592.6h4.4v4.4h-4.4zM497.8 592.0h4.4v4.4h-4.4zM544.8 592.3h4.4v4.4h-4.4zM514.0 592.5h4.4v4.4h-4.4zM561.9 592.5h4.4v4.4h-4.4zM502.5 592.7h4.4v4.4h-4.4zM535.5 592.2h4.4v4.4h-4.4zM483.4 592.0h4.4v4.4h-4.4zM541.9 592.5h4.4v4.4h-4.4zM538.9 592.7h4.4v4.4h-4.4zM506.5 593.1h4.4v4.4h-4.4zM531.5 593.5h4.4v4.4h-4.4zM541.3 593.3h4.4v4.4h-4.4zM535.9 593.4h4.4v4.4h-4.4zM472.0 593.6h4.4v4.4h-4.4zM533.7 593.2h4.4v4.4h-4.4zM542.2 593.3h4.4v4.4h-4.4zM467.3 593.2h4.4v4.4h-4.4zM538.3 593.7h4.4v4.4h-4.4zM479.8 593.0h4.4v4.4h-4.4zM511.1 593.7h4.4v4.4h-4.4zM497.5 593.5h4.4v4.4h-4.4zM534.4 594.4h4.4v4.4h-4.4zM492.8 593.9h4.4v4.4h-4.4zM480.4 594.6h4.4v4.4h-4.4zM503.9 594.0h4.4v4.4h-4.4zM515.6 593.8h4.4v4.4h-4.4zM535.9 593.8h4.4v4.4h-4.4zM499.2 594.0h4.4v4.4h-4.4zM491.6 594.0h4.4v4.4h-4.4zM546.9 594.5h4.4v4.4h-4.4zM551.1 594.8h4.4v4.4h-4.4zM533.3 594.3h4.4v4.4h-4.4zM521.5 594.1h4.4v4.4h-4.4zM548.4 593.8h4.4v4.4h-4.4zM487.7 595.7h4.4v4.4h-4.4zM482.1 595.0h4.4v4.4h-4.4zM524.4 595.2h4.4v4.4h-4.4zM548.3 594.9h4.4v4.4h-4.4zM516.9 595.0h4.4v4.4h-4.4zM553.9 595.5h4.4v4.4h-4.4zM473.9 594.9h4.4v4.4h-4.4zM517.2 595.0h4.4v4.4h-4.4zM553.6 595.3h4.4v4.4h-4.4zM542.5 595.0h4.4v4.4h-4.4zM498.2 595.0h4.4v4.4h-4.4zM511.2 595.6h4.4v4.4h-4.4zM558.6 595.5h4.4v4.4h-4.4zM503.2 596.1h4.4v4.4h-4.4zM535.9 596.3h4.4v4.4h-4.4zM530.9 596.6h4.4v4.4h-4.4zM501.1 596.5h4.4v4.4h-4.4zM563.8 596.0h4.4v4.4h-4.4zM483.8 596.7h4.4v4.4h-4.4zM546.4 596.6h4.4v4.4h-4.4zM516.4 596.8h4.4v4.4h-4.4zM549.5 596.3h4.4v4.4h-4.4zM442.7 595.9h4.4v4.4h-4.4zM505.9 596.3h4.4v4.4h-4.4zM524.2 596.1h4.4v4.4h-4.4zM549.9 596.2h4.4v4.4h-4.4zM501.4 597.3h4.4v4.4h-4.4zM518.2 597.7h4.4v4.4h-4.4zM575.8 597.5h4.4v4.4h-4.4zM521.2 597.2h4.4v4.4h-4.4zM525.7 597.3h4.4v4.4h-4.4zM556.9 597.0h4.4v4.4h-4.4zM528.4 597.6h4.4v4.4h-4.4zM474.5 597.7h4.4v4.4h-4.4zM454.3 597.8h4.4v4.4h-4.4zM550.4 597.0h4.4v4.4h-4.4zM526.5 597.5h4.4v4.4h-4.4zM533.2 597.5h4.4v4.4h-4.4zM517.5 597.2h4.4v4.4h-4.4zM473.9 596.9h4.4v4.4h-4.4zM558.5 598.1h4.4v4.4h-4.4zM509.2 598.0h4.4v4.4h-4.4zM470.4 597.8h4.4v4.4h-4.4zM494.4 598.0h4.4v4.4h-4.4zM576.1 598.4h4.4v4.4h-4.4zM469.0 598.0h4.4v4.4h-4.4zM481.9 598.4h4.4v4.4h-4.4zM561.8 598.6h4.4v4.4h-4.4zM522.2 598.0h4.4v4.4h-4.4zM514.4 598.2h4.4v4.4h-4.4zM510.0 598.2h4.4v4.4h-4.4zM535.1 598.0h4.4v4.4h-4.4zM529.3 597.9h4.4v4.4h-4.4zM495.2 598.8h4.4v4.4h-4.4zM505.6 599.2h4.4v4.4h-4.4zM535.4 599.1h4.4v4.4h-4.4zM462.2 599.7h4.4v4.4h-4.4zM541.2 598.9h4.4v4.4h-4.4zM495.8 599.7h4.4v4.4h-4.4zM528.0 598.9h4.4v4.4h-4.4zM598.7 598.8h4.4v4.4h-4.4zM539.0 599.7h4.4v4.4h-4.4zM517.4 599.6h4.4v4.4h-4.4zM507.4 599.5h4.4v4.4h-4.4zM539.6 599.0h4.4v4.4h-4.4zM531.7 599.3h4.4v4.4h-4.4zM544.2 599.4h4.4v4.4h-4.4zM550.5 599.0h4.4v4.4h-4.4zM508.5 600.3h4.4v4.4h-4.4zM535.3 600.2h4.4v4.4h-4.4zM550.8 600.0h4.4v4.4h-4.4zM520.2 600.8h4.4v4.4h-4.4zM480.9 599.9h4.4v4.4h-4.4zM475.9 599.8h4.4v4.4h-4.4zM463.2 600.7h4.4v4.4h-4.4zM548.9 600.5h4.4v4.4h-4.4zM469.2 600.3h4.4v4.4h-4.4zM541.3 600.5h4.4v4.4h-4.4zM523.4 600.5h4.4v4.4h-4.4zM548.1 599.8h4.4v4.4h-4.4zM546.7 600.4h4.4v4.4h-4.4zM519.7 600.3h4.4v4.4h-4.4zM547.0 601.2h4.4v4.4h-4.4zM535.3 601.8h4.4v4.4h-4.4zM539.5 601.2h4.4v4.4h-4.4zM494.3 601.6h4.4v4.4h-4.4zM535.6 601.4h4.4v4.4h-4.4zM555.9 601.1h4.4v4.4h-4.4zM558.9 601.2h4.4v4.4h-4.4zM509.6 601.6h4.4v4.4h-4.4zM535.7 601.1h4.4v4.4h-4.4zM504.2 601.8h4.4v4.4h-4.4zM512.0 601.4h4.4v4.4h-4.4zM468.2 601.3h4.4v4.4h-4.4zM537.3 601.4h4.4v4.4h-4.4zM525.2 601.1h4.4v4.4h-4.4zM529.7 601.9h4.4v4.4h-4.4zM515.7 602.6h4.4v4.4h-4.4zM465.2 602.3h4.4v4.4h-4.4zM551.6 602.4h4.4v4.4h-4.4zM533.2 601.9h4.4v4.4h-4.4zM507.1 601.9h4.4v4.4h-4.4zM564.6 602.2h4.4v4.4h-4.4zM483.0 602.6h4.4v4.4h-4.4zM529.4 602.5h4.4v4.4h-4.4zM481.9 602.1h4.4v4.4h-4.4zM508.2 602.2h4.4v4.4h-4.4zM499.5 602.5h4.4v4.4h-4.4zM559.8 601.9h4.4v4.4h-4.4zM501.9 602.5h4.4v4.4h-4.4zM522.5 602.9h4.4v4.4h-4.4zM472.6 603.0h4.4v4.4h-4.4zM551.1 603.5h4.4v4.4h-4.4zM551.4 603.0h4.4v4.4h-4.4zM475.6 603.3h4.4v4.4h-4.4zM535.6 602.9h4.4v4.4h-4.4zM581.8 603.3h4.4v4.4h-4.4zM577.4 602.9h4.4v4.4h-4.4zM515.0 603.5h4.4v4.4h-4.4zM517.6 603.1h4.4v4.4h-4.4zM512.6 603.7h4.4v4.4h-4.4zM479.4 603.6h4.4v4.4h-4.4zM518.3 602.9h4.4v4.4h-4.4zM534.9 602.8h4.4v4.4h-4.4zM452.8 604.5h4.4v4.4h-4.4zM580.0 604.5h4.4v4.4h-4.4zM476.5 603.8h4.4v4.4h-4.4zM499.7 604.1h4.4v4.4h-4.4zM539.1 604.1h4.4v4.4h-4.4zM508.4 604.3h4.4v4.4h-4.4zM540.2 604.0h4.4v4.4h-4.4zM456.0 604.5h4.4v4.4h-4.4zM503.3 604.0h4.4v4.4h-4.4zM482.0 604.2h4.4v4.4h-4.4zM561.9 604.8h4.4v4.4h-4.4zM532.2 604.0h4.4v4.4h-4.4zM529.6 604.1h4.4v4.4h-4.4zM581.0 604.8h4.4v4.4h-4.4zM556.5 605.0h4.4v4.4h-4.4zM539.6 605.4h4.4v4.4h-4.4zM519.9 604.9h4.4v4.4h-4.4zM433.5 605.4h4.4v4.4h-4.4zM459.0 605.7h4.4v4.4h-4.4zM547.4 605.0h4.4v4.4h-4.4zM504.0 605.1h4.4v4.4h-4.4zM475.8 605.1h4.4v4.4h-4.4zM507.7 604.9h4.4v4.4h-4.4zM513.7 604.8h4.4v4.4h-4.4zM542.6 605.6h4.4v4.4h-4.4zM560.2 605.6h4.4v4.4h-4.4zM522.6 605.6h4.4v4.4h-4.4zM505.6 605.2h4.4v4.4h-4.4zM539.3 606.6h4.4v4.4h-4.4zM569.4 606.6h4.4v4.4h-4.4zM509.5 606.3h4.4v4.4h-4.4zM475.8 606.7h4.4v4.4h-4.4zM565.3 606.0h4.4v4.4h-4.4zM490.7 606.2h4.4v4.4h-4.4zM484.7 606.7h4.4v4.4h-4.4zM513.5 606.5h4.4v4.4h-4.4zM514.1 606.4h4.4v4.4h-4.4zM520.1 606.4h4.4v4.4h-4.4zM490.5 606.2h4.4v4.4h-4.4zM459.9 605.8h4.4v4.4h-4.4zM466.5 605.8h4.4v4.4h-4.4zM549.1 606.6h4.4v4.4h-4.4zM499.5 606.2h4.4v4.4h-4.4zM521.7 607.2h4.4v4.4h-4.4zM547.3 606.8h4.4v4.4h-4.4zM517.0 607.1h4.4v4.4h-4.4zM491.5 607.5h4.4v4.4h-4.4zM567.5 607.3h4.4v4.4h-4.4zM530.3 607.6h4.4v4.4h-4.4zM493.8 606.9h4.4v4.4h-4.4zM471.8 606.9h4.4v4.4h-4.4zM538.0 607.0h4.4v4.4h-4.4zM460.7 607.5h4.4v4.4h-4.4zM538.5 607.8h4.4v4.4h-4.4zM518.4 607.0h4.4v4.4h-4.4zM560.1 607.0h4.4v4.4h-4.4zM483.3 607.5h4.4v4.4h-4.4zM488.6 607.5h4.4v4.4h-4.4zM526.6 608.1h4.4v4.4h-4.4zM583.6 607.8h4.4v4.4h-4.4zM525.0 608.0h4.4v4.4h-4.4zM582.2 607.8h4.4v4.4h-4.4zM462.6 608.1h4.4v4.4h-4.4zM488.7 608.4h4.4v4.4h-4.4zM455.5 608.0h4.4v4.4h-4.4zM472.8 608.4h4.4v4.4h-4.4zM487.5 608.2h4.4v4.4h-4.4zM561.1 608.5h4.4v4.4h-4.4zM490.1 607.9h4.4v4.4h-4.4zM511.0 608.2h4.4v4.4h-4.4zM535.8 608.4h4.4v4.4h-4.4zM571.6 608.5h4.4v4.4h-4.4zM494.6 608.6h4.4v4.4h-4.4zM483.2 609.5h4.4v4.4h-4.4zM521.0 609.7h4.4v4.4h-4.4zM487.7 609.7h4.4v4.4h-4.4zM556.3 609.2h4.4v4.4h-4.4zM516.9 609.6h4.4v4.4h-4.4zM485.2 608.9h4.4v4.4h-4.4zM464.4 609.4h4.4v4.4h-4.4zM511.3 609.0h4.4v4.4h-4.4zM539.9 609.0h4.4v4.4h-4.4zM486.8 608.9h4.4v4.4h-4.4zM471.1 608.9h4.4v4.4h-4.4zM540.6 608.9h4.4v4.4h-4.4zM462.2 609.4h4.4v4.4h-4.4zM614.7 609.5h4.4v4.4h-4.4zM522.7 609.6h4.4v4.4h-4.4zM520.6 610.1h4.4v4.4h-4.4zM534.9 610.5h4.4v4.4h-4.4zM562.9 610.6h4.4v4.4h-4.4zM586.8 610.3h4.4v4.4h-4.4zM482.8 610.1h4.4v4.4h-4.4zM530.6 609.9h4.4v4.4h-4.4zM564.0 610.3h4.4v4.4h-4.4zM551.2 610.5h4.4v4.4h-4.4zM501.6 610.3h4.4v4.4h-4.4zM582.0 609.9h4.4v4.4h-4.4zM540.5 610.5h4.4v4.4h-4.4zM564.1 610.5h4.4v4.4h-4.4zM504.8 610.3h4.4v4.4h-4.4zM526.0 610.6h4.4v4.4h-4.4zM479.1 610.9h4.4v4.4h-4.4zM495.4 611.1h4.4v4.4h-4.4zM548.7 611.7h4.4v4.4h-4.4zM479.4 611.4h4.4v4.4h-4.4zM508.1 611.2h4.4v4.4h-4.4zM555.5 611.5h4.4v4.4h-4.4zM495.7 611.1h4.4v4.4h-4.4zM506.4 611.3h4.4v4.4h-4.4zM481.4 611.0h4.4v4.4h-4.4zM490.3 611.7h4.4v4.4h-4.4zM524.9 611.0h4.4v4.4h-4.4zM553.4 611.7h4.4v4.4h-4.4zM499.8 610.8h4.4v4.4h-4.4zM491.6 611.1h4.4v4.4h-4.4zM546.1 611.2h4.4v4.4h-4.4zM507.9 612.3h4.4v4.4h-4.4zM577.0 611.9h4.4v4.4h-4.4zM555.8 612.5h4.4v4.4h-4.4zM513.1 612.0h4.4v4.4h-4.4zM482.5 612.5h4.4v4.4h-4.4zM555.5 611.8h4.4v4.4h-4.4zM516.5 612.1h4.4v4.4h-4.4zM495.8 612.1h4.4v4.4h-4.4zM557.2 612.1h4.4v4.4h-4.4zM530.8 611.8h4.4v4.4h-4.4zM528.9 612.1h4.4v4.4h-4.4zM518.1 612.5h4.4v4.4h-4.4zM536.1 612.5h4.4v4.4h-4.4zM546.3 612.0h4.4v4.4h-4.4zM476.0 612.6h4.4v4.4h-4.4zM557.2 613.5h4.4v4.4h-4.4zM489.7 613.2h4.4v4.4h-4.4zM533.6 613.4h4.4v4.4h-4.4zM499.8 613.7h4.4v4.4h-4.4zM531.9 613.1h4.4v4.4h-4.4zM585.7 613.4h4.4v4.4h-4.4zM516.5 613.5h4.4v4.4h-4.4zM524.6 613.1h4.4v4.4h-4.4zM535.5 613.4h4.4v4.4h-4.4zM497.3 613.4h4.4v4.4h-4.4zM488.1 613.3h4.4v4.4h-4.4zM458.7 612.9h4.4v4.4h-4.4zM530.5 613.7h4.4v4.4h-4.4zM548.3 613.1h4.4v4.4h-4.4zM515.6 613.7h4.4v4.4h-4.4zM478.5 614.4h4.4v4.4h-4.4zM552.5 614.1h4.4v4.4h-4.4zM499.5 614.3h4.4v4.4h-4.4zM521.4 613.9h4.4v4.4h-4.4zM573.3 614.3h4.4v4.4h-4.4zM488.0 613.9h4.4v4.4h-4.4zM499.0 614.5h4.4v4.4h-4.4zM488.3 614.3h4.4v4.4h-4.4zM518.6 614.1h4.4v4.4h-4.4zM543.8 614.3h4.4v4.4h-4.4zM527.7 614.4h4.4v4.4h-4.4zM534.3 614.1h4.4v4.4h-4.4zM502.8 614.7h4.4v4.4h-4.4zM562.8 614.7h4.4v4.4h-4.4zM514.4 614.4h4.4v4.4h-4.4zM506.5 615.3h4.4v4.4h-4.4zM519.2 614.9h4.4v4.4h-4.4zM469.6 615.0h4.4v4.4h-4.4zM564.5 615.8h4.4v4.4h-4.4zM524.8 615.7h4.4v4.4h-4.4zM474.0 615.4h4.4v4.4h-4.4zM463.2 615.7h4.4v4.4h-4.4zM523.3 614.9h4.4v4.4h-4.4zM490.9 615.5h4.4v4.4h-4.4zM465.4 615.7h4.4v4.4h-4.4zM546.9 615.8h4.4v4.4h-4.4zM557.4 615.6h4.4v4.4h-4.4zM553.8 615.1h4.4v4.4h-4.4zM571.4 614.9h4.4v4.4h-4.4zM483.7 616.1h4.4v4.4h-4.4zM473.4 616.2h4.4v4.4h-4.4zM540.9 616.6h4.4v4.4h-4.4zM569.1 616.8h4.4v4.4h-4.4zM491.7 616.1h4.4v4.4h-4.4zM509.6 616.4h4.4v4.4h-4.4zM471.3 616.4h4.4v4.4h-4.4zM523.9 616.0h4.4v4.4h-4.4zM502.0 616.2h4.4v4.4h-4.4zM490.9 616.8h4.4v4.4h-4.4zM507.5 616.1h4.4v4.4h-4.4zM558.7 616.7h4.4v4.4h-4.4zM513.0 616.6h4.4v4.4h-4.4zM557.8 616.7h4.4v4.4h-4.4zM541.2 616.5h4.4v4.4h-4.4zM560.3 617.6h4.4v4.4h-4.4zM472.0 617.1h4.4v4.4h-4.4zM521.0 616.9h4.4v4.4h-4.4zM512.4 617.1h4.4v4.4h-4.4zM527.7 617.2h4.4v4.4h-4.4zM506.3 617.1h4.4v4.4h-4.4zM543.6 617.6h4.4v4.4h-4.4zM541.1 616.9h4.4v4.4h-4.4zM548.8 616.9h4.4v4.4h-4.4zM475.8 617.5h4.4v4.4h-4.4zM488.3 617.8h4.4v4.4h-4.4zM488.7 617.6h4.4v4.4h-4.4zM518.8 617.8h4.4v4.4h-4.4zM490.8 617.4h4.4v4.4h-4.4zM498.5 618.6h4.4v4.4h-4.4zM514.8 618.5h4.4v4.4h-4.4zM475.3 618.2h4.4v4.4h-4.4zM496.9 618.0h4.4v4.4h-4.4zM470.3 618.8h4.4v4.4h-4.4zM485.2 618.5h4.4v4.4h-4.4zM603.6 617.9h4.4v4.4h-4.4zM477.6 618.6h4.4v4.4h-4.4zM525.4 618.7h4.4v4.4h-4.4zM496.5 618.5h4.4v4.4h-4.4zM530.2 618.3h4.4v4.4h-4.4zM465.3 617.9h4.4v4.4h-4.4zM548.3 618.3h4.4v4.4h-4.4zM514.4 618.8h4.4v4.4h-4.4zM483.4 619.5h4.4v4.4h-4.4zM521.8 619.6h4.4v4.4h-4.4zM493.0 619.6h4.4v4.4h-4.4zM569.9 619.0h4.4v4.4h-4.4zM475.9 619.0h4.4v4.4h-4.4zM492.3 619.3h4.4v4.4h-4.4zM579.1 619.6h4.4v4.4h-4.4zM532.7 618.9h4.4v4.4h-4.4zM544.1 619.2h4.4v4.4h-4.4zM552.2 619.0h4.4v4.4h-4.4zM484.9 619.0h4.4v4.4h-4.4zM525.8 619.3h4.4v4.4h-4.4zM522.3 619.7h4.4v4.4h-4.4zM526.5 620.3h4.4v4.4h-4.4zM520.6 620.6h4.4v4.4h-4.4zM502.8 620.7h4.4v4.4h-4.4zM498.4 620.6h4.4v4.4h-4.4zM491.6 620.2h4.4v4.4h-4.4zM538.5 620.5h4.4v4.4h-4.4zM584.9 620.1h4.4v4.4h-4.4zM523.5 620.8h4.4v4.4h-4.4zM471.5 620.0h4.4v4.4h-4.4zM486.5 620.4h4.4v4.4h-4.4zM571.9 619.9h4.4v4.4h-4.4zM521.1 620.0h4.4v4.4h-4.4zM575.2 620.6h4.4v4.4h-4.4zM498.7 620.9h4.4v4.4h-4.4zM542.0 621.1h4.4v4.4h-4.4zM547.1 621.2h4.4v4.4h-4.4zM524.8 621.2h4.4v4.4h-4.4zM517.8 621.1h4.4v4.4h-4.4zM487.3 621.1h4.4v4.4h-4.4zM552.9 620.9h4.4v4.4h-4.4zM522.6 621.6h4.4v4.4h-4.4zM510.5 621.5h4.4v4.4h-4.4zM507.1 621.7h4.4v4.4h-4.4zM487.3 621.0h4.4v4.4h-4.4zM524.0 621.3h4.4v4.4h-4.4zM543.7 621.6h4.4v4.4h-4.4zM524.7 621.1h4.4v4.4h-4.4zM498.8 622.3h4.4v4.4h-4.4zM486.9 622.0h4.4v4.4h-4.4zM551.5 622.4h4.4v4.4h-4.4zM521.8 622.0h4.4v4.4h-4.4zM533.1 622.6h4.4v4.4h-4.4zM573.2 622.2h4.4v4.4h-4.4zM569.8 622.3h4.4v4.4h-4.4zM494.6 621.9h4.4v4.4h-4.4zM496.7 621.9h4.4v4.4h-4.4zM499.9 622.6h4.4v4.4h-4.4zM492.8 622.7h4.4v4.4h-4.4zM467.3 622.3h4.4v4.4h-4.4zM513.1 622.0h4.4v4.4h-4.4zM523.2 623.3h4.4v4.4h-4.4zM561.1 623.6h4.4v4.4h-4.4zM482.1 622.8h4.4v4.4h-4.4zM482.6 623.2h4.4v4.4h-4.4zM542.5 623.7h4.4v4.4h-4.4zM553.5 623.3h4.4v4.4h-4.4zM489.2 623.0h4.4v4.4h-4.4zM580.1 623.4h4.4v4.4h-4.4zM530.1 623.3h4.4v4.4h-4.4zM494.0 623.5h4.4v4.4h-4.4zM541.4 623.3h4.4v4.4h-4.4zM565.2 622.9h4.4v4.4h-4.4zM529.8 623.3h4.4v4.4h-4.4zM546.7 623.9h4.4v4.4h-4.4zM594.9 624.7h4.4v4.4h-4.4zM543.4 624.3h4.4v4.4h-4.4zM508.7 624.8h4.4v4.4h-4.4zM493.8 623.9h4.4v4.4h-4.4zM529.1 624.6h4.4v4.4h-4.4zM491.3 623.9h4.4v4.4h-4.4zM534.2 623.9h4.4v4.4h-4.4zM472.4 624.7h4.4v4.4h-4.4zM473.3 623.9h4.4v4.4h-4.4zM519.0 624.7h4.4v4.4h-4.4zM490.4 624.3h4.4v4.4h-4.4zM533.6 624.7h4.4v4.4h-4.4zM539.3 625.2h4.4v4.4h-4.4zM533.0 625.0h4.4v4.4h-4.4zM520.7 625.4h4.4v4.4h-4.4zM524.7 625.0h4.4v4.4h-4.4zM549.9 625.5h4.4v4.4h-4.4zM465.8 625.4h4.4v4.4h-4.4zM490.1 625.6h4.4v4.4h-4.4zM472.3 624.9h4.4v4.4h-4.4zM496.3 624.9h4.4v4.4h-4.4zM499.8 625.0h4.4v4.4h-4.4zM467.1 624.9h4.4v4.4h-4.4zM504.7 625.6h4.4v4.4h-4.4zM595.5 626.6h4.4v4.4h-4.4zM495.4 625.9h4.4v4.4h-4.4zM521.4 625.9h4.4v4.4h-4.4zM512.6 625.8h4.4v4.4h-4.4zM517.2 626.2h4.4v4.4h-4.4zM522.0 625.9h4.4v4.4h-4.4zM494.5 625.8h4.4v4.4h-4.4zM520.4 626.1h4.4v4.4h-4.4zM517.9 626.1h4.4v4.4h-4.4zM557.4 626.6h4.4v4.4h-4.4zM512.0 626.1h4.4v4.4h-4.4zM482.1 626.8h4.4v4.4h-4.4zM460.4 627.0h4.4v4.4h-4.4zM568.0 627.7h4.4v4.4h-4.4zM532.2 627.5h4.4v4.4h-4.4zM525.2 627.1h4.4v4.4h-4.4zM552.2 627.6h4.4v4.4h-4.4zM562.7 627.7h4.4v4.4h-4.4zM446.9 626.9h4.4v4.4h-4.4zM493.6 626.8h4.4v4.4h-4.4zM524.7 627.5h4.4v4.4h-4.4zM525.4 627.5h4.4v4.4h-4.4zM529.7 627.3h4.4v4.4h-4.4zM502.4 627.3h4.4v4.4h-4.4zM563.0 628.7h4.4v4.4h-4.4zM507.7 628.2h4.4v4.4h-4.4zM549.0 628.0h4.4v4.4h-4.4zM591.6 628.1h4.4v4.4h-4.4zM550.9 628.3h4.4v4.4h-4.4zM491.1 628.1h4.4v4.4h-4.4zM566.5 628.3h4.4v4.4h-4.4zM545.9 627.9h4.4v4.4h-4.4zM531.0 628.2h4.4v4.4h-4.4zM488.1 628.4h4.4v4.4h-4.4zM494.4 628.2h4.4v4.4h-4.4zM495.2 628.7h4.4v4.4h-4.4zM543.0 629.3h4.4v4.4h-4.4zM450.8 629.0h4.4v4.4h-4.4zM580.4 629.5h4.4v4.4h-4.4zM588.7 629.4h4.4v4.4h-4.4zM501.4 628.9h4.4v4.4h-4.4zM543.0 629.1h4.4v4.4h-4.4zM505.0 629.6h4.4v4.4h-4.4zM511.2 629.1h4.4v4.4h-4.4zM551.8 629.4h4.4v4.4h-4.4zM482.7 629.6h4.4v4.4h-4.4zM478.0 629.3h4.4v4.4h-4.4zM507.3 629.7h4.4v4.4h-4.4zM464.8 630.6h4.4v4.4h-4.4zM506.7 630.2h4.4v4.4h-4.4zM520.7 629.9h4.4v4.4h-4.4zM579.7 630.2h4.4v4.4h-4.4zM566.3 630.1h4.4v4.4h-4.4zM477.4 629.9h4.4v4.4h-4.4zM544.6 630.5h4.4v4.4h-4.4zM481.1 630.2h4.4v4.4h-4.4zM499.8 630.1h4.4v4.4h-4.4zM497.9 630.1h4.4v4.4h-4.4zM520.3 630.6h4.4v4.4h-4.4zM516.7 631.1h4.4v4.4h-4.4zM527.1 631.5h4.4v4.4h-4.4zM561.0 631.2h4.4v4.4h-4.4zM536.4 631.8h4.4v4.4h-4.4zM555.3 631.1h4.4v4.4h-4.4zM541.3 631.5h4.4v4.4h-4.4zM492.4 630.9h4.4v4.4h-4.4zM488.4 631.0h4.4v4.4h-4.4zM546.7 631.0h4.4v4.4h-4.4zM490.3 630.9h4.4v4.4h-4.4zM559.6 632.3h4.4v4.4h-4.4zM581.7 632.0h4.4v4.4h-4.4zM523.9 631.9h4.4v4.4h-4.4zM550.1 632.4h4.4v4.4h-4.4zM527.7 632.0h4.4v4.4h-4.4zM525.8 632.0h4.4v4.4h-4.4zM508.0 632.8h4.4v4.4h-4.4zM520.9 632.0h4.4v4.4h-4.4zM475.2 632.2h4.4v4.4h-4.4zM531.3 632.4h4.4v4.4h-4.4zM520.5 633.7h4.4v4.4h-4.4zM492.2 633.2h4.4v4.4h-4.4zM483.0 633.0h4.4v4.4h-4.4zM553.2 633.2h4.4v4.4h-4.4zM527.1 633.6h4.4v4.4h-4.4zM536.6 633.1h4.4v4.4h-4.4zM481.7 633.4h4.4v4.4h-4.4zM503.0 633.7h4.4v4.4h-4.4zM564.9 632.9h4.4v4.4h-4.4zM532.5 634.6h4.4v4.4h-4.4zM573.1 634.4h4.4v4.4h-4.4zM518.8 634.3h4.4v4.4h-4.4zM507.6 634.7h4.4v4.4h-4.4zM551.6 634.5h4.4v4.4h-4.4zM550.3 634.0h4.4v4.4h-4.4zM498.1 634.0h4.4v4.4h-4.4zM463.7 634.3h4.4v4.4h-4.4zM519.7 633.9h4.4v4.4h-4.4zM486.3 635.8h4.4v4.4h-4.4zM484.8 635.8h4.4v4.4h-4.4zM550.1 635.3h4.4v4.4h-4.4zM464.4 635.7h4.4v4.4h-4.4zM540.2 635.0h4.4v4.4h-4.4zM527.6 635.5h4.4v4.4h-4.4zM477.7 635.2h4.4v4.4h-4.4zM556.4 634.9h4.4v4.4h-4.4zM525.6 636.7h4.4v4.4h-4.4zM585.8 636.3h4.4v4.4h-4.4zM548.6 636.2h4.4v4.4h-4.4zM503.4 636.1h4.4v4.4h-4.4zM509.7 636.0h4.4v4.4h-4.4zM533.9 636.0h4.4v4.4h-4.4zM584.4 635.9h4.4v4.4h-4.4zM538.5 636.3h4.4v4.4h-4.4zM480.4 637.5h4.4v4.4h-4.4zM515.4 637.7h4.4v4.4h-4.4zM535.9 637.2h4.4v4.4h-4.4zM521.3 637.6h4.4v4.4h-4.4zM533.2 637.1h4.4v4.4h-4.4zM555.6 637.7h4.4v4.4h-4.4zM499.6 637.4h4.4v4.4h-4.4zM555.0 637.2h4.4v4.4h-4.4zM496.5 638.3h4.4v4.4h-4.4zM565.3 637.9h4.4v4.4h-4.4zM520.2 638.1h4.4v4.4h-4.4zM492.7 638.4h4.4v4.4h-4.4zM543.3 638.8h4.4v4.4h-4.4zM514.2 638.8h4.4v4.4h-4.4zM529.1 637.9h4.4v4.4h-4.4zM518.5 638.9h4.4v4.4h-4.4zM519.3 639.1h4.4v4.4h-4.4zM514.4 639.3h4.4v4.4h-4.4zM518.3 639.4h4.4v4.4h-4.4zM523.9 639.4h4.4v4.4h-4.4zM544.0 639.2h4.4v4.4h-4.4zM502.9 640.4h4.4v4.4h-4.4zM518.5 640.4h4.4v4.4h-4.4zM501.0 640.3h4.4v4.4h-4.4zM527.6 640.5h4.4v4.4h-4.4zM480.2 640.2h4.4v4.4h-4.4zM570.6 640.0h4.4v4.4h-4.4zM489.8 641.2h4.4v4.4h-4.4zM534.3 640.8h4.4v4.4h-4.4zM568.7 641.6h4.4v4.4h-4.4zM518.3 641.7h4.4v4.4h-4.4zM527.0 641.5h4.4v4.4h-4.4zM536.1 641.4h4.4v4.4h-4.4zM506.2 641.8h4.4v4.4h-4.4zM494.5 642.2h4.4v4.4h-4.4zM554.0 642.1h4.4v4.4h-4.4zM523.5 642.1h4.4v4.4h-4.4zM488.2 642.3h4.4v4.4h-4.4zM474.6 643.7h4.4v4.4h-4.4zM496.2 642.8h4.4v4.4h-4.4zM540.6 643.6h4.4v4.4h-4.4zM533.1 643.7h4.4v4.4h-4.4zM562.7 643.2h4.4v4.4h-4.4zM496.1 644.2h4.4v4.4h-4.4zM489.4 643.8h4.4v4.4h-4.4zM512.1 644.1h4.4v4.4h-4.4zM502.0 644.2h4.4v4.4h-4.4zM504.6 644.0h4.4v4.4h-4.4zM523.9 645.1h4.4v4.4h-4.4zM535.4 645.4h4.4v4.4h-4.4zM545.0 645.5h4.4v4.4h-4.4zM484.7 645.2h4.4v4.4h-4.4zM545.0 644.8h4.4v4.4h-4.4zM567.9 646.0h4.4v4.4h-4.4zM525.2 646.2h4.4v4.4h-4.4zM546.1 645.9h4.4v4.4h-4.4zM475.8 646.3h4.4v4.4h-4.4zM496.2 647.0h4.4v4.4h-4.4zM524.7 647.0h4.4v4.4h-4.4zM547.5 647.5h4.4v4.4h-4.4zM553.3 647.9h4.4v4.4h-4.4zM513.4 648.1h4.4v4.4h-4.4zM549.4 648.5h4.4v4.4h-4.4zM545.9 648.4h4.4v4.4h-4.4zM556.3 649.7h4.4v4.4h-4.4zM472.7 648.9h4.4v4.4h-4.4zM508.0 649.5h4.4v4.4h-4.4zM516.2 649.8h4.4v4.4h-4.4zM553.5 650.0h4.4v4.4h-4.4zM499.7 650.9h4.4v4.4h-4.4zM512.8 651.7h4.4v4.4h-4.4zM547.6 652.4h4.4v4.4h-4.4zM497.8 651.9h4.4v4.4h-4.4z" fill="#add8e6"/>
<path d="M465.5 584.5H552.2M507.5 531.5V600.0M474.7 600.5H554.8M504.5 592.0V610.0M476.0 607.5H555.0M505.5 598.0V616.0M477.0 611.5H561.4M509.5 602.0V620.0M470.0 616.5H561.4M510.5 607.0V625.0M468.0 621.5H561.4M510.5 612.0V631.0M472.0 626.5H566.6M515.5 617.0V636.0M474.7 632.5H571.9M522.5 622.0V642.0M482.5 638.5H581.0M524.5 628.0V648.0M482.0 650.5H590.3M525.5 640.0V680.0M472.0 616.5H596.0M526.5 605.0V628.0" stroke="#2a2a2a" stroke-width="0.9" fill="none" opacity="0.9"/>
<path d="M492.5 597.5h3.7v3.7h-3.7zM495.1 598.9h3.7v3.7h-3.7zM497.8 599.6h3.7v3.7h-3.7zM509.0 595.8h3.7v3.7h-3.7zM509.6 600.9h3.7v3.7h-3.7zM526.6 595.8h3.7v3.7h-3.7zM563.4 591.5h3.7v3.7h-3.7zM562.1 602.2h3.7v3.7h-3.7zM482.0 604.9h3.7v3.7h-3.7zM475.4 609.6h3.7v3.7h-3.7zM562.1 612.5h3.7v3.7h-3.7zM576.5 611.2h3.7v3.7h-3.7zM465.8 615.1h3.7v3.7h-3.7zM474.9 617.5h3.7v3.7h-3.7zM497.8 617.8h3.7v3.7h-3.7zM543.2 615.4h3.7v3.7h-3.7zM547.1 618.0h3.7v3.7h-3.7zM551.6 618.9h3.7v3.7h-3.7zM478.0 623.4h3.7v3.7h-3.7zM480.1 627.5h3.7v3.7h-3.7zM538.5 625.4h3.7v3.7h-3.7zM552.1 629.6h3.7v3.7h-3.7zM603.6 625.9h3.7v3.7h-3.7zM503.8 636.9h3.7v3.7h-3.7zM551.1 640.9h3.7v3.7h-3.7zM562.1 639.9h3.7v3.7h-3.7zM631.1 612.1h3.7v3.7h-3.7zM563.6 591.1h3.7v3.7h-3.7zM474.6 603.1h3.7v3.7h-3.7zM503.1 637.1h3.7v3.7h-3.7z" fill="#f6b540" stroke="#3a3020" stroke-width="0.55"/>
<rect x="504.2" y="581.1" width="6.6" height="6.6" fill="#ffffff" stroke="#000" stroke-width="1.3"/>
<rect x="501.6" y="597.4" width="6.6" height="6.6" fill="#ffffff" stroke="#000" stroke-width="1.3"/>
<rect x="502.1" y="604.0" width="6.6" height="6.6" fill="#ffffff" stroke="#000" stroke-width="1.3"/>
<rect x="506.3" y="607.9" width="6.6" height="6.6" fill="#ffffff" stroke="#000" stroke-width="1.3"/>
<rect x="507.6" y="612.7" width="6.6" height="6.6" fill="#ffffff" stroke="#000" stroke-width="1.3"/>
<rect x="506.8" y="618.4" width="6.6" height="6.6" fill="#ffffff" stroke="#000" stroke-width="1.3"/>
<rect x="512.1" y="623.2" width="6.6" height="6.6" fill="#ffffff" stroke="#000" stroke-width="1.3"/>
<rect x="519.2" y="629.0" width="6.6" height="6.6" fill="#ffffff" stroke="#000" stroke-width="1.3"/>
<rect x="520.8" y="635.5" width="6.6" height="6.6" fill="#ffffff" stroke="#000" stroke-width="1.3"/>
<rect x="522.1" y="646.8" width="6.6" height="6.6" fill="#ffffff" stroke="#000" stroke-width="1.3"/>
<rect x="523.4" y="613.2" width="6.6" height="6.6" fill="#ffff00" stroke="#000" stroke-width="1.3"/>
</g>
<rect x="36.00" y="5.20" width="297.5" height="393.5" fill="none" stroke="#1a1a1a" stroke-width="1.1"/>
<line x1="33.00" y1="5.20" x2="36.00" y2="5.20" stroke="#1a1a1a" stroke-width="1"/>
<text x="33.40" y="9" text-anchor="end" font-size="12.8">0</text>
<line x1="34.00" y1="33.31" x2="36.00" y2="33.31" stroke="#1a1a1a" stroke-width="1"/>
<line x1="33.00" y1="61.41" x2="36.00" y2="61.41" stroke="#1a1a1a" stroke-width="1"/>
<text x="33.40" y="66" text-anchor="end" font-size="12.8">10</text>
<line x1="34.00" y1="89.52" x2="36.00" y2="89.52" stroke="#1a1a1a" stroke-width="1"/>
<line x1="33.00" y1="117.63" x2="36.00" y2="117.63" stroke="#1a1a1a" stroke-width="1"/>
<text x="33.40" y="122" text-anchor="end" font-size="12.8">20</text>
<line x1="34.00" y1="145.74" x2="36.00" y2="145.74" stroke="#1a1a1a" stroke-width="1"/>
<line x1="33.00" y1="173.84" x2="36.00" y2="173.84" stroke="#1a1a1a" stroke-width="1"/>
<text x="33.40" y="178" text-anchor="end" font-size="12.8">30</text>
<line x1="34.00" y1="201.95" x2="36.00" y2="201.95" stroke="#1a1a1a" stroke-width="1"/>
<line x1="33.00" y1="230.06" x2="36.00" y2="230.06" stroke="#1a1a1a" stroke-width="1"/>
<text x="33.40" y="234" text-anchor="end" font-size="12.8">40</text>
<line x1="34.00" y1="258.16" x2="36.00" y2="258.16" stroke="#1a1a1a" stroke-width="1"/>
<line x1="33.00" y1="286.27" x2="36.00" y2="286.27" stroke="#1a1a1a" stroke-width="1"/>
<text x="33.40" y="290" text-anchor="end" font-size="12.8">50</text>
<line x1="34.00" y1="314.38" x2="36.00" y2="314.38" stroke="#1a1a1a" stroke-width="1"/>
<line x1="33.00" y1="342.49" x2="36.00" y2="342.49" stroke="#1a1a1a" stroke-width="1"/>
<text x="33.40" y="347" text-anchor="end" font-size="12.8">60</text>
<line x1="34.00" y1="370.59" x2="36.00" y2="370.59" stroke="#1a1a1a" stroke-width="1"/>
<line x1="33.00" y1="398.70" x2="36.00" y2="398.70" stroke="#1a1a1a" stroke-width="1"/>
<text x="33.40" y="403" text-anchor="end" font-size="12.8">70</text>
<line x1="36.00" y1="398.70" x2="36.00" y2="402.20" stroke="#1a1a1a" stroke-width="1"/>
<line x1="61.77" y1="398.70" x2="61.77" y2="400.90" stroke="#1a1a1a" stroke-width="1"/>
<line x1="76.84" y1="398.70" x2="76.84" y2="400.90" stroke="#1a1a1a" stroke-width="1"/>
<line x1="87.54" y1="398.70" x2="87.54" y2="400.90" stroke="#1a1a1a" stroke-width="1"/>
<line x1="95.83" y1="398.70" x2="95.83" y2="400.90" stroke="#1a1a1a" stroke-width="1"/>
<line x1="102.61" y1="398.70" x2="102.61" y2="400.90" stroke="#1a1a1a" stroke-width="1"/>
<line x1="108.34" y1="398.70" x2="108.34" y2="400.90" stroke="#1a1a1a" stroke-width="1"/>
<line x1="113.30" y1="398.70" x2="113.30" y2="400.90" stroke="#1a1a1a" stroke-width="1"/>
<line x1="117.68" y1="398.70" x2="117.68" y2="400.90" stroke="#1a1a1a" stroke-width="1"/>
<text x="30.00" y="414" font-size="12.8">10<tspan dy="-6" font-size="9.2">−1</tspan></text>
<line x1="121.60" y1="398.70" x2="121.60" y2="402.20" stroke="#1a1a1a" stroke-width="1"/>
<line x1="147.37" y1="398.70" x2="147.37" y2="400.90" stroke="#1a1a1a" stroke-width="1"/>
<line x1="162.44" y1="398.70" x2="162.44" y2="400.90" stroke="#1a1a1a" stroke-width="1"/>
<line x1="173.14" y1="398.70" x2="173.14" y2="400.90" stroke="#1a1a1a" stroke-width="1"/>
<line x1="181.43" y1="398.70" x2="181.43" y2="400.90" stroke="#1a1a1a" stroke-width="1"/>
<line x1="188.21" y1="398.70" x2="188.21" y2="400.90" stroke="#1a1a1a" stroke-width="1"/>
<line x1="193.94" y1="398.70" x2="193.94" y2="400.90" stroke="#1a1a1a" stroke-width="1"/>
<line x1="198.90" y1="398.70" x2="198.90" y2="400.90" stroke="#1a1a1a" stroke-width="1"/>
<line x1="203.28" y1="398.70" x2="203.28" y2="400.90" stroke="#1a1a1a" stroke-width="1"/>
<text x="115.60" y="414" font-size="12.8">10<tspan dy="-6" font-size="9.2">0</tspan></text>
<line x1="207.20" y1="398.70" x2="207.20" y2="402.20" stroke="#1a1a1a" stroke-width="1"/>
<line x1="232.97" y1="398.70" x2="232.97" y2="400.90" stroke="#1a1a1a" stroke-width="1"/>
<line x1="248.04" y1="398.70" x2="248.04" y2="400.90" stroke="#1a1a1a" stroke-width="1"/>
<line x1="258.74" y1="398.70" x2="258.74" y2="400.90" stroke="#1a1a1a" stroke-width="1"/>
<line x1="267.03" y1="398.70" x2="267.03" y2="400.90" stroke="#1a1a1a" stroke-width="1"/>
<line x1="273.81" y1="398.70" x2="273.81" y2="400.90" stroke="#1a1a1a" stroke-width="1"/>
<line x1="279.54" y1="398.70" x2="279.54" y2="400.90" stroke="#1a1a1a" stroke-width="1"/>
<line x1="284.50" y1="398.70" x2="284.50" y2="400.90" stroke="#1a1a1a" stroke-width="1"/>
<line x1="288.88" y1="398.70" x2="288.88" y2="400.90" stroke="#1a1a1a" stroke-width="1"/>
<text x="201.20" y="414" font-size="12.8">10<tspan dy="-6" font-size="9.2">1</tspan></text>
<line x1="292.80" y1="398.70" x2="292.80" y2="402.20" stroke="#1a1a1a" stroke-width="1"/>
<line x1="318.57" y1="398.70" x2="318.57" y2="400.90" stroke="#1a1a1a" stroke-width="1"/>
<text x="286.80" y="414" font-size="12.8">10<tspan dy="-6" font-size="9.2">2</tspan></text>
<text x="39.00" y="21.80" font-size="17.6">a)</text>
<text x="331.00" y="19.00" text-anchor="end" font-size="16.3"><tspan font-weight="bold" font-style="italic">Iw</tspan> 11 Mar. 2011 - 10 Mar. 2012</text>
<rect x="387.30" y="5.00" width="297.5" height="393.5" fill="none" stroke="#1a1a1a" stroke-width="1.1"/>
<line x1="384.30" y1="5.00" x2="387.30" y2="5.00" stroke="#1a1a1a" stroke-width="1"/>
<text x="384.70" y="9" text-anchor="end" font-size="12.8">0</text>
<line x1="385.30" y1="33.11" x2="387.30" y2="33.11" stroke="#1a1a1a" stroke-width="1"/>
<line x1="384.30" y1="61.21" x2="387.30" y2="61.21" stroke="#1a1a1a" stroke-width="1"/>
<text x="384.70" y="65" text-anchor="end" font-size="12.8">10</text>
<line x1="385.30" y1="89.32" x2="387.30" y2="89.32" stroke="#1a1a1a" stroke-width="1"/>
<line x1="384.30" y1="117.43" x2="387.30" y2="117.43" stroke="#1a1a1a" stroke-width="1"/>
<text x="384.70" y="122" text-anchor="end" font-size="12.8">20</text>
<line x1="385.30" y1="145.54" x2="387.30" y2="145.54" stroke="#1a1a1a" stroke-width="1"/>
<line x1="384.30" y1="173.64" x2="387.30" y2="173.64" stroke="#1a1a1a" stroke-width="1"/>
<text x="384.70" y="178" text-anchor="end" font-size="12.8">30</text>
<line x1="385.30" y1="201.75" x2="387.30" y2="201.75" stroke="#1a1a1a" stroke-width="1"/>
<line x1="384.30" y1="229.86" x2="387.30" y2="229.86" stroke="#1a1a1a" stroke-width="1"/>
<text x="384.70" y="234" text-anchor="end" font-size="12.8">40</text>
<line x1="385.30" y1="257.96" x2="387.30" y2="257.96" stroke="#1a1a1a" stroke-width="1"/>
<line x1="384.30" y1="286.07" x2="387.30" y2="286.07" stroke="#1a1a1a" stroke-width="1"/>
<text x="384.70" y="290" text-anchor="end" font-size="12.8">50</text>
<line x1="385.30" y1="314.18" x2="387.30" y2="314.18" stroke="#1a1a1a" stroke-width="1"/>
<line x1="384.30" y1="342.29" x2="387.30" y2="342.29" stroke="#1a1a1a" stroke-width="1"/>
<text x="384.70" y="346" text-anchor="end" font-size="12.8">60</text>
<line x1="385.30" y1="370.39" x2="387.30" y2="370.39" stroke="#1a1a1a" stroke-width="1"/>
<line x1="384.30" y1="398.50" x2="387.30" y2="398.50" stroke="#1a1a1a" stroke-width="1"/>
<text x="384.70" y="403" text-anchor="end" font-size="12.8">70</text>
<line x1="387.30" y1="398.50" x2="387.30" y2="402.00" stroke="#1a1a1a" stroke-width="1"/>
<line x1="413.07" y1="398.50" x2="413.07" y2="400.70" stroke="#1a1a1a" stroke-width="1"/>
<line x1="428.14" y1="398.50" x2="428.14" y2="400.70" stroke="#1a1a1a" stroke-width="1"/>
<line x1="438.84" y1="398.50" x2="438.84" y2="400.70" stroke="#1a1a1a" stroke-width="1"/>
<line x1="447.13" y1="398.50" x2="447.13" y2="400.70" stroke="#1a1a1a" stroke-width="1"/>
<line x1="453.91" y1="398.50" x2="453.91" y2="400.70" stroke="#1a1a1a" stroke-width="1"/>
<line x1="459.64" y1="398.50" x2="459.64" y2="400.70" stroke="#1a1a1a" stroke-width="1"/>
<line x1="464.60" y1="398.50" x2="464.60" y2="400.70" stroke="#1a1a1a" stroke-width="1"/>
<line x1="468.98" y1="398.50" x2="468.98" y2="400.70" stroke="#1a1a1a" stroke-width="1"/>
<text x="381.30" y="414" font-size="12.8">10<tspan dy="-6" font-size="9.2">−1</tspan></text>
<line x1="472.90" y1="398.50" x2="472.90" y2="402.00" stroke="#1a1a1a" stroke-width="1"/>
<line x1="498.67" y1="398.50" x2="498.67" y2="400.70" stroke="#1a1a1a" stroke-width="1"/>
<line x1="513.74" y1="398.50" x2="513.74" y2="400.70" stroke="#1a1a1a" stroke-width="1"/>
<line x1="524.44" y1="398.50" x2="524.44" y2="400.70" stroke="#1a1a1a" stroke-width="1"/>
<line x1="532.73" y1="398.50" x2="532.73" y2="400.70" stroke="#1a1a1a" stroke-width="1"/>
<line x1="539.51" y1="398.50" x2="539.51" y2="400.70" stroke="#1a1a1a" stroke-width="1"/>
<line x1="545.24" y1="398.50" x2="545.24" y2="400.70" stroke="#1a1a1a" stroke-width="1"/>
<line x1="550.20" y1="398.50" x2="550.20" y2="400.70" stroke="#1a1a1a" stroke-width="1"/>
<line x1="554.58" y1="398.50" x2="554.58" y2="400.70" stroke="#1a1a1a" stroke-width="1"/>
<text x="466.90" y="414" font-size="12.8">10<tspan dy="-6" font-size="9.2">0</tspan></text>
<line x1="558.50" y1="398.50" x2="558.50" y2="402.00" stroke="#1a1a1a" stroke-width="1"/>
<line x1="584.27" y1="398.50" x2="584.27" y2="400.70" stroke="#1a1a1a" stroke-width="1"/>
<line x1="599.34" y1="398.50" x2="599.34" y2="400.70" stroke="#1a1a1a" stroke-width="1"/>
<line x1="610.04" y1="398.50" x2="610.04" y2="400.70" stroke="#1a1a1a" stroke-width="1"/>
<line x1="618.33" y1="398.50" x2="618.33" y2="400.70" stroke="#1a1a1a" stroke-width="1"/>
<line x1="625.11" y1="398.50" x2="625.11" y2="400.70" stroke="#1a1a1a" stroke-width="1"/>
<line x1="630.84" y1="398.50" x2="630.84" y2="400.70" stroke="#1a1a1a" stroke-width="1"/>
<line x1="635.80" y1="398.50" x2="635.80" y2="400.70" stroke="#1a1a1a" stroke-width="1"/>
<line x1="640.18" y1="398.50" x2="640.18" y2="400.70" stroke="#1a1a1a" stroke-width="1"/>
<text x="552.50" y="414" font-size="12.8">10<tspan dy="-6" font-size="9.2">1</tspan></text>
<line x1="644.10" y1="398.50" x2="644.10" y2="402.00" stroke="#1a1a1a" stroke-width="1"/>
<line x1="669.87" y1="398.50" x2="669.87" y2="400.70" stroke="#1a1a1a" stroke-width="1"/>
<text x="638.10" y="414" font-size="12.8">10<tspan dy="-6" font-size="9.2">2</tspan></text>
<text x="390.30" y="21.60" font-size="17.6">b)</text>
<text x="682.30" y="18.80" text-anchor="end" font-size="16.3"><tspan font-weight="bold" font-style="italic">Iw</tspan> 11 Mar. 2012 - 31 Dec. 2021</text>
<rect x="36.00" y="438.20" width="297.5" height="393.5" fill="none" stroke="#1a1a1a" stroke-width="1.1"/>
<line x1="33.00" y1="438.20" x2="36.00" y2="438.20" stroke="#1a1a1a" stroke-width="1"/>
<text x="33.40" y="442" text-anchor="end" font-size="12.8">0</text>
<line x1="34.00" y1="466.31" x2="36.00" y2="466.31" stroke="#1a1a1a" stroke-width="1"/>
<line x1="33.00" y1="494.41" x2="36.00" y2="494.41" stroke="#1a1a1a" stroke-width="1"/>
<text x="33.40" y="499" text-anchor="end" font-size="12.8">10</text>
<line x1="34.00" y1="522.52" x2="36.00" y2="522.52" stroke="#1a1a1a" stroke-width="1"/>
<line x1="33.00" y1="550.63" x2="36.00" y2="550.63" stroke="#1a1a1a" stroke-width="1"/>
<text x="33.40" y="555" text-anchor="end" font-size="12.8">20</text>
<line x1="34.00" y1="578.74" x2="36.00" y2="578.74" stroke="#1a1a1a" stroke-width="1"/>
<line x1="33.00" y1="606.84" x2="36.00" y2="606.84" stroke="#1a1a1a" stroke-width="1"/>
<text x="33.40" y="611" text-anchor="end" font-size="12.8">30</text>
<line x1="34.00" y1="634.95" x2="36.00" y2="634.95" stroke="#1a1a1a" stroke-width="1"/>
<line x1="33.00" y1="663.06" x2="36.00" y2="663.06" stroke="#1a1a1a" stroke-width="1"/>
<text x="33.40" y="667" text-anchor="end" font-size="12.8">40</text>
<line x1="34.00" y1="691.16" x2="36.00" y2="691.16" stroke="#1a1a1a" stroke-width="1"/>
<line x1="33.00" y1="719.27" x2="36.00" y2="719.27" stroke="#1a1a1a" stroke-width="1"/>
<text x="33.40" y="723" text-anchor="end" font-size="12.8">50</text>
<line x1="34.00" y1="747.38" x2="36.00" y2="747.38" stroke="#1a1a1a" stroke-width="1"/>
<line x1="33.00" y1="775.49" x2="36.00" y2="775.49" stroke="#1a1a1a" stroke-width="1"/>
<text x="33.40" y="780" text-anchor="end" font-size="12.8">60</text>
<line x1="34.00" y1="803.59" x2="36.00" y2="803.59" stroke="#1a1a1a" stroke-width="1"/>
<line x1="33.00" y1="831.70" x2="36.00" y2="831.70" stroke="#1a1a1a" stroke-width="1"/>
<text x="33.40" y="836" text-anchor="end" font-size="12.8">70</text>
<line x1="36.00" y1="831.70" x2="36.00" y2="835.20" stroke="#1a1a1a" stroke-width="1"/>
<line x1="61.77" y1="831.70" x2="61.77" y2="833.90" stroke="#1a1a1a" stroke-width="1"/>
<line x1="76.84" y1="831.70" x2="76.84" y2="833.90" stroke="#1a1a1a" stroke-width="1"/>
<line x1="87.54" y1="831.70" x2="87.54" y2="833.90" stroke="#1a1a1a" stroke-width="1"/>
<line x1="95.83" y1="831.70" x2="95.83" y2="833.90" stroke="#1a1a1a" stroke-width="1"/>
<line x1="102.61" y1="831.70" x2="102.61" y2="833.90" stroke="#1a1a1a" stroke-width="1"/>
<line x1="108.34" y1="831.70" x2="108.34" y2="833.90" stroke="#1a1a1a" stroke-width="1"/>
<line x1="113.30" y1="831.70" x2="113.30" y2="833.90" stroke="#1a1a1a" stroke-width="1"/>
<line x1="117.68" y1="831.70" x2="117.68" y2="833.90" stroke="#1a1a1a" stroke-width="1"/>
<text x="30.00" y="847" font-size="12.8">10<tspan dy="-6" font-size="9.2">−1</tspan></text>
<line x1="121.60" y1="831.70" x2="121.60" y2="835.20" stroke="#1a1a1a" stroke-width="1"/>
<line x1="147.37" y1="831.70" x2="147.37" y2="833.90" stroke="#1a1a1a" stroke-width="1"/>
<line x1="162.44" y1="831.70" x2="162.44" y2="833.90" stroke="#1a1a1a" stroke-width="1"/>
<line x1="173.14" y1="831.70" x2="173.14" y2="833.90" stroke="#1a1a1a" stroke-width="1"/>
<line x1="181.43" y1="831.70" x2="181.43" y2="833.90" stroke="#1a1a1a" stroke-width="1"/>
<line x1="188.21" y1="831.70" x2="188.21" y2="833.90" stroke="#1a1a1a" stroke-width="1"/>
<line x1="193.94" y1="831.70" x2="193.94" y2="833.90" stroke="#1a1a1a" stroke-width="1"/>
<line x1="198.90" y1="831.70" x2="198.90" y2="833.90" stroke="#1a1a1a" stroke-width="1"/>
<line x1="203.28" y1="831.70" x2="203.28" y2="833.90" stroke="#1a1a1a" stroke-width="1"/>
<text x="115.60" y="847" font-size="12.8">10<tspan dy="-6" font-size="9.2">0</tspan></text>
<line x1="207.20" y1="831.70" x2="207.20" y2="835.20" stroke="#1a1a1a" stroke-width="1"/>
<line x1="232.97" y1="831.70" x2="232.97" y2="833.90" stroke="#1a1a1a" stroke-width="1"/>
<line x1="248.04" y1="831.70" x2="248.04" y2="833.90" stroke="#1a1a1a" stroke-width="1"/>
<line x1="258.74" y1="831.70" x2="258.74" y2="833.90" stroke="#1a1a1a" stroke-width="1"/>
<line x1="267.03" y1="831.70" x2="267.03" y2="833.90" stroke="#1a1a1a" stroke-width="1"/>
<line x1="273.81" y1="831.70" x2="273.81" y2="833.90" stroke="#1a1a1a" stroke-width="1"/>
<line x1="279.54" y1="831.70" x2="279.54" y2="833.90" stroke="#1a1a1a" stroke-width="1"/>
<line x1="284.50" y1="831.70" x2="284.50" y2="833.90" stroke="#1a1a1a" stroke-width="1"/>
<line x1="288.88" y1="831.70" x2="288.88" y2="833.90" stroke="#1a1a1a" stroke-width="1"/>
<text x="201.20" y="847" font-size="12.8">10<tspan dy="-6" font-size="9.2">1</tspan></text>
<line x1="292.80" y1="831.70" x2="292.80" y2="835.20" stroke="#1a1a1a" stroke-width="1"/>
<line x1="318.57" y1="831.70" x2="318.57" y2="833.90" stroke="#1a1a1a" stroke-width="1"/>
<text x="286.80" y="847" font-size="12.8">10<tspan dy="-6" font-size="9.2">2</tspan></text>
<text x="39.00" y="454.80" font-size="17.6">c)</text>
<text x="331.00" y="452.00" text-anchor="end" font-size="16.3"><tspan font-weight="bold" font-style="italic">Se</tspan> 11 Mar. 2011 - 10&#160; Mar. 2012</text>
<rect x="387.50" y="438.30" width="297.5" height="393.5" fill="none" stroke="#1a1a1a" stroke-width="1.1"/>
<line x1="384.50" y1="438.30" x2="387.50" y2="438.30" stroke="#1a1a1a" stroke-width="1"/>
<text x="384.90" y="442" text-anchor="end" font-size="12.8">0</text>
<line x1="385.50" y1="466.41" x2="387.50" y2="466.41" stroke="#1a1a1a" stroke-width="1"/>
<line x1="384.50" y1="494.51" x2="387.50" y2="494.51" stroke="#1a1a1a" stroke-width="1"/>
<text x="384.90" y="499" text-anchor="end" font-size="12.8">10</text>
<line x1="385.50" y1="522.62" x2="387.50" y2="522.62" stroke="#1a1a1a" stroke-width="1"/>
<line x1="384.50" y1="550.73" x2="387.50" y2="550.73" stroke="#1a1a1a" stroke-width="1"/>
<text x="384.90" y="555" text-anchor="end" font-size="12.8">20</text>
<line x1="385.50" y1="578.84" x2="387.50" y2="578.84" stroke="#1a1a1a" stroke-width="1"/>
<line x1="384.50" y1="606.94" x2="387.50" y2="606.94" stroke="#1a1a1a" stroke-width="1"/>
<text x="384.90" y="611" text-anchor="end" font-size="12.8">30</text>
<line x1="385.50" y1="635.05" x2="387.50" y2="635.05" stroke="#1a1a1a" stroke-width="1"/>
<line x1="384.50" y1="663.16" x2="387.50" y2="663.16" stroke="#1a1a1a" stroke-width="1"/>
<text x="384.90" y="667" text-anchor="end" font-size="12.8">40</text>
<line x1="385.50" y1="691.26" x2="387.50" y2="691.26" stroke="#1a1a1a" stroke-width="1"/>
<line x1="384.50" y1="719.37" x2="387.50" y2="719.37" stroke="#1a1a1a" stroke-width="1"/>
<text x="384.90" y="723" text-anchor="end" font-size="12.8">50</text>
<line x1="385.50" y1="747.48" x2="387.50" y2="747.48" stroke="#1a1a1a" stroke-width="1"/>
<line x1="384.50" y1="775.59" x2="387.50" y2="775.59" stroke="#1a1a1a" stroke-width="1"/>
<text x="384.90" y="780" text-anchor="end" font-size="12.8">60</text>
<line x1="385.50" y1="803.69" x2="387.50" y2="803.69" stroke="#1a1a1a" stroke-width="1"/>
<line x1="384.50" y1="831.80" x2="387.50" y2="831.80" stroke="#1a1a1a" stroke-width="1"/>
<text x="384.90" y="836" text-anchor="end" font-size="12.8">70</text>
<line x1="387.50" y1="831.80" x2="387.50" y2="835.30" stroke="#1a1a1a" stroke-width="1"/>
<line x1="413.27" y1="831.80" x2="413.27" y2="834.00" stroke="#1a1a1a" stroke-width="1"/>
<line x1="428.34" y1="831.80" x2="428.34" y2="834.00" stroke="#1a1a1a" stroke-width="1"/>
<line x1="439.04" y1="831.80" x2="439.04" y2="834.00" stroke="#1a1a1a" stroke-width="1"/>
<line x1="447.33" y1="831.80" x2="447.33" y2="834.00" stroke="#1a1a1a" stroke-width="1"/>
<line x1="454.11" y1="831.80" x2="454.11" y2="834.00" stroke="#1a1a1a" stroke-width="1"/>
<line x1="459.84" y1="831.80" x2="459.84" y2="834.00" stroke="#1a1a1a" stroke-width="1"/>
<line x1="464.80" y1="831.80" x2="464.80" y2="834.00" stroke="#1a1a1a" stroke-width="1"/>
<line x1="469.18" y1="831.80" x2="469.18" y2="834.00" stroke="#1a1a1a" stroke-width="1"/>
<text x="381.50" y="847" font-size="12.8">10<tspan dy="-6" font-size="9.2">−1</tspan></text>
<line x1="473.10" y1="831.80" x2="473.10" y2="835.30" stroke="#1a1a1a" stroke-width="1"/>
<line x1="498.87" y1="831.80" x2="498.87" y2="834.00" stroke="#1a1a1a" stroke-width="1"/>
<line x1="513.94" y1="831.80" x2="513.94" y2="834.00" stroke="#1a1a1a" stroke-width="1"/>
<line x1="524.64" y1="831.80" x2="524.64" y2="834.00" stroke="#1a1a1a" stroke-width="1"/>
<line x1="532.93" y1="831.80" x2="532.93" y2="834.00" stroke="#1a1a1a" stroke-width="1"/>
<line x1="539.71" y1="831.80" x2="539.71" y2="834.00" stroke="#1a1a1a" stroke-width="1"/>
<line x1="545.44" y1="831.80" x2="545.44" y2="834.00" stroke="#1a1a1a" stroke-width="1"/>
<line x1="550.40" y1="831.80" x2="550.40" y2="834.00" stroke="#1a1a1a" stroke-width="1"/>
<line x1="554.78" y1="831.80" x2="554.78" y2="834.00" stroke="#1a1a1a" stroke-width="1"/>
<text x="467.10" y="847" font-size="12.8">10<tspan dy="-6" font-size="9.2">0</tspan></text>
<line x1="558.70" y1="831.80" x2="558.70" y2="835.30" stroke="#1a1a1a" stroke-width="1"/>
<line x1="584.47" y1="831.80" x2="584.47" y2="834.00" stroke="#1a1a1a" stroke-width="1"/>
<line x1="599.54" y1="831.80" x2="599.54" y2="834.00" stroke="#1a1a1a" stroke-width="1"/>
<line x1="610.24" y1="831.80" x2="610.24" y2="834.00" stroke="#1a1a1a" stroke-width="1"/>
<line x1="618.53" y1="831.80" x2="618.53" y2="834.00" stroke="#1a1a1a" stroke-width="1"/>
<line x1="625.31" y1="831.80" x2="625.31" y2="834.00" stroke="#1a1a1a" stroke-width="1"/>
<line x1="631.04" y1="831.80" x2="631.04" y2="834.00" stroke="#1a1a1a" stroke-width="1"/>
<line x1="636.00" y1="831.80" x2="636.00" y2="834.00" stroke="#1a1a1a" stroke-width="1"/>
<line x1="640.38" y1="831.80" x2="640.38" y2="834.00" stroke="#1a1a1a" stroke-width="1"/>
<text x="552.70" y="847" font-size="12.8">10<tspan dy="-6" font-size="9.2">1</tspan></text>
<line x1="644.30" y1="831.80" x2="644.30" y2="835.30" stroke="#1a1a1a" stroke-width="1"/>
<line x1="670.07" y1="831.80" x2="670.07" y2="834.00" stroke="#1a1a1a" stroke-width="1"/>
<text x="638.30" y="847" font-size="12.8">10<tspan dy="-6" font-size="9.2">2</tspan></text>
<text x="390.50" y="454.90" font-size="17.6">d)</text>
<text x="682.50" y="452.10" text-anchor="end" font-size="16.3"><tspan font-weight="bold" font-style="italic">Se</tspan> 11 Mar. 2012 - 31 Dec. 2021</text>
<text transform="translate(13.4,190.6) rotate(-90)" text-anchor="middle" font-size="18.6">Depth [km]</text>
<text transform="translate(13.4,623.7) rotate(-90)" text-anchor="middle" font-size="18.6">Depth [km]</text>
<text x="191.4" y="863.8" text-anchor="middle" font-size="18.7">Stress Drop [MPa]</text>
<text x="543.0" y="863.8" text-anchor="middle" font-size="18.7">Stress Drop [MPa]</text>
<rect x="389.6" y="733.2" width="293" height="96.8" rx="2.5" fill="#fff" fill-opacity="0.85" stroke="#d4d4d4" stroke-width="1"/>
<rect x="395" y="749.6" width="6.8" height="6.8" fill="#add8e6"/>
<rect x="395.6" y="777" width="5.8" height="5.8" fill="#f6b540" stroke="#3a3020" stroke-width="0.55"/>
<path d="M390.8 799.2H406M390.8 816.7H406M398.8 808V827.8" stroke="#000" stroke-width="1.2" fill="none"/>
<rect x="395" y="795.4" width="7.6" height="7.6" fill="#ffff00" stroke="#000" stroke-width="1.3"/>
<rect x="395" y="812.9" width="7.6" height="7.6" fill="#fff" stroke="#000" stroke-width="1.3"/>
<text x="408.5" y="748.6" font-size="16.3" fill="#3a3a3a">Δσ attenuation-corrected and</text>
<text x="408.5" y="767" font-size="16.3" fill="#3a3a3a">uncorrected individual spectra fitting</text>
<text x="408.5" y="785.4" font-size="16.3" fill="#1a1a1a">Δσ spectral-ratio (SR) fitting</text>
<text x="408.5" y="804.2" font-size="16.3" fill="#111">Mean depth &amp; median Δσ SR fitting</text>
<text x="408.5" y="821.7" font-size="16.3" fill="#111">Mean depth &amp; median Δσ all methods</text>
<text x="325.5" y="374.5" text-anchor="end" font-size="16.3" font-style="italic"># of events: 3179</text>
<text x="325.5" y="391.0" text-anchor="end" font-size="16.3"><tspan font-style="italic">r-value</tspan> = 0.99</text>
<text x="676.5" y="375.0" text-anchor="end" font-size="16.3" font-style="italic"># of events: 2440</text>
<text x="676.5" y="390.7" text-anchor="end" font-size="16.3"><tspan font-style="italic">r-value</tspan> = 0.78</text>
<text x="326.5" y="809.3" text-anchor="end" font-size="16.3" font-style="italic"># of events: 1074</text>
<text x="326.5" y="824.4" text-anchor="end" font-size="16.3"><tspan font-style="italic">r-value</tspan> = 0.86</text>
<text x="676.5" y="694.3" text-anchor="end" font-size="16.3" font-style="italic"># of events: 929</text>
<text x="676.5" y="710.0" text-anchor="end" font-size="16.3"><tspan font-style="italic">r-value</tspan> = 0.88</text></svg></body></html>
